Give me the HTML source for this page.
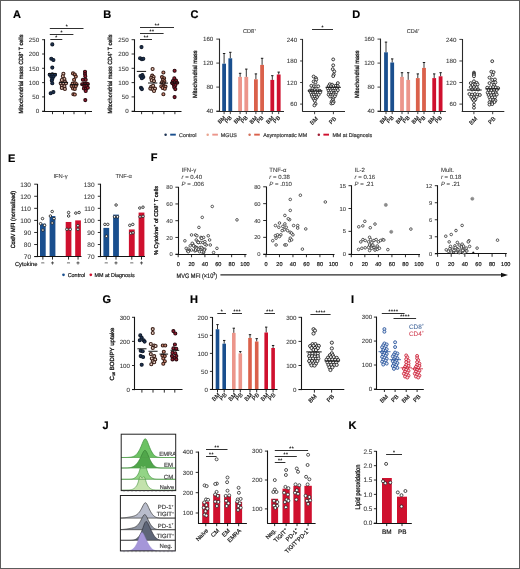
<!DOCTYPE html>
<html><head><meta charset="utf-8"><style>
html,body{margin:0;padding:0;background:#fff;}
svg{display:block;will-change:transform;font-family:"Liberation Sans", sans-serif;}
text{stroke:currentColor;stroke-width:0.18px;text-rendering:geometricPrecision;}
text.t{stroke-width:0.08px;}
text.yl{stroke-width:0.3px;}
</style></head><body>
<svg width="520" height="569" viewBox="0 0 520 569">
<rect width="520" height="569" fill="#fff"/>
<rect x="0.5" y="0.5" width="519" height="568" fill="none" stroke="#5c5c5c" stroke-width="1"/>
<text x="13" y="17.8" font-size="11" fill="#000" color="#000" font-weight="bold" >A</text>
<line x1="44.5" y1="39.3" x2="44.5" y2="111.7" stroke="#141414" stroke-width="1.1" />
<line x1="42.1" y1="111.2" x2="44.9" y2="111.2" stroke="#141414" stroke-width="0.9" />
<text x="39.1" y="113.43" font-size="6.2" fill="#383838" color="#383838" text-anchor="end" class="t">0</text>
<line x1="42.1" y1="96.9" x2="44.9" y2="96.9" stroke="#141414" stroke-width="0.9" />
<text x="39.1" y="99.13" font-size="6.2" fill="#383838" color="#383838" text-anchor="end" class="t">50</text>
<line x1="42.1" y1="82.6" x2="44.9" y2="82.6" stroke="#141414" stroke-width="0.9" />
<text x="39.1" y="84.83" font-size="6.2" fill="#383838" color="#383838" text-anchor="end" class="t">100</text>
<line x1="42.1" y1="68.3" x2="44.9" y2="68.3" stroke="#141414" stroke-width="0.9" />
<text x="39.1" y="70.53" font-size="6.2" fill="#383838" color="#383838" text-anchor="end" class="t">150</text>
<line x1="42.1" y1="54" x2="44.9" y2="54" stroke="#141414" stroke-width="0.9" />
<text x="39.1" y="56.23" font-size="6.2" fill="#383838" color="#383838" text-anchor="end" class="t">200</text>
<line x1="42.1" y1="39.7" x2="44.9" y2="39.7" stroke="#141414" stroke-width="0.9" />
<text x="39.1" y="41.93" font-size="6.2" fill="#383838" color="#383838" text-anchor="end" class="t">250</text>
<line x1="42.3" y1="111.5" x2="92" y2="111.5" stroke="#141414" stroke-width="1.1" />
<line x1="52.5" y1="111.2" x2="52.5" y2="114.2" stroke="#141414" stroke-width="0.9" />
<line x1="63.5" y1="111.2" x2="63.5" y2="114.2" stroke="#141414" stroke-width="0.9" />
<line x1="74" y1="111.2" x2="74" y2="114.2" stroke="#141414" stroke-width="0.9" />
<line x1="85.3" y1="111.2" x2="85.3" y2="114.2" stroke="#141414" stroke-width="0.9" />
<text x="22.9" y="74" font-size="6" fill="#141414" color="#141414" text-anchor="middle" textLength="79" lengthAdjust="spacingAndGlyphs" transform="rotate(-90 22.9 74)" class="yl">Mitochondrial mass CD8<tspan font-size="3.72" dy="-2.28">+</tspan><tspan dy="2.28"> T cells</tspan></text>
<line x1="49.8" y1="28.5" x2="83.5" y2="28.5" stroke="#303030" stroke-width="1.0" />
<text x="66.9" y="28" font-size="5" fill="#141414" color="#141414" text-anchor="middle" letter-spacing="0.5">*</text>
<line x1="49.8" y1="34.5" x2="73.4" y2="34.5" stroke="#303030" stroke-width="1.0" />
<text x="61.85" y="34" font-size="5" fill="#141414" color="#141414" text-anchor="middle" letter-spacing="0.5">*</text>
<line x1="50.3" y1="39.5" x2="62.3" y2="39.5" stroke="#303030" stroke-width="1.0" />
<text x="56.55" y="39" font-size="5" fill="#141414" color="#141414" text-anchor="middle" letter-spacing="0.5">*</text>
<circle cx="52.3" cy="44.4" r="1.5" fill="#1d3354" stroke="#101a2a" stroke-width="1.1"/>
<circle cx="51.3" cy="58.7" r="1.5" fill="#1d3354" stroke="#101a2a" stroke-width="1.1"/>
<circle cx="53.4" cy="60" r="1.5" fill="#1d3354" stroke="#101a2a" stroke-width="1.1"/>
<circle cx="52.3" cy="67.6" r="1.5" fill="#1d3354" stroke="#101a2a" stroke-width="1.1"/>
<circle cx="49.7" cy="74.7" r="1.5" fill="#1d3354" stroke="#101a2a" stroke-width="1.1"/>
<circle cx="52.3" cy="74.2" r="1.5" fill="#1d3354" stroke="#101a2a" stroke-width="1.1"/>
<circle cx="55" cy="74.7" r="1.5" fill="#1d3354" stroke="#101a2a" stroke-width="1.1"/>
<circle cx="51.3" cy="76.8" r="1.5" fill="#1d3354" stroke="#101a2a" stroke-width="1.1"/>
<circle cx="53.4" cy="76.8" r="1.5" fill="#1d3354" stroke="#101a2a" stroke-width="1.1"/>
<circle cx="52.3" cy="79" r="1.5" fill="#1d3354" stroke="#101a2a" stroke-width="1.1"/>
<circle cx="51.8" cy="80.5" r="1.5" fill="#1d3354" stroke="#101a2a" stroke-width="1.1"/>
<circle cx="52.3" cy="83.2" r="1.5" fill="#1d3354" stroke="#101a2a" stroke-width="1.1"/>
<circle cx="50.7" cy="93.2" r="1.5" fill="#1d3354" stroke="#101a2a" stroke-width="1.1"/>
<circle cx="53.4" cy="92.1" r="1.5" fill="#1d3354" stroke="#101a2a" stroke-width="1.1"/>
<line x1="48.1" y1="73.5" x2="56.5" y2="73.5" stroke="#111" stroke-width="1.0" />
<circle cx="63.4" cy="73.7" r="1.5" fill="#e6c4b2" stroke="#3a1f18" stroke-width="1.1"/>
<circle cx="62.8" cy="76.3" r="1.5" fill="#e6c4b2" stroke="#3a1f18" stroke-width="1.1"/>
<circle cx="64.4" cy="79" r="1.5" fill="#e6c4b2" stroke="#3a1f18" stroke-width="1.1"/>
<circle cx="61.8" cy="80" r="1.5" fill="#e6c4b2" stroke="#3a1f18" stroke-width="1.1"/>
<circle cx="64.9" cy="81.6" r="1.5" fill="#e6c4b2" stroke="#3a1f18" stroke-width="1.1"/>
<circle cx="60.7" cy="83.2" r="1.5" fill="#e6c4b2" stroke="#3a1f18" stroke-width="1.1"/>
<circle cx="63.4" cy="83.2" r="1.5" fill="#e6c4b2" stroke="#3a1f18" stroke-width="1.1"/>
<circle cx="66" cy="83.2" r="1.5" fill="#e6c4b2" stroke="#3a1f18" stroke-width="1.1"/>
<circle cx="61.8" cy="85.8" r="1.5" fill="#e6c4b2" stroke="#3a1f18" stroke-width="1.1"/>
<circle cx="64.4" cy="86.3" r="1.5" fill="#e6c4b2" stroke="#3a1f18" stroke-width="1.1"/>
<circle cx="61.8" cy="87.9" r="1.5" fill="#e6c4b2" stroke="#3a1f18" stroke-width="1.1"/>
<circle cx="64.9" cy="88.9" r="1.5" fill="#e6c4b2" stroke="#3a1f18" stroke-width="1.1"/>
<line x1="59.2" y1="82.6" x2="68.1" y2="82.6" stroke="#111" stroke-width="1.0" />
<circle cx="73" cy="73.4" r="1.5" fill="#cf8c78" stroke="#3a1f18" stroke-width="1.1"/>
<circle cx="74.8" cy="74.5" r="1.5" fill="#cf8c78" stroke="#3a1f18" stroke-width="1.1"/>
<circle cx="75.8" cy="76.6" r="1.5" fill="#cf8c78" stroke="#3a1f18" stroke-width="1.1"/>
<circle cx="74.1" cy="79.8" r="1.5" fill="#cf8c78" stroke="#3a1f18" stroke-width="1.1"/>
<circle cx="72.7" cy="83.6" r="1.5" fill="#cf8c78" stroke="#3a1f18" stroke-width="1.1"/>
<circle cx="75.1" cy="83.3" r="1.5" fill="#cf8c78" stroke="#3a1f18" stroke-width="1.1"/>
<circle cx="76.5" cy="84.3" r="1.5" fill="#cf8c78" stroke="#3a1f18" stroke-width="1.1"/>
<circle cx="71.6" cy="86.1" r="1.5" fill="#cf8c78" stroke="#3a1f18" stroke-width="1.1"/>
<circle cx="73.7" cy="86.1" r="1.5" fill="#cf8c78" stroke="#3a1f18" stroke-width="1.1"/>
<circle cx="75.8" cy="86.1" r="1.5" fill="#cf8c78" stroke="#3a1f18" stroke-width="1.1"/>
<circle cx="73" cy="88.5" r="1.5" fill="#cf8c78" stroke="#3a1f18" stroke-width="1.1"/>
<circle cx="74.8" cy="88.9" r="1.5" fill="#cf8c78" stroke="#3a1f18" stroke-width="1.1"/>
<circle cx="73.4" cy="94.2" r="1.5" fill="#cf8c78" stroke="#3a1f18" stroke-width="1.1"/>
<circle cx="74.8" cy="94.5" r="1.5" fill="#cf8c78" stroke="#3a1f18" stroke-width="1.1"/>
<line x1="69.9" y1="84.7" x2="78.3" y2="84.7" stroke="#111" stroke-width="1.0" />
<circle cx="85" cy="71.7" r="1.5" fill="#9e1b30" stroke="#2a0a10" stroke-width="1.1"/>
<circle cx="85" cy="74.1" r="1.5" fill="#9e1b30" stroke="#2a0a10" stroke-width="1.1"/>
<circle cx="85.3" cy="76.2" r="1.5" fill="#9e1b30" stroke="#2a0a10" stroke-width="1.1"/>
<circle cx="82.9" cy="79.8" r="1.5" fill="#9e1b30" stroke="#2a0a10" stroke-width="1.1"/>
<circle cx="85.7" cy="79.8" r="1.5" fill="#9e1b30" stroke="#2a0a10" stroke-width="1.1"/>
<circle cx="84.3" cy="83.6" r="1.5" fill="#9e1b30" stroke="#2a0a10" stroke-width="1.1"/>
<circle cx="82.2" cy="84.3" r="1.5" fill="#9e1b30" stroke="#2a0a10" stroke-width="1.1"/>
<circle cx="86.4" cy="83.6" r="1.5" fill="#9e1b30" stroke="#2a0a10" stroke-width="1.1"/>
<circle cx="87.8" cy="84" r="1.5" fill="#9e1b30" stroke="#2a0a10" stroke-width="1.1"/>
<circle cx="84.3" cy="86.1" r="1.5" fill="#9e1b30" stroke="#2a0a10" stroke-width="1.1"/>
<circle cx="86.4" cy="86.1" r="1.5" fill="#9e1b30" stroke="#2a0a10" stroke-width="1.1"/>
<circle cx="83.9" cy="88.5" r="1.5" fill="#9e1b30" stroke="#2a0a10" stroke-width="1.1"/>
<circle cx="86" cy="88.9" r="1.5" fill="#9e1b30" stroke="#2a0a10" stroke-width="1.1"/>
<circle cx="87.8" cy="87.8" r="1.5" fill="#9e1b30" stroke="#2a0a10" stroke-width="1.1"/>
<circle cx="85.7" cy="91" r="1.5" fill="#9e1b30" stroke="#2a0a10" stroke-width="1.1"/>
<circle cx="85.3" cy="100.1" r="1.5" fill="#9e1b30" stroke="#2a0a10" stroke-width="1.1"/>
<line x1="81.1" y1="84.3" x2="89.2" y2="84.3" stroke="#111" stroke-width="1.0" />
<text x="103.2" y="17.9" font-size="11" fill="#000" color="#000" font-weight="bold" >B</text>
<line x1="134.5" y1="39.3" x2="134.5" y2="111.7" stroke="#141414" stroke-width="1.1" />
<line x1="131.6" y1="111.2" x2="134.4" y2="111.2" stroke="#141414" stroke-width="0.9" />
<text x="128.6" y="113.43" font-size="6.2" fill="#383838" color="#383838" text-anchor="end" class="t">0</text>
<line x1="131.6" y1="96.9" x2="134.4" y2="96.9" stroke="#141414" stroke-width="0.9" />
<text x="128.6" y="99.13" font-size="6.2" fill="#383838" color="#383838" text-anchor="end" class="t">50</text>
<line x1="131.6" y1="82.6" x2="134.4" y2="82.6" stroke="#141414" stroke-width="0.9" />
<text x="128.6" y="84.83" font-size="6.2" fill="#383838" color="#383838" text-anchor="end" class="t">100</text>
<line x1="131.6" y1="68.3" x2="134.4" y2="68.3" stroke="#141414" stroke-width="0.9" />
<text x="128.6" y="70.53" font-size="6.2" fill="#383838" color="#383838" text-anchor="end" class="t">150</text>
<line x1="131.6" y1="54" x2="134.4" y2="54" stroke="#141414" stroke-width="0.9" />
<text x="128.6" y="56.23" font-size="6.2" fill="#383838" color="#383838" text-anchor="end" class="t">200</text>
<line x1="131.6" y1="39.7" x2="134.4" y2="39.7" stroke="#141414" stroke-width="0.9" />
<text x="128.6" y="41.93" font-size="6.2" fill="#383838" color="#383838" text-anchor="end" class="t">250</text>
<line x1="131.8" y1="111.5" x2="181.5" y2="111.5" stroke="#141414" stroke-width="1.1" />
<line x1="141.6" y1="111.2" x2="141.6" y2="114.2" stroke="#141414" stroke-width="0.9" />
<line x1="152.7" y1="111.2" x2="152.7" y2="114.2" stroke="#141414" stroke-width="0.9" />
<line x1="163.9" y1="111.2" x2="163.9" y2="114.2" stroke="#141414" stroke-width="0.9" />
<line x1="174.9" y1="111.2" x2="174.9" y2="114.2" stroke="#141414" stroke-width="0.9" />
<text x="112.3" y="74" font-size="6" fill="#141414" color="#141414" text-anchor="middle" textLength="79" lengthAdjust="spacingAndGlyphs" transform="rotate(-90 112.3 74)" class="yl">Mitochondrial mass CD4<tspan font-size="3.72" dy="-2.28">+</tspan><tspan dy="2.28"> T cells</tspan></text>
<line x1="140" y1="27.5" x2="174" y2="27.5" stroke="#303030" stroke-width="1.0" />
<text x="157.25" y="27" font-size="5" fill="#141414" color="#141414" text-anchor="middle" letter-spacing="0.5">**</text>
<line x1="140" y1="33.5" x2="163.6" y2="33.5" stroke="#303030" stroke-width="1.0" />
<text x="152.05" y="33" font-size="5" fill="#141414" color="#141414" text-anchor="middle" letter-spacing="0.5">**</text>
<line x1="140" y1="39.5" x2="152" y2="39.5" stroke="#303030" stroke-width="1.0" />
<text x="146.25" y="39" font-size="5" fill="#141414" color="#141414" text-anchor="middle" letter-spacing="0.5">**</text>
<circle cx="141.5" cy="47.1" r="1.5" fill="#1d3354" stroke="#101a2a" stroke-width="1.1"/>
<circle cx="140.1" cy="58.3" r="1.5" fill="#1d3354" stroke="#101a2a" stroke-width="1.1"/>
<circle cx="141.9" cy="59.2" r="1.5" fill="#1d3354" stroke="#101a2a" stroke-width="1.1"/>
<circle cx="143.3" cy="58.8" r="1.5" fill="#1d3354" stroke="#101a2a" stroke-width="1.1"/>
<circle cx="140.5" cy="76" r="1.5" fill="#1d3354" stroke="#101a2a" stroke-width="1.1"/>
<circle cx="142.4" cy="75.1" r="1.5" fill="#1d3354" stroke="#101a2a" stroke-width="1.1"/>
<circle cx="143.3" cy="77" r="1.5" fill="#1d3354" stroke="#101a2a" stroke-width="1.1"/>
<circle cx="141.9" cy="78.3" r="1.5" fill="#1d3354" stroke="#101a2a" stroke-width="1.1"/>
<circle cx="141" cy="87.7" r="1.5" fill="#1d3354" stroke="#101a2a" stroke-width="1.1"/>
<circle cx="141.9" cy="89.1" r="1.5" fill="#1d3354" stroke="#101a2a" stroke-width="1.1"/>
<line x1="136.8" y1="71.4" x2="146.1" y2="71.4" stroke="#111" stroke-width="1.0" />
<circle cx="152.6" cy="69" r="1.5" fill="#e6c4b2" stroke="#3a1f18" stroke-width="1.1"/>
<circle cx="152.2" cy="75.6" r="1.5" fill="#e6c4b2" stroke="#3a1f18" stroke-width="1.1"/>
<circle cx="153.6" cy="77" r="1.5" fill="#e6c4b2" stroke="#3a1f18" stroke-width="1.1"/>
<circle cx="151.2" cy="77.9" r="1.5" fill="#e6c4b2" stroke="#3a1f18" stroke-width="1.1"/>
<circle cx="153.1" cy="78.8" r="1.5" fill="#e6c4b2" stroke="#3a1f18" stroke-width="1.1"/>
<circle cx="151.7" cy="80.2" r="1.5" fill="#e6c4b2" stroke="#3a1f18" stroke-width="1.1"/>
<circle cx="154" cy="81.1" r="1.5" fill="#e6c4b2" stroke="#3a1f18" stroke-width="1.1"/>
<circle cx="151.2" cy="86.7" r="1.5" fill="#e6c4b2" stroke="#3a1f18" stroke-width="1.1"/>
<circle cx="153.1" cy="85.8" r="1.5" fill="#e6c4b2" stroke="#3a1f18" stroke-width="1.1"/>
<circle cx="150.3" cy="88.6" r="1.5" fill="#e6c4b2" stroke="#3a1f18" stroke-width="1.1"/>
<circle cx="152.6" cy="89.1" r="1.5" fill="#e6c4b2" stroke="#3a1f18" stroke-width="1.1"/>
<circle cx="155" cy="88.6" r="1.5" fill="#e6c4b2" stroke="#3a1f18" stroke-width="1.1"/>
<circle cx="154" cy="91" r="1.5" fill="#e6c4b2" stroke="#3a1f18" stroke-width="1.1"/>
<line x1="148" y1="83" x2="157.3" y2="83" stroke="#111" stroke-width="1.0" />
<circle cx="163.4" cy="72.5" r="1.5" fill="#cf8c78" stroke="#3a1f18" stroke-width="1.1"/>
<circle cx="162" cy="77.1" r="1.5" fill="#cf8c78" stroke="#3a1f18" stroke-width="1.1"/>
<circle cx="164.1" cy="78.2" r="1.5" fill="#cf8c78" stroke="#3a1f18" stroke-width="1.1"/>
<circle cx="163" cy="79.9" r="1.5" fill="#cf8c78" stroke="#3a1f18" stroke-width="1.1"/>
<circle cx="164.4" cy="81.3" r="1.5" fill="#cf8c78" stroke="#3a1f18" stroke-width="1.1"/>
<circle cx="162" cy="82.4" r="1.5" fill="#cf8c78" stroke="#3a1f18" stroke-width="1.1"/>
<circle cx="163.7" cy="83.1" r="1.5" fill="#cf8c78" stroke="#3a1f18" stroke-width="1.1"/>
<circle cx="161.3" cy="86.2" r="1.5" fill="#cf8c78" stroke="#3a1f18" stroke-width="1.1"/>
<circle cx="163.4" cy="86.6" r="1.5" fill="#cf8c78" stroke="#3a1f18" stroke-width="1.1"/>
<circle cx="165.5" cy="86.6" r="1.5" fill="#cf8c78" stroke="#3a1f18" stroke-width="1.1"/>
<circle cx="162.7" cy="88" r="1.5" fill="#cf8c78" stroke="#3a1f18" stroke-width="1.1"/>
<circle cx="164.8" cy="88.7" r="1.5" fill="#cf8c78" stroke="#3a1f18" stroke-width="1.1"/>
<circle cx="163.4" cy="94.3" r="1.5" fill="#cf8c78" stroke="#3a1f18" stroke-width="1.1"/>
<line x1="159.2" y1="83.1" x2="168" y2="83.1" stroke="#111" stroke-width="1.0" />
<circle cx="174.6" cy="70.8" r="1.5" fill="#9e1b30" stroke="#2a0a10" stroke-width="1.1"/>
<circle cx="174.3" cy="78.2" r="1.5" fill="#9e1b30" stroke="#2a0a10" stroke-width="1.1"/>
<circle cx="172.9" cy="81" r="1.5" fill="#9e1b30" stroke="#2a0a10" stroke-width="1.1"/>
<circle cx="176" cy="80.6" r="1.5" fill="#9e1b30" stroke="#2a0a10" stroke-width="1.1"/>
<circle cx="174.6" cy="82.4" r="1.5" fill="#9e1b30" stroke="#2a0a10" stroke-width="1.1"/>
<circle cx="172.2" cy="83.1" r="1.5" fill="#9e1b30" stroke="#2a0a10" stroke-width="1.1"/>
<circle cx="177.1" cy="82.7" r="1.5" fill="#9e1b30" stroke="#2a0a10" stroke-width="1.1"/>
<circle cx="173.9" cy="85.2" r="1.5" fill="#9e1b30" stroke="#2a0a10" stroke-width="1.1"/>
<circle cx="175.3" cy="85.2" r="1.5" fill="#9e1b30" stroke="#2a0a10" stroke-width="1.1"/>
<circle cx="174.3" cy="87.3" r="1.5" fill="#9e1b30" stroke="#2a0a10" stroke-width="1.1"/>
<circle cx="175.3" cy="89.1" r="1.5" fill="#9e1b30" stroke="#2a0a10" stroke-width="1.1"/>
<circle cx="174.6" cy="97.1" r="1.5" fill="#9e1b30" stroke="#2a0a10" stroke-width="1.1"/>
<line x1="170" y1="82.9" x2="179.2" y2="82.9" stroke="#111" stroke-width="1.0" />
<text x="190.4" y="17.7" font-size="11" fill="#000" color="#000" font-weight="bold" >C</text>
<text x="249.5" y="33" font-size="5.6" fill="#3a3a3a" color="#3a3a3a" text-anchor="middle" class="t">CD8<tspan font-size="3.22" dy="-1.98">+</tspan><tspan dy="1.98"></tspan></text>
<line x1="219.5" y1="38.6" x2="219.5" y2="111.6" stroke="#2a2a2a" stroke-width="1.1" />
<line x1="216.3" y1="111.1" x2="219.1" y2="111.1" stroke="#2a2a2a" stroke-width="0.9" />
<text x="213.3" y="113.33" font-size="6.2" fill="#383838" color="#383838" text-anchor="end" class="t">40</text>
<line x1="216.3" y1="87.1" x2="219.1" y2="87.1" stroke="#2a2a2a" stroke-width="0.9" />
<text x="213.3" y="89.33" font-size="6.2" fill="#383838" color="#383838" text-anchor="end" class="t">80</text>
<line x1="216.3" y1="63.1" x2="219.1" y2="63.1" stroke="#2a2a2a" stroke-width="0.9" />
<text x="213.3" y="65.33" font-size="6.2" fill="#383838" color="#383838" text-anchor="end" class="t">120</text>
<line x1="216.3" y1="39.1" x2="219.1" y2="39.1" stroke="#2a2a2a" stroke-width="0.9" />
<text x="213.3" y="41.33" font-size="6.2" fill="#383838" color="#383838" text-anchor="end" class="t">160</text>
<text x="196.8" y="74.2" font-size="6" fill="#141414" color="#141414" text-anchor="middle" textLength="47.5" lengthAdjust="spacingAndGlyphs" transform="rotate(-90 196.8 74.2)" class="yl">Mitochondrial mass</text>
<line x1="224.1" y1="63.7" x2="224.1" y2="53.5" stroke="#111" stroke-width="0.85" />
<line x1="222.9" y1="53.5" x2="225.3" y2="53.5" stroke="#111" stroke-width="0.95" />
<rect x="222.2" y="63.7" width="3.8" height="47.4" fill="#1a4f8e" />
<line x1="230.3" y1="58.3" x2="230.3" y2="52.3" stroke="#111" stroke-width="0.85" />
<line x1="229.1" y1="52.3" x2="231.5" y2="52.3" stroke="#111" stroke-width="0.95" />
<rect x="228.4" y="58.3" width="3.8" height="52.8" fill="#1a4f8e" />
<line x1="240.1" y1="76.9" x2="240.1" y2="73.3" stroke="#111" stroke-width="0.85" />
<line x1="238.9" y1="73.3" x2="241.3" y2="73.3" stroke="#111" stroke-width="0.95" />
<rect x="238.2" y="76.9" width="3.8" height="34.2" fill="#ec968b" />
<line x1="246.3" y1="76.9" x2="246.3" y2="69.1" stroke="#111" stroke-width="0.85" />
<line x1="245.1" y1="69.1" x2="247.5" y2="69.1" stroke="#111" stroke-width="0.95" />
<rect x="244.4" y="76.9" width="3.8" height="34.2" fill="#ec968b" />
<line x1="255.9" y1="79.3" x2="255.9" y2="73.9" stroke="#111" stroke-width="0.85" />
<line x1="254.7" y1="73.9" x2="257.1" y2="73.9" stroke="#111" stroke-width="0.95" />
<rect x="254" y="79.3" width="3.8" height="31.8" fill="#da614b" />
<line x1="262.1" y1="64.9" x2="262.1" y2="58.3" stroke="#111" stroke-width="0.85" />
<line x1="260.9" y1="58.3" x2="263.3" y2="58.3" stroke="#111" stroke-width="0.95" />
<rect x="260.2" y="64.9" width="3.8" height="46.2" fill="#da614b" />
<line x1="272.3" y1="79.9" x2="272.3" y2="75.7" stroke="#111" stroke-width="0.85" />
<line x1="271.1" y1="75.7" x2="273.5" y2="75.7" stroke="#111" stroke-width="0.95" />
<rect x="270.4" y="79.9" width="3.8" height="31.2" fill="#cf102e" />
<line x1="278.7" y1="74.5" x2="278.7" y2="72.1" stroke="#111" stroke-width="0.85" />
<line x1="277.5" y1="72.1" x2="279.9" y2="72.1" stroke="#111" stroke-width="0.95" />
<rect x="276.8" y="74.5" width="3.8" height="36.6" fill="#cf102e" />
<line x1="216.5" y1="111.5" x2="284" y2="111.5" stroke="#2a2a2a" stroke-width="1.1" />
<line x1="224.1" y1="111.1" x2="224.1" y2="114.1" stroke="#2a2a2a" stroke-width="0.9" />
<line x1="230.3" y1="111.1" x2="230.3" y2="114.1" stroke="#2a2a2a" stroke-width="0.9" />
<line x1="240.1" y1="111.1" x2="240.1" y2="114.1" stroke="#2a2a2a" stroke-width="0.9" />
<line x1="246.3" y1="111.1" x2="246.3" y2="114.1" stroke="#2a2a2a" stroke-width="0.9" />
<line x1="255.9" y1="111.1" x2="255.9" y2="114.1" stroke="#2a2a2a" stroke-width="0.9" />
<line x1="262.1" y1="111.1" x2="262.1" y2="114.1" stroke="#2a2a2a" stroke-width="0.9" />
<line x1="272.3" y1="111.1" x2="272.3" y2="114.1" stroke="#2a2a2a" stroke-width="0.9" />
<line x1="278.7" y1="111.1" x2="278.7" y2="114.1" stroke="#2a2a2a" stroke-width="0.9" />
<text x="226" y="118.2" font-size="5.6" fill="#141414" color="#141414" text-anchor="end" transform="rotate(-45 226 118.2)" >BM</text>
<text x="232.2" y="118.2" font-size="5.6" fill="#141414" color="#141414" text-anchor="end" transform="rotate(-45 232.2 118.2)" >PB</text>
<text x="242" y="118.2" font-size="5.6" fill="#141414" color="#141414" text-anchor="end" transform="rotate(-45 242 118.2)" >BM</text>
<text x="248.2" y="118.2" font-size="5.6" fill="#141414" color="#141414" text-anchor="end" transform="rotate(-45 248.2 118.2)" >PB</text>
<text x="257.8" y="118.2" font-size="5.6" fill="#141414" color="#141414" text-anchor="end" transform="rotate(-45 257.8 118.2)" >BM</text>
<text x="264" y="118.2" font-size="5.6" fill="#141414" color="#141414" text-anchor="end" transform="rotate(-45 264 118.2)" >PB</text>
<text x="274.2" y="118.2" font-size="5.6" fill="#141414" color="#141414" text-anchor="end" transform="rotate(-45 274.2 118.2)" >BM</text>
<text x="280.6" y="118.2" font-size="5.6" fill="#141414" color="#141414" text-anchor="end" transform="rotate(-45 280.6 118.2)" >PB</text>
<line x1="302.5" y1="39" x2="302.5" y2="111.7" stroke="#2a2a2a" stroke-width="1.1" />
<line x1="300.1" y1="104.1" x2="302.9" y2="104.1" stroke="#2a2a2a" stroke-width="0.9" />
<text x="297.1" y="106.33" font-size="6.2" fill="#383838" color="#383838" text-anchor="end" class="t">60</text>
<line x1="300.1" y1="82.53" x2="302.9" y2="82.53" stroke="#2a2a2a" stroke-width="0.9" />
<text x="297.1" y="84.77" font-size="6.2" fill="#383838" color="#383838" text-anchor="end" class="t">120</text>
<line x1="300.1" y1="60.97" x2="302.9" y2="60.97" stroke="#2a2a2a" stroke-width="0.9" />
<text x="297.1" y="63.2" font-size="6.2" fill="#383838" color="#383838" text-anchor="end" class="t">180</text>
<line x1="300.1" y1="39.4" x2="302.9" y2="39.4" stroke="#2a2a2a" stroke-width="0.9" />
<text x="297.1" y="41.63" font-size="6.2" fill="#383838" color="#383838" text-anchor="end" class="t">240</text>
<line x1="302.4" y1="111.5" x2="345" y2="111.5" stroke="#2a2a2a" stroke-width="1.1" />
<line x1="314.6" y1="111.2" x2="314.6" y2="114.2" stroke="#2a2a2a" stroke-width="0.9" />
<line x1="333.4" y1="111.2" x2="333.4" y2="114.2" stroke="#2a2a2a" stroke-width="0.9" />
<text x="318.4" y="119" font-size="5.8" fill="#141414" color="#141414" text-anchor="end" transform="rotate(-45 318.4 119)" >BM</text>
<text x="336.7" y="119" font-size="5.8" fill="#141414" color="#141414" text-anchor="end" transform="rotate(-45 336.7 119)" >PB</text>
<circle cx="313.62" cy="76.54" r="1.45" fill="#f4f4f4" stroke="#141414" stroke-width="0.8"/>
<circle cx="315.92" cy="78.08" r="1.45" fill="#f4f4f4" stroke="#141414" stroke-width="0.8"/>
<circle cx="316.31" cy="79.62" r="1.45" fill="#f4f4f4" stroke="#141414" stroke-width="0.8"/>
<circle cx="313.62" cy="81.54" r="1.45" fill="#f4f4f4" stroke="#141414" stroke-width="0.8"/>
<circle cx="315.54" cy="82.31" r="1.45" fill="#f4f4f4" stroke="#141414" stroke-width="0.8"/>
<circle cx="311.31" cy="85.77" r="1.45" fill="#f4f4f4" stroke="#141414" stroke-width="0.8"/>
<circle cx="314" cy="86.15" r="1.45" fill="#f4f4f4" stroke="#141414" stroke-width="0.8"/>
<circle cx="316.31" cy="86.31" r="1.45" fill="#f4f4f4" stroke="#141414" stroke-width="0.8"/>
<circle cx="318.23" cy="86.31" r="1.45" fill="#f4f4f4" stroke="#141414" stroke-width="0.8"/>
<circle cx="312.46" cy="88.46" r="1.45" fill="#f4f4f4" stroke="#141414" stroke-width="0.8"/>
<circle cx="309.77" cy="90.77" r="1.45" fill="#f4f4f4" stroke="#141414" stroke-width="0.8"/>
<circle cx="312.08" cy="90.62" r="1.45" fill="#f4f4f4" stroke="#141414" stroke-width="0.8"/>
<circle cx="314.77" cy="90.15" r="1.45" fill="#f4f4f4" stroke="#141414" stroke-width="0.8"/>
<circle cx="317.46" cy="90.38" r="1.45" fill="#f4f4f4" stroke="#141414" stroke-width="0.8"/>
<circle cx="319.77" cy="90.77" r="1.45" fill="#f4f4f4" stroke="#141414" stroke-width="0.8"/>
<circle cx="310.92" cy="92.69" r="1.45" fill="#f4f4f4" stroke="#141414" stroke-width="0.8"/>
<circle cx="313.23" cy="93.08" r="1.45" fill="#f4f4f4" stroke="#141414" stroke-width="0.8"/>
<circle cx="315.54" cy="92.31" r="1.45" fill="#f4f4f4" stroke="#141414" stroke-width="0.8"/>
<circle cx="317.85" cy="92.92" r="1.45" fill="#f4f4f4" stroke="#141414" stroke-width="0.8"/>
<circle cx="320.15" cy="92.46" r="1.45" fill="#f4f4f4" stroke="#141414" stroke-width="0.8"/>
<circle cx="311.69" cy="95" r="1.45" fill="#f4f4f4" stroke="#141414" stroke-width="0.8"/>
<circle cx="314" cy="94.62" r="1.45" fill="#f4f4f4" stroke="#141414" stroke-width="0.8"/>
<circle cx="316.31" cy="95" r="1.45" fill="#f4f4f4" stroke="#141414" stroke-width="0.8"/>
<circle cx="318.62" cy="94.77" r="1.45" fill="#f4f4f4" stroke="#141414" stroke-width="0.8"/>
<circle cx="312.46" cy="96.92" r="1.45" fill="#f4f4f4" stroke="#141414" stroke-width="0.8"/>
<circle cx="314.77" cy="96.77" r="1.45" fill="#f4f4f4" stroke="#141414" stroke-width="0.8"/>
<circle cx="317.08" cy="97.08" r="1.45" fill="#f4f4f4" stroke="#141414" stroke-width="0.8"/>
<circle cx="313.62" cy="98.85" r="1.45" fill="#f4f4f4" stroke="#141414" stroke-width="0.8"/>
<circle cx="315.54" cy="99.08" r="1.45" fill="#f4f4f4" stroke="#141414" stroke-width="0.8"/>
<circle cx="314.77" cy="100.77" r="1.45" fill="#f4f4f4" stroke="#141414" stroke-width="0.8"/>
<circle cx="315.54" cy="103.85" r="1.45" fill="#f4f4f4" stroke="#141414" stroke-width="0.8"/>
<circle cx="314.38" cy="105.38" r="1.45" fill="#f4f4f4" stroke="#141414" stroke-width="0.8"/>
<circle cx="337.85" cy="83.08" r="1.45" fill="#f4f4f4" stroke="#141414" stroke-width="0.8"/>
<circle cx="329.77" cy="84.23" r="1.45" fill="#f4f4f4" stroke="#141414" stroke-width="0.8"/>
<circle cx="332.08" cy="84.62" r="1.45" fill="#f4f4f4" stroke="#141414" stroke-width="0.8"/>
<circle cx="328.62" cy="86.15" r="1.45" fill="#f4f4f4" stroke="#141414" stroke-width="0.8"/>
<circle cx="330.92" cy="86.31" r="1.45" fill="#f4f4f4" stroke="#141414" stroke-width="0.8"/>
<circle cx="333.62" cy="86" r="1.45" fill="#f4f4f4" stroke="#141414" stroke-width="0.8"/>
<circle cx="335.92" cy="85.77" r="1.45" fill="#f4f4f4" stroke="#141414" stroke-width="0.8"/>
<circle cx="337.85" cy="86.15" r="1.45" fill="#f4f4f4" stroke="#141414" stroke-width="0.8"/>
<circle cx="327.85" cy="88.46" r="1.45" fill="#f4f4f4" stroke="#141414" stroke-width="0.8"/>
<circle cx="330.15" cy="88.46" r="1.45" fill="#f4f4f4" stroke="#141414" stroke-width="0.8"/>
<circle cx="332.46" cy="88.31" r="1.45" fill="#f4f4f4" stroke="#141414" stroke-width="0.8"/>
<circle cx="334.77" cy="88.46" r="1.45" fill="#f4f4f4" stroke="#141414" stroke-width="0.8"/>
<circle cx="337.08" cy="88.31" r="1.45" fill="#f4f4f4" stroke="#141414" stroke-width="0.8"/>
<circle cx="328.62" cy="90.62" r="1.45" fill="#f4f4f4" stroke="#141414" stroke-width="0.8"/>
<circle cx="330.92" cy="90.38" r="1.45" fill="#f4f4f4" stroke="#141414" stroke-width="0.8"/>
<circle cx="333.23" cy="90.77" r="1.45" fill="#f4f4f4" stroke="#141414" stroke-width="0.8"/>
<circle cx="335.54" cy="90.62" r="1.45" fill="#f4f4f4" stroke="#141414" stroke-width="0.8"/>
<circle cx="337.85" cy="90.15" r="1.45" fill="#f4f4f4" stroke="#141414" stroke-width="0.8"/>
<circle cx="329.38" cy="92.69" r="1.45" fill="#f4f4f4" stroke="#141414" stroke-width="0.8"/>
<circle cx="331.69" cy="92.46" r="1.45" fill="#f4f4f4" stroke="#141414" stroke-width="0.8"/>
<circle cx="334" cy="92.92" r="1.45" fill="#f4f4f4" stroke="#141414" stroke-width="0.8"/>
<circle cx="336.31" cy="92.31" r="1.45" fill="#f4f4f4" stroke="#141414" stroke-width="0.8"/>
<circle cx="328.62" cy="94.62" r="1.45" fill="#f4f4f4" stroke="#141414" stroke-width="0.8"/>
<circle cx="330.92" cy="94.77" r="1.45" fill="#f4f4f4" stroke="#141414" stroke-width="0.8"/>
<circle cx="333.23" cy="94.46" r="1.45" fill="#f4f4f4" stroke="#141414" stroke-width="0.8"/>
<circle cx="335.54" cy="94.62" r="1.45" fill="#f4f4f4" stroke="#141414" stroke-width="0.8"/>
<circle cx="330.15" cy="96.54" r="1.45" fill="#f4f4f4" stroke="#141414" stroke-width="0.8"/>
<circle cx="332.46" cy="96.54" r="1.45" fill="#f4f4f4" stroke="#141414" stroke-width="0.8"/>
<circle cx="334.77" cy="96.31" r="1.45" fill="#f4f4f4" stroke="#141414" stroke-width="0.8"/>
<circle cx="333.23" cy="98.31" r="1.45" fill="#f4f4f4" stroke="#141414" stroke-width="0.8"/>
<circle cx="332.85" cy="100" r="1.45" fill="#f4f4f4" stroke="#141414" stroke-width="0.8"/>
<circle cx="331.69" cy="101.54" r="1.45" fill="#f4f4f4" stroke="#141414" stroke-width="0.8"/>
<circle cx="333.62" cy="101.92" r="1.45" fill="#f4f4f4" stroke="#141414" stroke-width="0.8"/>
<circle cx="331.31" cy="103.46" r="1.45" fill="#f4f4f4" stroke="#141414" stroke-width="0.8"/>
<circle cx="332.85" cy="103.23" r="1.45" fill="#f4f4f4" stroke="#141414" stroke-width="0.8"/>
<circle cx="333.2" cy="59.4" r="1.45" fill="#f4f4f4" stroke="#141414" stroke-width="0.8"/>
<circle cx="333.2" cy="65.3" r="1.45" fill="#f4f4f4" stroke="#141414" stroke-width="0.8"/>
<circle cx="332.7" cy="69.2" r="1.45" fill="#f4f4f4" stroke="#141414" stroke-width="0.8"/>
<circle cx="334.3" cy="71.4" r="1.45" fill="#f4f4f4" stroke="#141414" stroke-width="0.8"/>
<circle cx="333.8" cy="74.5" r="1.45" fill="#f4f4f4" stroke="#141414" stroke-width="0.8"/>
<circle cx="333.2" cy="76.1" r="1.45" fill="#f4f4f4" stroke="#141414" stroke-width="0.8"/>
<line x1="307.8" y1="90.9" x2="322.5" y2="90.9" stroke="#111" stroke-width="1.0" />
<line x1="325.5" y1="87.3" x2="340.9" y2="87.3" stroke="#111" stroke-width="1.0" />
<line x1="312" y1="29.5" x2="333" y2="29.5" stroke="#303030" stroke-width="1.0" />
<text x="322.75" y="29" font-size="5" fill="#141414" color="#141414" text-anchor="middle" letter-spacing="0.5">*</text>
<text x="352.3" y="17.7" font-size="11" fill="#000" color="#000" font-weight="bold" >D</text>
<text x="413.18" y="33" font-size="5.6" fill="#3a3a3a" color="#3a3a3a" text-anchor="middle" class="t">CD4<tspan font-size="3.22" dy="-1.98">+</tspan><tspan dy="1.98"></tspan></text>
<line x1="380.5" y1="38.6" x2="380.5" y2="111.6" stroke="#2a2a2a" stroke-width="1.1" />
<line x1="377.5" y1="111.1" x2="380.3" y2="111.1" stroke="#2a2a2a" stroke-width="0.9" />
<text x="374.5" y="113.33" font-size="6.2" fill="#383838" color="#383838" text-anchor="end" class="t">40</text>
<line x1="377.5" y1="87.1" x2="380.3" y2="87.1" stroke="#2a2a2a" stroke-width="0.9" />
<text x="374.5" y="89.33" font-size="6.2" fill="#383838" color="#383838" text-anchor="end" class="t">80</text>
<line x1="377.5" y1="63.1" x2="380.3" y2="63.1" stroke="#2a2a2a" stroke-width="0.9" />
<text x="374.5" y="65.33" font-size="6.2" fill="#383838" color="#383838" text-anchor="end" class="t">120</text>
<line x1="377.5" y1="39.1" x2="380.3" y2="39.1" stroke="#2a2a2a" stroke-width="0.9" />
<text x="374.5" y="41.33" font-size="6.2" fill="#383838" color="#383838" text-anchor="end" class="t">160</text>
<text x="358.7" y="74.2" font-size="6" fill="#141414" color="#141414" text-anchor="middle" textLength="47.5" lengthAdjust="spacingAndGlyphs" transform="rotate(-90 358.7 74.2)" class="yl">Mitochondrial mass</text>
<line x1="386" y1="52.3" x2="386" y2="42.1" stroke="#111" stroke-width="0.85" />
<line x1="384.8" y1="42.1" x2="387.2" y2="42.1" stroke="#111" stroke-width="0.95" />
<rect x="384.1" y="52.3" width="3.8" height="58.8" fill="#1a4f8e" />
<line x1="392.2" y1="62.5" x2="392.2" y2="58.9" stroke="#111" stroke-width="0.85" />
<line x1="391" y1="58.9" x2="393.4" y2="58.9" stroke="#111" stroke-width="0.95" />
<rect x="390.3" y="62.5" width="3.8" height="48.6" fill="#1a4f8e" />
<line x1="402" y1="76.9" x2="402" y2="72.7" stroke="#111" stroke-width="0.85" />
<line x1="400.8" y1="72.7" x2="403.2" y2="72.7" stroke="#111" stroke-width="0.95" />
<rect x="400.1" y="76.9" width="3.8" height="34.2" fill="#ec968b" />
<line x1="408.2" y1="79.9" x2="408.2" y2="72.7" stroke="#111" stroke-width="0.85" />
<line x1="407" y1="72.7" x2="409.4" y2="72.7" stroke="#111" stroke-width="0.95" />
<rect x="406.3" y="79.9" width="3.8" height="31.2" fill="#ec968b" />
<line x1="417.8" y1="78.1" x2="417.8" y2="73.9" stroke="#111" stroke-width="0.85" />
<line x1="416.6" y1="73.9" x2="419" y2="73.9" stroke="#111" stroke-width="0.95" />
<rect x="415.9" y="78.1" width="3.8" height="33" fill="#da614b" />
<line x1="424" y1="67.9" x2="424" y2="62.5" stroke="#111" stroke-width="0.85" />
<line x1="422.8" y1="62.5" x2="425.2" y2="62.5" stroke="#111" stroke-width="0.95" />
<rect x="422.1" y="67.9" width="3.8" height="43.2" fill="#da614b" />
<line x1="434.2" y1="78.1" x2="434.2" y2="73.9" stroke="#111" stroke-width="0.85" />
<line x1="433" y1="73.9" x2="435.4" y2="73.9" stroke="#111" stroke-width="0.95" />
<rect x="432.3" y="78.1" width="3.8" height="33" fill="#cf102e" />
<line x1="440.6" y1="76.3" x2="440.6" y2="72.7" stroke="#111" stroke-width="0.85" />
<line x1="439.4" y1="72.7" x2="441.8" y2="72.7" stroke="#111" stroke-width="0.95" />
<rect x="438.7" y="76.3" width="3.8" height="34.8" fill="#cf102e" />
<line x1="377.7" y1="111.5" x2="445.9" y2="111.5" stroke="#2a2a2a" stroke-width="1.1" />
<line x1="386" y1="111.1" x2="386" y2="114.1" stroke="#2a2a2a" stroke-width="0.9" />
<line x1="392.2" y1="111.1" x2="392.2" y2="114.1" stroke="#2a2a2a" stroke-width="0.9" />
<line x1="402" y1="111.1" x2="402" y2="114.1" stroke="#2a2a2a" stroke-width="0.9" />
<line x1="408.2" y1="111.1" x2="408.2" y2="114.1" stroke="#2a2a2a" stroke-width="0.9" />
<line x1="417.8" y1="111.1" x2="417.8" y2="114.1" stroke="#2a2a2a" stroke-width="0.9" />
<line x1="424" y1="111.1" x2="424" y2="114.1" stroke="#2a2a2a" stroke-width="0.9" />
<line x1="434.2" y1="111.1" x2="434.2" y2="114.1" stroke="#2a2a2a" stroke-width="0.9" />
<line x1="440.6" y1="111.1" x2="440.6" y2="114.1" stroke="#2a2a2a" stroke-width="0.9" />
<text x="387.9" y="118.2" font-size="5.6" fill="#141414" color="#141414" text-anchor="end" transform="rotate(-45 387.9 118.2)" >BM</text>
<text x="394.1" y="118.2" font-size="5.6" fill="#141414" color="#141414" text-anchor="end" transform="rotate(-45 394.1 118.2)" >PB</text>
<text x="403.9" y="118.2" font-size="5.6" fill="#141414" color="#141414" text-anchor="end" transform="rotate(-45 403.9 118.2)" >BM</text>
<text x="410.1" y="118.2" font-size="5.6" fill="#141414" color="#141414" text-anchor="end" transform="rotate(-45 410.1 118.2)" >PB</text>
<text x="419.7" y="118.2" font-size="5.6" fill="#141414" color="#141414" text-anchor="end" transform="rotate(-45 419.7 118.2)" >BM</text>
<text x="425.9" y="118.2" font-size="5.6" fill="#141414" color="#141414" text-anchor="end" transform="rotate(-45 425.9 118.2)" >PB</text>
<text x="436.1" y="118.2" font-size="5.6" fill="#141414" color="#141414" text-anchor="end" transform="rotate(-45 436.1 118.2)" >BM</text>
<text x="442.5" y="118.2" font-size="5.6" fill="#141414" color="#141414" text-anchor="end" transform="rotate(-45 442.5 118.2)" >PB</text>
<line x1="462.5" y1="39" x2="462.5" y2="111.7" stroke="#2a2a2a" stroke-width="1.1" />
<line x1="459.4" y1="104.1" x2="462.2" y2="104.1" stroke="#2a2a2a" stroke-width="0.9" />
<text x="456.4" y="106.33" font-size="6.2" fill="#383838" color="#383838" text-anchor="end" class="t">60</text>
<line x1="459.4" y1="82.53" x2="462.2" y2="82.53" stroke="#2a2a2a" stroke-width="0.9" />
<text x="456.4" y="84.77" font-size="6.2" fill="#383838" color="#383838" text-anchor="end" class="t">120</text>
<line x1="459.4" y1="60.97" x2="462.2" y2="60.97" stroke="#2a2a2a" stroke-width="0.9" />
<text x="456.4" y="63.2" font-size="6.2" fill="#383838" color="#383838" text-anchor="end" class="t">180</text>
<line x1="459.4" y1="39.4" x2="462.2" y2="39.4" stroke="#2a2a2a" stroke-width="0.9" />
<text x="456.4" y="41.63" font-size="6.2" fill="#383838" color="#383838" text-anchor="end" class="t">240</text>
<line x1="461.7" y1="111.5" x2="504.3" y2="111.5" stroke="#2a2a2a" stroke-width="1.1" />
<line x1="473.9" y1="111.2" x2="473.9" y2="114.2" stroke="#2a2a2a" stroke-width="0.9" />
<line x1="492.7" y1="111.2" x2="492.7" y2="114.2" stroke="#2a2a2a" stroke-width="0.9" />
<text x="477.7" y="119" font-size="5.8" fill="#141414" color="#141414" text-anchor="end" transform="rotate(-45 477.7 119)" >BM</text>
<text x="496" y="119" font-size="5.8" fill="#141414" color="#141414" text-anchor="end" transform="rotate(-45 496 119)" >PB</text>
<circle cx="473.96" cy="72.61" r="1.45" fill="#f4f4f4" stroke="#141414" stroke-width="0.8"/>
<circle cx="473.96" cy="73.71" r="1.45" fill="#f4f4f4" stroke="#141414" stroke-width="0.8"/>
<circle cx="473.96" cy="74.89" r="1.45" fill="#f4f4f4" stroke="#141414" stroke-width="0.8"/>
<circle cx="473.96" cy="76.26" r="1.45" fill="#f4f4f4" stroke="#141414" stroke-width="0.8"/>
<circle cx="473.96" cy="81.29" r="1.45" fill="#f4f4f4" stroke="#141414" stroke-width="0.8"/>
<circle cx="470.76" cy="83.11" r="1.45" fill="#f4f4f4" stroke="#141414" stroke-width="0.8"/>
<circle cx="476.7" cy="82.84" r="1.45" fill="#f4f4f4" stroke="#141414" stroke-width="0.8"/>
<circle cx="472.59" cy="84.94" r="1.45" fill="#f4f4f4" stroke="#141414" stroke-width="0.8"/>
<circle cx="475.33" cy="84.67" r="1.45" fill="#f4f4f4" stroke="#141414" stroke-width="0.8"/>
<circle cx="477.61" cy="84.48" r="1.45" fill="#f4f4f4" stroke="#141414" stroke-width="0.8"/>
<circle cx="470.76" cy="87.22" r="1.45" fill="#f4f4f4" stroke="#141414" stroke-width="0.8"/>
<circle cx="473.96" cy="87.04" r="1.45" fill="#f4f4f4" stroke="#141414" stroke-width="0.8"/>
<circle cx="476.7" cy="87.22" r="1.45" fill="#f4f4f4" stroke="#141414" stroke-width="0.8"/>
<circle cx="472.13" cy="89.51" r="1.45" fill="#f4f4f4" stroke="#141414" stroke-width="0.8"/>
<circle cx="475.33" cy="89.32" r="1.45" fill="#f4f4f4" stroke="#141414" stroke-width="0.8"/>
<circle cx="478.07" cy="89.51" r="1.45" fill="#f4f4f4" stroke="#141414" stroke-width="0.8"/>
<circle cx="469.39" cy="94.07" r="1.45" fill="#f4f4f4" stroke="#141414" stroke-width="0.8"/>
<circle cx="472.13" cy="94.53" r="1.45" fill="#f4f4f4" stroke="#141414" stroke-width="0.8"/>
<circle cx="474.87" cy="94.07" r="1.45" fill="#f4f4f4" stroke="#141414" stroke-width="0.8"/>
<circle cx="477.61" cy="94.53" r="1.45" fill="#f4f4f4" stroke="#141414" stroke-width="0.8"/>
<circle cx="479.89" cy="94.99" r="1.45" fill="#f4f4f4" stroke="#141414" stroke-width="0.8"/>
<circle cx="471.22" cy="96.81" r="1.45" fill="#f4f4f4" stroke="#141414" stroke-width="0.8"/>
<circle cx="473.96" cy="97.27" r="1.45" fill="#f4f4f4" stroke="#141414" stroke-width="0.8"/>
<circle cx="476.7" cy="96.81" r="1.45" fill="#f4f4f4" stroke="#141414" stroke-width="0.8"/>
<circle cx="472.59" cy="99.1" r="1.45" fill="#f4f4f4" stroke="#141414" stroke-width="0.8"/>
<circle cx="475.33" cy="99.55" r="1.45" fill="#f4f4f4" stroke="#141414" stroke-width="0.8"/>
<circle cx="473.96" cy="100.92" r="1.45" fill="#f4f4f4" stroke="#141414" stroke-width="0.8"/>
<circle cx="473.96" cy="104.58" r="1.45" fill="#f4f4f4" stroke="#141414" stroke-width="0.8"/>
<circle cx="473.96" cy="107.77" r="1.45" fill="#f4f4f4" stroke="#141414" stroke-width="0.8"/>
<circle cx="492.22" cy="61.2" r="1.45" fill="#f4f4f4" stroke="#141414" stroke-width="0.8"/>
<circle cx="491.31" cy="71.7" r="1.45" fill="#f4f4f4" stroke="#141414" stroke-width="0.8"/>
<circle cx="493.59" cy="72.16" r="1.45" fill="#f4f4f4" stroke="#141414" stroke-width="0.8"/>
<circle cx="492.68" cy="74.89" r="1.45" fill="#f4f4f4" stroke="#141414" stroke-width="0.8"/>
<circle cx="489.48" cy="77.63" r="1.45" fill="#f4f4f4" stroke="#141414" stroke-width="0.8"/>
<circle cx="492.22" cy="79.92" r="1.45" fill="#f4f4f4" stroke="#141414" stroke-width="0.8"/>
<circle cx="494.96" cy="79.46" r="1.45" fill="#f4f4f4" stroke="#141414" stroke-width="0.8"/>
<circle cx="489.48" cy="83.11" r="1.45" fill="#f4f4f4" stroke="#141414" stroke-width="0.8"/>
<circle cx="493.14" cy="82.66" r="1.45" fill="#f4f4f4" stroke="#141414" stroke-width="0.8"/>
<circle cx="495.42" cy="82.47" r="1.45" fill="#f4f4f4" stroke="#141414" stroke-width="0.8"/>
<circle cx="494.05" cy="84.94" r="1.45" fill="#f4f4f4" stroke="#141414" stroke-width="0.8"/>
<circle cx="487.2" cy="87.68" r="1.45" fill="#f4f4f4" stroke="#141414" stroke-width="0.8"/>
<circle cx="490.4" cy="87.22" r="1.45" fill="#f4f4f4" stroke="#141414" stroke-width="0.8"/>
<circle cx="493.14" cy="87.04" r="1.45" fill="#f4f4f4" stroke="#141414" stroke-width="0.8"/>
<circle cx="495.88" cy="87.41" r="1.45" fill="#f4f4f4" stroke="#141414" stroke-width="0.8"/>
<circle cx="498.16" cy="88.14" r="1.45" fill="#f4f4f4" stroke="#141414" stroke-width="0.8"/>
<circle cx="488.57" cy="89.96" r="1.45" fill="#f4f4f4" stroke="#141414" stroke-width="0.8"/>
<circle cx="491.31" cy="90.15" r="1.45" fill="#f4f4f4" stroke="#141414" stroke-width="0.8"/>
<circle cx="494.05" cy="89.78" r="1.45" fill="#f4f4f4" stroke="#141414" stroke-width="0.8"/>
<circle cx="496.79" cy="89.96" r="1.45" fill="#f4f4f4" stroke="#141414" stroke-width="0.8"/>
<circle cx="487.66" cy="92.7" r="1.45" fill="#f4f4f4" stroke="#141414" stroke-width="0.8"/>
<circle cx="490.4" cy="92.7" r="1.45" fill="#f4f4f4" stroke="#141414" stroke-width="0.8"/>
<circle cx="493.14" cy="92.52" r="1.45" fill="#f4f4f4" stroke="#141414" stroke-width="0.8"/>
<circle cx="495.88" cy="93.16" r="1.45" fill="#f4f4f4" stroke="#141414" stroke-width="0.8"/>
<circle cx="488.57" cy="94.99" r="1.45" fill="#f4f4f4" stroke="#141414" stroke-width="0.8"/>
<circle cx="491.31" cy="95.26" r="1.45" fill="#f4f4f4" stroke="#141414" stroke-width="0.8"/>
<circle cx="494.05" cy="94.99" r="1.45" fill="#f4f4f4" stroke="#141414" stroke-width="0.8"/>
<circle cx="496.79" cy="94.53" r="1.45" fill="#f4f4f4" stroke="#141414" stroke-width="0.8"/>
<circle cx="489.48" cy="97.27" r="1.45" fill="#f4f4f4" stroke="#141414" stroke-width="0.8"/>
<circle cx="492.22" cy="97.45" r="1.45" fill="#f4f4f4" stroke="#141414" stroke-width="0.8"/>
<circle cx="494.96" cy="97.27" r="1.45" fill="#f4f4f4" stroke="#141414" stroke-width="0.8"/>
<circle cx="490.4" cy="99.55" r="1.45" fill="#f4f4f4" stroke="#141414" stroke-width="0.8"/>
<circle cx="493.14" cy="100.01" r="1.45" fill="#f4f4f4" stroke="#141414" stroke-width="0.8"/>
<circle cx="495.42" cy="100.47" r="1.45" fill="#f4f4f4" stroke="#141414" stroke-width="0.8"/>
<circle cx="489.48" cy="102.29" r="1.45" fill="#f4f4f4" stroke="#141414" stroke-width="0.8"/>
<circle cx="492.22" cy="102.75" r="1.45" fill="#f4f4f4" stroke="#141414" stroke-width="0.8"/>
<circle cx="494.51" cy="102.02" r="1.45" fill="#f4f4f4" stroke="#141414" stroke-width="0.8"/>
<circle cx="489.48" cy="104.58" r="1.45" fill="#f4f4f4" stroke="#141414" stroke-width="0.8"/>
<circle cx="492.22" cy="104.12" r="1.45" fill="#f4f4f4" stroke="#141414" stroke-width="0.8"/>
<line x1="467.1" y1="90" x2="481.7" y2="90" stroke="#111" stroke-width="1.0" />
<line x1="485.4" y1="88.9" x2="499.5" y2="88.9" stroke="#111" stroke-width="1.0" />
<circle cx="165.6" cy="134.7" r="1.25" fill="#1d3354"/>
<rect x="170.2" y="133.7" width="5.6" height="1.9" fill="#1a4f8e" />
<text x="179" y="136.5" font-size="5.4" fill="#333" color="#333" textLength="17.5" lengthAdjust="spacingAndGlyphs" >Control</text>
<circle cx="207.7" cy="134.7" r="1.25" fill="#e9a48f"/>
<rect x="212.3" y="133.7" width="5.6" height="1.9" fill="#ec968b" />
<text x="220.8" y="136.5" font-size="5.4" fill="#333" color="#333" textLength="16" lengthAdjust="spacingAndGlyphs" >MGUS</text>
<circle cx="249.6" cy="134.7" r="1.25" fill="#d2705a"/>
<rect x="254.2" y="133.7" width="5.6" height="1.9" fill="#da614b" />
<text x="263.2" y="136.5" font-size="5.4" fill="#333" color="#333" textLength="44" lengthAdjust="spacingAndGlyphs" >Asymptomatic MM</text>
<circle cx="318.8" cy="134.7" r="1.25" fill="#9e1b30"/>
<rect x="323.4" y="133.7" width="5.6" height="1.9" fill="#cf102e" />
<text x="332.4" y="136.5" font-size="5.4" fill="#333" color="#333" textLength="39.8" lengthAdjust="spacingAndGlyphs" >MM at Diagnosis</text>
<text x="8" y="162" font-size="11" fill="#000" color="#000" font-weight="bold" >E</text>
<line x1="37.5" y1="183.8" x2="37.5" y2="257.1" stroke="#141414" stroke-width="1.1" />
<line x1="34.2" y1="256.6" x2="37" y2="256.6" stroke="#141414" stroke-width="0.9" />
<text x="31" y="258.94" font-size="6.5" fill="#383838" color="#383838" text-anchor="end" class="t">70</text>
<line x1="34.2" y1="244.53" x2="37" y2="244.53" stroke="#141414" stroke-width="0.9" />
<text x="31" y="246.87" font-size="6.5" fill="#383838" color="#383838" text-anchor="end" class="t">80</text>
<line x1="34.2" y1="232.47" x2="37" y2="232.47" stroke="#141414" stroke-width="0.9" />
<text x="31" y="234.81" font-size="6.5" fill="#383838" color="#383838" text-anchor="end" class="t">90</text>
<line x1="34.2" y1="220.4" x2="37" y2="220.4" stroke="#141414" stroke-width="0.9" />
<text x="31" y="222.74" font-size="6.5" fill="#383838" color="#383838" text-anchor="end" class="t">100</text>
<line x1="34.2" y1="208.33" x2="37" y2="208.33" stroke="#141414" stroke-width="0.9" />
<text x="31" y="210.67" font-size="6.5" fill="#383838" color="#383838" text-anchor="end" class="t">110</text>
<line x1="34.2" y1="196.27" x2="37" y2="196.27" stroke="#141414" stroke-width="0.9" />
<text x="31" y="198.61" font-size="6.5" fill="#383838" color="#383838" text-anchor="end" class="t">120</text>
<line x1="34.2" y1="184.2" x2="37" y2="184.2" stroke="#141414" stroke-width="0.9" />
<text x="31" y="186.54" font-size="6.5" fill="#383838" color="#383838" text-anchor="end" class="t">130</text>
<text x="60.5" y="177.8" font-size="5.8" fill="#3a3a3a" color="#3a3a3a" text-anchor="middle" class="t">IFN-γ</text>
<rect x="40" y="223.66" width="5.7" height="32.94" fill="#1a4f8e" />
<rect x="49.6" y="216.06" width="5.8" height="40.54" fill="#1a4f8e" />
<rect x="65.7" y="221.97" width="5.7" height="34.63" fill="#cf102e" />
<rect x="75.2" y="220.4" width="5.7" height="36.2" fill="#cf102e" />
<line x1="34.4" y1="256.5" x2="81.5" y2="256.5" stroke="#141414" stroke-width="1.1" />
<line x1="42.85" y1="256.6" x2="42.85" y2="259.6" stroke="#141414" stroke-width="0.9" />
<line x1="52.5" y1="256.6" x2="52.5" y2="259.6" stroke="#141414" stroke-width="0.9" />
<line x1="68.55" y1="256.6" x2="68.55" y2="259.6" stroke="#141414" stroke-width="0.9" />
<line x1="78.05" y1="256.6" x2="78.05" y2="259.6" stroke="#141414" stroke-width="0.9" />
<circle cx="42.5" cy="218.6" r="1.25" fill="#fff" stroke="#151515" stroke-width="0.8"/>
<circle cx="40.6" cy="223.7" r="1.25" fill="#fff" stroke="#151515" stroke-width="0.8"/>
<circle cx="44.6" cy="225.3" r="1.25" fill="#fff" stroke="#151515" stroke-width="0.8"/>
<circle cx="42.9" cy="230.1" r="1.25" fill="#fff" stroke="#151515" stroke-width="0.8"/>
<circle cx="52.2" cy="211.5" r="1.25" fill="#fff" stroke="#151515" stroke-width="0.8"/>
<circle cx="50.4" cy="216" r="1.25" fill="#fff" stroke="#151515" stroke-width="0.8"/>
<circle cx="54" cy="218.6" r="1.25" fill="#fff" stroke="#151515" stroke-width="0.8"/>
<circle cx="52.2" cy="223" r="1.25" fill="#fff" stroke="#151515" stroke-width="0.8"/>
<circle cx="68.6" cy="212.5" r="1.25" fill="#fff" stroke="#151515" stroke-width="0.8"/>
<circle cx="68.6" cy="216" r="1.25" fill="#fff" stroke="#151515" stroke-width="0.8"/>
<circle cx="66.9" cy="229.3" r="1.25" fill="#fff" stroke="#151515" stroke-width="0.8"/>
<circle cx="70.2" cy="229.3" r="1.25" fill="#fff" stroke="#151515" stroke-width="0.8"/>
<circle cx="75.8" cy="213.1" r="1.25" fill="#fff" stroke="#151515" stroke-width="0.8"/>
<circle cx="79.1" cy="212.5" r="1.25" fill="#fff" stroke="#151515" stroke-width="0.8"/>
<circle cx="77.9" cy="225.7" r="1.25" fill="#fff" stroke="#151515" stroke-width="0.8"/>
<circle cx="77.9" cy="229.3" r="1.25" fill="#fff" stroke="#151515" stroke-width="0.8"/>
<text x="42.85" y="265.3" font-size="6" fill="#141414" color="#141414" text-anchor="middle" >−</text>
<text x="52.5" y="265.3" font-size="6" fill="#141414" color="#141414" text-anchor="middle" >+</text>
<text x="68.55" y="265.3" font-size="6" fill="#141414" color="#141414" text-anchor="middle" >−</text>
<text x="78.05" y="265.3" font-size="6" fill="#141414" color="#141414" text-anchor="middle" >+</text>
<line x1="100.5" y1="183.8" x2="100.5" y2="257.1" stroke="#141414" stroke-width="1.1" />
<line x1="97.8" y1="256.6" x2="100.6" y2="256.6" stroke="#141414" stroke-width="0.9" />
<text x="94.6" y="258.94" font-size="6.5" fill="#383838" color="#383838" text-anchor="end" class="t">70</text>
<line x1="97.8" y1="244.53" x2="100.6" y2="244.53" stroke="#141414" stroke-width="0.9" />
<text x="94.6" y="246.87" font-size="6.5" fill="#383838" color="#383838" text-anchor="end" class="t">80</text>
<line x1="97.8" y1="232.47" x2="100.6" y2="232.47" stroke="#141414" stroke-width="0.9" />
<text x="94.6" y="234.81" font-size="6.5" fill="#383838" color="#383838" text-anchor="end" class="t">90</text>
<line x1="97.8" y1="220.4" x2="100.6" y2="220.4" stroke="#141414" stroke-width="0.9" />
<text x="94.6" y="222.74" font-size="6.5" fill="#383838" color="#383838" text-anchor="end" class="t">100</text>
<line x1="97.8" y1="208.33" x2="100.6" y2="208.33" stroke="#141414" stroke-width="0.9" />
<text x="94.6" y="210.67" font-size="6.5" fill="#383838" color="#383838" text-anchor="end" class="t">110</text>
<line x1="97.8" y1="196.27" x2="100.6" y2="196.27" stroke="#141414" stroke-width="0.9" />
<text x="94.6" y="198.61" font-size="6.5" fill="#383838" color="#383838" text-anchor="end" class="t">120</text>
<line x1="97.8" y1="184.2" x2="100.6" y2="184.2" stroke="#141414" stroke-width="0.9" />
<text x="94.6" y="186.54" font-size="6.5" fill="#383838" color="#383838" text-anchor="end" class="t">130</text>
<text x="123.7" y="177.8" font-size="5.8" fill="#3a3a3a" color="#3a3a3a" text-anchor="middle" class="t">TNF-α</text>
<rect x="103.4" y="227.88" width="5.8" height="28.72" fill="#1a4f8e" />
<rect x="113.1" y="214.61" width="5.8" height="41.99" fill="#1a4f8e" />
<rect x="128.9" y="229.45" width="5.8" height="27.15" fill="#cf102e" />
<rect x="138.6" y="212.56" width="5.8" height="44.04" fill="#cf102e" />
<line x1="98" y1="256.5" x2="145" y2="256.5" stroke="#141414" stroke-width="1.1" />
<line x1="106.3" y1="256.6" x2="106.3" y2="259.6" stroke="#141414" stroke-width="0.9" />
<line x1="116" y1="256.6" x2="116" y2="259.6" stroke="#141414" stroke-width="0.9" />
<line x1="131.8" y1="256.6" x2="131.8" y2="259.6" stroke="#141414" stroke-width="0.9" />
<line x1="141.5" y1="256.6" x2="141.5" y2="259.6" stroke="#141414" stroke-width="0.9" />
<circle cx="104.9" cy="224.4" r="1.25" fill="#fff" stroke="#151515" stroke-width="0.8"/>
<circle cx="107.8" cy="224.4" r="1.25" fill="#fff" stroke="#151515" stroke-width="0.8"/>
<circle cx="106.4" cy="236.2" r="1.25" fill="#fff" stroke="#151515" stroke-width="0.8"/>
<circle cx="116.1" cy="205" r="1.25" fill="#fff" stroke="#151515" stroke-width="0.8"/>
<circle cx="114.5" cy="216.8" r="1.25" fill="#fff" stroke="#151515" stroke-width="0.8"/>
<circle cx="117.5" cy="216.8" r="1.25" fill="#fff" stroke="#151515" stroke-width="0.8"/>
<circle cx="129.8" cy="225.3" r="1.25" fill="#fff" stroke="#151515" stroke-width="0.8"/>
<circle cx="132.8" cy="224.4" r="1.25" fill="#fff" stroke="#151515" stroke-width="0.8"/>
<circle cx="130.7" cy="233.2" r="1.25" fill="#fff" stroke="#151515" stroke-width="0.8"/>
<circle cx="133" cy="232.8" r="1.25" fill="#fff" stroke="#151515" stroke-width="0.8"/>
<circle cx="139.8" cy="208" r="1.25" fill="#fff" stroke="#151515" stroke-width="0.8"/>
<circle cx="143" cy="207.2" r="1.25" fill="#fff" stroke="#151515" stroke-width="0.8"/>
<circle cx="140" cy="216.8" r="1.25" fill="#fff" stroke="#151515" stroke-width="0.8"/>
<circle cx="143" cy="216.3" r="1.25" fill="#fff" stroke="#151515" stroke-width="0.8"/>
<text x="106.3" y="265.3" font-size="6" fill="#141414" color="#141414" text-anchor="middle" >−</text>
<text x="116" y="265.3" font-size="6" fill="#141414" color="#141414" text-anchor="middle" >+</text>
<text x="131.8" y="265.3" font-size="6" fill="#141414" color="#141414" text-anchor="middle" >−</text>
<text x="141.5" y="265.3" font-size="6" fill="#141414" color="#141414" text-anchor="middle" >+</text>
<text x="14.7" y="219.6" font-size="6" fill="#141414" color="#141414" text-anchor="middle" textLength="57.5" lengthAdjust="spacingAndGlyphs" transform="rotate(-90 14.7 219.6)" class="yl">CoxIV MFI (normalized)</text>
<text x="37.4" y="265.5" font-size="5.8" fill="#141414" color="#141414" text-anchor="end" textLength="22.5" lengthAdjust="spacingAndGlyphs" >Cytokine</text>
<circle cx="63.5" cy="274.8" r="1.35" fill="#1a4f8e"/>
<text x="67.7" y="276.6" font-size="5.6" fill="#141414" color="#141414" textLength="17.5" lengthAdjust="spacingAndGlyphs" >Control</text>
<circle cx="90.8" cy="274.8" r="1.35" fill="#cf102e"/>
<text x="94.6" y="276.6" font-size="5.6" fill="#141414" color="#141414" textLength="40" lengthAdjust="spacingAndGlyphs" >MM at Diagnosis</text>
<text x="150.7" y="161" font-size="11" fill="#000" color="#000" font-weight="bold" >F</text>
<text x="158" y="220.5" font-size="5.6" fill="#141414" color="#141414" text-anchor="middle" textLength="69" lengthAdjust="spacingAndGlyphs" transform="rotate(-90 158 220.5)" class="yl">% Cytokine<tspan font-size="3.47" dy="-2.13">+</tspan><tspan dy="2.13"> of CD8</tspan><tspan font-size="3.47" dy="-2.13">+</tspan><tspan dy="2.13"> T cells</tspan></text>
<line x1="178.5" y1="186.8" x2="178.5" y2="254.7" stroke="#141414" stroke-width="1.1" />
<line x1="175.4" y1="254.2" x2="178.2" y2="254.2" stroke="#141414" stroke-width="0.9" />
<text x="172.8" y="256.29" font-size="5.8" fill="#383838" color="#383838" text-anchor="end" class="t">0</text>
<line x1="175.4" y1="237.45" x2="178.2" y2="237.45" stroke="#141414" stroke-width="0.9" />
<text x="172.8" y="239.54" font-size="5.8" fill="#383838" color="#383838" text-anchor="end" class="t">20</text>
<line x1="175.4" y1="220.7" x2="178.2" y2="220.7" stroke="#141414" stroke-width="0.9" />
<text x="172.8" y="222.79" font-size="5.8" fill="#383838" color="#383838" text-anchor="end" class="t">40</text>
<line x1="175.4" y1="203.95" x2="178.2" y2="203.95" stroke="#141414" stroke-width="0.9" />
<text x="172.8" y="206.04" font-size="5.8" fill="#383838" color="#383838" text-anchor="end" class="t">60</text>
<line x1="175.4" y1="187.2" x2="178.2" y2="187.2" stroke="#141414" stroke-width="0.9" />
<text x="172.8" y="189.29" font-size="5.8" fill="#383838" color="#383838" text-anchor="end" class="t">80</text>
<line x1="175.6" y1="254.5" x2="246.5" y2="254.5" stroke="#141414" stroke-width="1.1" />
<line x1="178.2" y1="254.2" x2="178.2" y2="257.2" stroke="#141414" stroke-width="0.9" />
<line x1="191.56" y1="254.2" x2="191.56" y2="257.2" stroke="#141414" stroke-width="0.9" />
<line x1="204.92" y1="254.2" x2="204.92" y2="257.2" stroke="#141414" stroke-width="0.9" />
<line x1="218.28" y1="254.2" x2="218.28" y2="257.2" stroke="#141414" stroke-width="0.9" />
<line x1="231.64" y1="254.2" x2="231.64" y2="257.2" stroke="#141414" stroke-width="0.9" />
<line x1="245" y1="254.2" x2="245" y2="257.2" stroke="#141414" stroke-width="0.9" />
<text x="178.2" y="266" font-size="5.6" fill="#141414" color="#141414" text-anchor="middle" >0</text>
<text x="191.56" y="266" font-size="5.6" fill="#141414" color="#141414" text-anchor="middle" >20</text>
<text x="204.92" y="266" font-size="5.6" fill="#141414" color="#141414" text-anchor="middle" >40</text>
<text x="218.28" y="266" font-size="5.6" fill="#141414" color="#141414" text-anchor="middle" >60</text>
<text x="231.64" y="266" font-size="5.6" fill="#141414" color="#141414" text-anchor="middle" >80</text>
<text x="245" y="266" font-size="5.6" fill="#141414" color="#141414" text-anchor="middle" >100</text>
<text x="181.5" y="172.3" font-size="6" fill="#3a3a3a" color="#3a3a3a" class="t">IFN-γ</text>
<text x="181.5" y="179.1" font-size="6" fill="#3a3a3a" color="#3a3a3a" class="t"><tspan font-style="italic">r</tspan> = 0.40</text>
<text x="181.5" y="185.6" font-size="6" fill="#3a3a3a" color="#3a3a3a" class="t"><tspan font-style="italic">P</tspan> = .006</text>
<circle cx="212.27" cy="206.46" r="1.3" fill="#fff" stroke="#1a1a1a" stroke-width="0.7"/>
<circle cx="236.98" cy="219.86" r="1.3" fill="#fff" stroke="#1a1a1a" stroke-width="0.7"/>
<circle cx="202.25" cy="217.35" r="1.3" fill="#fff" stroke="#1a1a1a" stroke-width="0.7"/>
<circle cx="198.91" cy="227.4" r="1.3" fill="#fff" stroke="#1a1a1a" stroke-width="0.7"/>
<circle cx="191.56" cy="234.94" r="1.3" fill="#fff" stroke="#1a1a1a" stroke-width="0.7"/>
<circle cx="195.57" cy="234.94" r="1.3" fill="#fff" stroke="#1a1a1a" stroke-width="0.7"/>
<circle cx="196.9" cy="235.77" r="1.3" fill="#fff" stroke="#1a1a1a" stroke-width="0.7"/>
<circle cx="208.26" cy="235.77" r="1.3" fill="#fff" stroke="#1a1a1a" stroke-width="0.7"/>
<circle cx="184.88" cy="240.8" r="1.3" fill="#fff" stroke="#1a1a1a" stroke-width="0.7"/>
<circle cx="201.58" cy="238.29" r="1.3" fill="#fff" stroke="#1a1a1a" stroke-width="0.7"/>
<circle cx="203.58" cy="237.45" r="1.3" fill="#fff" stroke="#1a1a1a" stroke-width="0.7"/>
<circle cx="209.6" cy="239.96" r="1.3" fill="#fff" stroke="#1a1a1a" stroke-width="0.7"/>
<circle cx="210.26" cy="244.99" r="1.3" fill="#fff" stroke="#1a1a1a" stroke-width="0.7"/>
<circle cx="192.9" cy="244.15" r="1.3" fill="#fff" stroke="#1a1a1a" stroke-width="0.7"/>
<circle cx="198.24" cy="242.47" r="1.3" fill="#fff" stroke="#1a1a1a" stroke-width="0.7"/>
<circle cx="200.24" cy="242.47" r="1.3" fill="#fff" stroke="#1a1a1a" stroke-width="0.7"/>
<circle cx="202.92" cy="242.47" r="1.3" fill="#fff" stroke="#1a1a1a" stroke-width="0.7"/>
<circle cx="204.92" cy="241.64" r="1.3" fill="#fff" stroke="#1a1a1a" stroke-width="0.7"/>
<circle cx="190.22" cy="245.82" r="1.3" fill="#fff" stroke="#1a1a1a" stroke-width="0.7"/>
<circle cx="194.9" cy="246.66" r="1.3" fill="#fff" stroke="#1a1a1a" stroke-width="0.7"/>
<circle cx="196.9" cy="247.5" r="1.3" fill="#fff" stroke="#1a1a1a" stroke-width="0.7"/>
<circle cx="200.24" cy="247.5" r="1.3" fill="#fff" stroke="#1a1a1a" stroke-width="0.7"/>
<circle cx="202.25" cy="248.34" r="1.3" fill="#fff" stroke="#1a1a1a" stroke-width="0.7"/>
<circle cx="204.92" cy="249.17" r="1.3" fill="#fff" stroke="#1a1a1a" stroke-width="0.7"/>
<circle cx="186.22" cy="248.34" r="1.3" fill="#fff" stroke="#1a1a1a" stroke-width="0.7"/>
<circle cx="188.22" cy="249.17" r="1.3" fill="#fff" stroke="#1a1a1a" stroke-width="0.7"/>
<circle cx="188.89" cy="250.85" r="1.3" fill="#fff" stroke="#1a1a1a" stroke-width="0.7"/>
<circle cx="191.56" cy="250.01" r="1.3" fill="#fff" stroke="#1a1a1a" stroke-width="0.7"/>
<circle cx="194.9" cy="250.85" r="1.3" fill="#fff" stroke="#1a1a1a" stroke-width="0.7"/>
<circle cx="196.9" cy="250.01" r="1.3" fill="#fff" stroke="#1a1a1a" stroke-width="0.7"/>
<circle cx="199.58" cy="251.69" r="1.3" fill="#fff" stroke="#1a1a1a" stroke-width="0.7"/>
<circle cx="202.92" cy="251.69" r="1.3" fill="#fff" stroke="#1a1a1a" stroke-width="0.7"/>
<circle cx="203.58" cy="252.52" r="1.3" fill="#fff" stroke="#1a1a1a" stroke-width="0.7"/>
<circle cx="216.94" cy="248.34" r="1.3" fill="#fff" stroke="#1a1a1a" stroke-width="0.7"/>
<circle cx="213.6" cy="252.52" r="1.3" fill="#fff" stroke="#1a1a1a" stroke-width="0.7"/>
<circle cx="206.26" cy="244.99" r="1.3" fill="#fff" stroke="#1a1a1a" stroke-width="0.7"/>
<circle cx="196.24" cy="239.96" r="1.3" fill="#fff" stroke="#1a1a1a" stroke-width="0.7"/>
<circle cx="193.56" cy="245.82" r="1.3" fill="#fff" stroke="#1a1a1a" stroke-width="0.7"/>
<circle cx="198.24" cy="249.17" r="1.3" fill="#fff" stroke="#1a1a1a" stroke-width="0.7"/>
<circle cx="187.55" cy="250.85" r="1.3" fill="#fff" stroke="#1a1a1a" stroke-width="0.7"/>
<circle cx="188.22" cy="251.69" r="1.3" fill="#fff" stroke="#1a1a1a" stroke-width="0.7"/>
<circle cx="195.57" cy="247.5" r="1.3" fill="#fff" stroke="#1a1a1a" stroke-width="0.7"/>
<circle cx="196.24" cy="248.34" r="1.3" fill="#fff" stroke="#1a1a1a" stroke-width="0.7"/>
<circle cx="195.57" cy="250.01" r="1.3" fill="#fff" stroke="#1a1a1a" stroke-width="0.7"/>
<circle cx="201.58" cy="247.5" r="1.3" fill="#fff" stroke="#1a1a1a" stroke-width="0.7"/>
<circle cx="202.25" cy="249.17" r="1.3" fill="#fff" stroke="#1a1a1a" stroke-width="0.7"/>
<circle cx="202.92" cy="250.85" r="1.3" fill="#fff" stroke="#1a1a1a" stroke-width="0.7"/>
<circle cx="203.58" cy="251.69" r="1.3" fill="#fff" stroke="#1a1a1a" stroke-width="0.7"/>
<circle cx="204.25" cy="250.01" r="1.3" fill="#fff" stroke="#1a1a1a" stroke-width="0.7"/>
<circle cx="201.58" cy="251.69" r="1.3" fill="#fff" stroke="#1a1a1a" stroke-width="0.7"/>
<circle cx="200.91" cy="237.45" r="1.3" fill="#fff" stroke="#1a1a1a" stroke-width="0.7"/>
<circle cx="201.58" cy="238.29" r="1.3" fill="#fff" stroke="#1a1a1a" stroke-width="0.7"/>
<circle cx="197.57" cy="241.64" r="1.3" fill="#fff" stroke="#1a1a1a" stroke-width="0.7"/>
<circle cx="198.24" cy="242.47" r="1.3" fill="#fff" stroke="#1a1a1a" stroke-width="0.7"/>
<circle cx="192.23" cy="243.31" r="1.3" fill="#fff" stroke="#1a1a1a" stroke-width="0.7"/>
<circle cx="204.92" cy="244.15" r="1.3" fill="#fff" stroke="#1a1a1a" stroke-width="0.7"/>
<line x1="266.5" y1="186.4" x2="266.5" y2="254.7" stroke="#141414" stroke-width="1.1" />
<line x1="263.2" y1="254.2" x2="266" y2="254.2" stroke="#141414" stroke-width="0.9" />
<text x="260.6" y="256.29" font-size="5.8" fill="#383838" color="#383838" text-anchor="end" class="t">0</text>
<line x1="263.2" y1="237.35" x2="266" y2="237.35" stroke="#141414" stroke-width="0.9" />
<text x="260.6" y="239.44" font-size="5.8" fill="#383838" color="#383838" text-anchor="end" class="t">20</text>
<line x1="263.2" y1="220.5" x2="266" y2="220.5" stroke="#141414" stroke-width="0.9" />
<text x="260.6" y="222.59" font-size="5.8" fill="#383838" color="#383838" text-anchor="end" class="t">40</text>
<line x1="263.2" y1="203.65" x2="266" y2="203.65" stroke="#141414" stroke-width="0.9" />
<text x="260.6" y="205.74" font-size="5.8" fill="#383838" color="#383838" text-anchor="end" class="t">60</text>
<line x1="263.2" y1="186.8" x2="266" y2="186.8" stroke="#141414" stroke-width="0.9" />
<text x="260.6" y="188.89" font-size="5.8" fill="#383838" color="#383838" text-anchor="end" class="t">80</text>
<line x1="263.4" y1="254.5" x2="334.5" y2="254.5" stroke="#141414" stroke-width="1.1" />
<line x1="266" y1="254.2" x2="266" y2="257.2" stroke="#141414" stroke-width="0.9" />
<line x1="279.48" y1="254.2" x2="279.48" y2="257.2" stroke="#141414" stroke-width="0.9" />
<line x1="292.96" y1="254.2" x2="292.96" y2="257.2" stroke="#141414" stroke-width="0.9" />
<line x1="306.44" y1="254.2" x2="306.44" y2="257.2" stroke="#141414" stroke-width="0.9" />
<line x1="319.92" y1="254.2" x2="319.92" y2="257.2" stroke="#141414" stroke-width="0.9" />
<line x1="333.4" y1="254.2" x2="333.4" y2="257.2" stroke="#141414" stroke-width="0.9" />
<text x="266" y="266" font-size="5.6" fill="#141414" color="#141414" text-anchor="middle" >0</text>
<text x="279.48" y="266" font-size="5.6" fill="#141414" color="#141414" text-anchor="middle" >20</text>
<text x="292.96" y="266" font-size="5.6" fill="#141414" color="#141414" text-anchor="middle" >40</text>
<text x="306.44" y="266" font-size="5.6" fill="#141414" color="#141414" text-anchor="middle" >60</text>
<text x="319.92" y="266" font-size="5.6" fill="#141414" color="#141414" text-anchor="middle" >80</text>
<text x="333.4" y="266" font-size="5.6" fill="#141414" color="#141414" text-anchor="middle" >100</text>
<text x="269.3" y="172.3" font-size="6" fill="#3a3a3a" color="#3a3a3a" class="t">TNF-α</text>
<text x="269.3" y="179.1" font-size="6" fill="#3a3a3a" color="#3a3a3a" class="t"><tspan font-style="italic">r</tspan> = 0.38</text>
<text x="269.3" y="185.6" font-size="6" fill="#3a3a3a" color="#3a3a3a" class="t"><tspan font-style="italic">P</tspan> = .010</text>
<circle cx="300.37" cy="195.23" r="1.3" fill="#fff" stroke="#1a1a1a" stroke-width="0.7"/>
<circle cx="325.31" cy="201.97" r="1.3" fill="#fff" stroke="#1a1a1a" stroke-width="0.7"/>
<circle cx="290.26" cy="199.44" r="1.3" fill="#fff" stroke="#1a1a1a" stroke-width="0.7"/>
<circle cx="290.26" cy="210.39" r="1.3" fill="#fff" stroke="#1a1a1a" stroke-width="0.7"/>
<circle cx="284.87" cy="215.44" r="1.3" fill="#fff" stroke="#1a1a1a" stroke-width="0.7"/>
<circle cx="289.59" cy="219.66" r="1.3" fill="#fff" stroke="#1a1a1a" stroke-width="0.7"/>
<circle cx="288.24" cy="218.81" r="1.3" fill="#fff" stroke="#1a1a1a" stroke-width="0.7"/>
<circle cx="279.48" cy="223.03" r="1.3" fill="#fff" stroke="#1a1a1a" stroke-width="0.7"/>
<circle cx="275.44" cy="225.56" r="1.3" fill="#fff" stroke="#1a1a1a" stroke-width="0.7"/>
<circle cx="297.68" cy="225.56" r="1.3" fill="#fff" stroke="#1a1a1a" stroke-width="0.7"/>
<circle cx="293.63" cy="225.56" r="1.3" fill="#fff" stroke="#1a1a1a" stroke-width="0.7"/>
<circle cx="305.77" cy="228.93" r="1.3" fill="#fff" stroke="#1a1a1a" stroke-width="0.7"/>
<circle cx="297.68" cy="228.08" r="1.3" fill="#fff" stroke="#1a1a1a" stroke-width="0.7"/>
<circle cx="278.81" cy="227.24" r="1.3" fill="#fff" stroke="#1a1a1a" stroke-width="0.7"/>
<circle cx="282.85" cy="226.4" r="1.3" fill="#fff" stroke="#1a1a1a" stroke-width="0.7"/>
<circle cx="284.87" cy="223.87" r="1.3" fill="#fff" stroke="#1a1a1a" stroke-width="0.7"/>
<circle cx="286.22" cy="227.24" r="1.3" fill="#fff" stroke="#1a1a1a" stroke-width="0.7"/>
<circle cx="284.2" cy="229.77" r="1.3" fill="#fff" stroke="#1a1a1a" stroke-width="0.7"/>
<circle cx="282.18" cy="230.61" r="1.3" fill="#fff" stroke="#1a1a1a" stroke-width="0.7"/>
<circle cx="287.57" cy="230.61" r="1.3" fill="#fff" stroke="#1a1a1a" stroke-width="0.7"/>
<circle cx="290.26" cy="232.29" r="1.3" fill="#fff" stroke="#1a1a1a" stroke-width="0.7"/>
<circle cx="291.61" cy="233.14" r="1.3" fill="#fff" stroke="#1a1a1a" stroke-width="0.7"/>
<circle cx="292.96" cy="234.82" r="1.3" fill="#fff" stroke="#1a1a1a" stroke-width="0.7"/>
<circle cx="280.83" cy="234.82" r="1.3" fill="#fff" stroke="#1a1a1a" stroke-width="0.7"/>
<circle cx="275.44" cy="235.66" r="1.3" fill="#fff" stroke="#1a1a1a" stroke-width="0.7"/>
<circle cx="277.46" cy="234.82" r="1.3" fill="#fff" stroke="#1a1a1a" stroke-width="0.7"/>
<circle cx="272.74" cy="240.72" r="1.3" fill="#fff" stroke="#1a1a1a" stroke-width="0.7"/>
<circle cx="276.11" cy="238.19" r="1.3" fill="#fff" stroke="#1a1a1a" stroke-width="0.7"/>
<circle cx="279.48" cy="236.51" r="1.3" fill="#fff" stroke="#1a1a1a" stroke-width="0.7"/>
<circle cx="290.26" cy="238.19" r="1.3" fill="#fff" stroke="#1a1a1a" stroke-width="0.7"/>
<circle cx="289.59" cy="240.72" r="1.3" fill="#fff" stroke="#1a1a1a" stroke-width="0.7"/>
<circle cx="291.61" cy="239.88" r="1.3" fill="#fff" stroke="#1a1a1a" stroke-width="0.7"/>
<circle cx="284.87" cy="244.93" r="1.3" fill="#fff" stroke="#1a1a1a" stroke-width="0.7"/>
<circle cx="286.22" cy="244.93" r="1.3" fill="#fff" stroke="#1a1a1a" stroke-width="0.7"/>
<circle cx="276.11" cy="244.93" r="1.3" fill="#fff" stroke="#1a1a1a" stroke-width="0.7"/>
<circle cx="302.4" cy="249.14" r="1.3" fill="#fff" stroke="#1a1a1a" stroke-width="0.7"/>
<line x1="351.5" y1="185.3" x2="351.5" y2="254.7" stroke="#141414" stroke-width="1.1" />
<line x1="348.5" y1="254.2" x2="351.3" y2="254.2" stroke="#141414" stroke-width="0.9" />
<text x="345.9" y="256.29" font-size="5.8" fill="#383838" color="#383838" text-anchor="end" class="t">0</text>
<line x1="348.5" y1="231.37" x2="351.3" y2="231.37" stroke="#141414" stroke-width="0.9" />
<text x="345.9" y="233.45" font-size="5.8" fill="#383838" color="#383838" text-anchor="end" class="t">5</text>
<line x1="348.5" y1="208.53" x2="351.3" y2="208.53" stroke="#141414" stroke-width="0.9" />
<text x="345.9" y="210.62" font-size="5.8" fill="#383838" color="#383838" text-anchor="end" class="t">10</text>
<line x1="348.5" y1="185.7" x2="351.3" y2="185.7" stroke="#141414" stroke-width="0.9" />
<text x="345.9" y="187.79" font-size="5.8" fill="#383838" color="#383838" text-anchor="end" class="t">15</text>
<line x1="348.7" y1="254.5" x2="420" y2="254.5" stroke="#141414" stroke-width="1.1" />
<line x1="351.3" y1="254.2" x2="351.3" y2="257.2" stroke="#141414" stroke-width="0.9" />
<line x1="364.84" y1="254.2" x2="364.84" y2="257.2" stroke="#141414" stroke-width="0.9" />
<line x1="378.38" y1="254.2" x2="378.38" y2="257.2" stroke="#141414" stroke-width="0.9" />
<line x1="391.92" y1="254.2" x2="391.92" y2="257.2" stroke="#141414" stroke-width="0.9" />
<line x1="405.46" y1="254.2" x2="405.46" y2="257.2" stroke="#141414" stroke-width="0.9" />
<line x1="419" y1="254.2" x2="419" y2="257.2" stroke="#141414" stroke-width="0.9" />
<text x="351.3" y="266" font-size="5.6" fill="#141414" color="#141414" text-anchor="middle" >0</text>
<text x="364.84" y="266" font-size="5.6" fill="#141414" color="#141414" text-anchor="middle" >20</text>
<text x="378.38" y="266" font-size="5.6" fill="#141414" color="#141414" text-anchor="middle" >40</text>
<text x="391.92" y="266" font-size="5.6" fill="#141414" color="#141414" text-anchor="middle" >60</text>
<text x="405.46" y="266" font-size="5.6" fill="#141414" color="#141414" text-anchor="middle" >80</text>
<text x="419" y="266" font-size="5.6" fill="#141414" color="#141414" text-anchor="middle" >100</text>
<text x="354.6" y="172.3" font-size="6" fill="#3a3a3a" color="#3a3a3a" class="t">IL-2</text>
<text x="354.6" y="179.1" font-size="6" fill="#3a3a3a" color="#3a3a3a" class="t"><tspan font-style="italic">r</tspan> = 0.16</text>
<text x="354.6" y="185.6" font-size="6" fill="#3a3a3a" color="#3a3a3a" class="t"><tspan font-style="italic">P</tspan> = .21</text>
<circle cx="410.88" cy="229.08" r="1.3" fill="#fff" stroke="#1a1a1a" stroke-width="0.7"/>
<circle cx="364.84" cy="221.32" r="1.3" fill="#fff" stroke="#1a1a1a" stroke-width="0.7"/>
<circle cx="375" cy="224.06" r="1.3" fill="#fff" stroke="#1a1a1a" stroke-width="0.7"/>
<circle cx="358.75" cy="226.8" r="1.3" fill="#fff" stroke="#1a1a1a" stroke-width="0.7"/>
<circle cx="362.81" cy="225.89" r="1.3" fill="#fff" stroke="#1a1a1a" stroke-width="0.7"/>
<circle cx="370.26" cy="227.71" r="1.3" fill="#fff" stroke="#1a1a1a" stroke-width="0.7"/>
<circle cx="387.86" cy="249.63" r="1.3" fill="#fff" stroke="#1a1a1a" stroke-width="0.7"/>
<circle cx="362.94" cy="239.59" r="1.3" fill="#fff" stroke="#1a1a1a" stroke-width="0.7"/>
<circle cx="360.78" cy="241.87" r="1.3" fill="#fff" stroke="#1a1a1a" stroke-width="0.7"/>
<circle cx="365.18" cy="240.5" r="1.3" fill="#fff" stroke="#1a1a1a" stroke-width="0.7"/>
<circle cx="369.58" cy="237.3" r="1.3" fill="#fff" stroke="#1a1a1a" stroke-width="0.7"/>
<circle cx="370.66" cy="239.59" r="1.3" fill="#fff" stroke="#1a1a1a" stroke-width="0.7"/>
<circle cx="368.5" cy="241.87" r="1.3" fill="#fff" stroke="#1a1a1a" stroke-width="0.7"/>
<circle cx="371.75" cy="242.78" r="1.3" fill="#fff" stroke="#1a1a1a" stroke-width="0.7"/>
<circle cx="373.98" cy="240.5" r="1.3" fill="#fff" stroke="#1a1a1a" stroke-width="0.7"/>
<circle cx="376.15" cy="239.59" r="1.3" fill="#fff" stroke="#1a1a1a" stroke-width="0.7"/>
<circle cx="378.38" cy="241.87" r="1.3" fill="#fff" stroke="#1a1a1a" stroke-width="0.7"/>
<circle cx="380.55" cy="240.5" r="1.3" fill="#fff" stroke="#1a1a1a" stroke-width="0.7"/>
<circle cx="382.71" cy="239.59" r="1.3" fill="#fff" stroke="#1a1a1a" stroke-width="0.7"/>
<circle cx="383.8" cy="240.04" r="1.3" fill="#fff" stroke="#1a1a1a" stroke-width="0.7"/>
<circle cx="369.58" cy="245.07" r="1.3" fill="#fff" stroke="#1a1a1a" stroke-width="0.7"/>
<circle cx="371.75" cy="245.98" r="1.3" fill="#fff" stroke="#1a1a1a" stroke-width="0.7"/>
<circle cx="373.98" cy="247.35" r="1.3" fill="#fff" stroke="#1a1a1a" stroke-width="0.7"/>
<circle cx="376.15" cy="248.26" r="1.3" fill="#fff" stroke="#1a1a1a" stroke-width="0.7"/>
<circle cx="377.23" cy="249.41" r="1.3" fill="#fff" stroke="#1a1a1a" stroke-width="0.7"/>
<circle cx="375" cy="250.09" r="1.3" fill="#fff" stroke="#1a1a1a" stroke-width="0.7"/>
<circle cx="369.58" cy="250.55" r="1.3" fill="#fff" stroke="#1a1a1a" stroke-width="0.7"/>
<circle cx="371.75" cy="248.26" r="1.3" fill="#fff" stroke="#1a1a1a" stroke-width="0.7"/>
<circle cx="358.54" cy="249.41" r="1.3" fill="#fff" stroke="#1a1a1a" stroke-width="0.7"/>
<circle cx="361.86" cy="248.26" r="1.3" fill="#fff" stroke="#1a1a1a" stroke-width="0.7"/>
<circle cx="365.18" cy="247.81" r="1.3" fill="#fff" stroke="#1a1a1a" stroke-width="0.7"/>
<circle cx="368.5" cy="247.35" r="1.3" fill="#fff" stroke="#1a1a1a" stroke-width="0.7"/>
<circle cx="372.83" cy="245.07" r="1.3" fill="#fff" stroke="#1a1a1a" stroke-width="0.7"/>
<circle cx="377.23" cy="245.98" r="1.3" fill="#fff" stroke="#1a1a1a" stroke-width="0.7"/>
<circle cx="379.46" cy="248.26" r="1.3" fill="#fff" stroke="#1a1a1a" stroke-width="0.7"/>
<circle cx="385.83" cy="204.88" r="1.6" fill="#8c8c8c" stroke="#7a7a7a" stroke-width="0.5"/>
<circle cx="391.24" cy="231.82" r="1.6" fill="#8c8c8c" stroke="#7a7a7a" stroke-width="0.5"/>
<line x1="437.5" y1="185.3" x2="437.5" y2="254.3" stroke="#141414" stroke-width="1.1" />
<line x1="434.8" y1="253.8" x2="437.6" y2="253.8" stroke="#141414" stroke-width="0.9" />
<text x="432.2" y="255.89" font-size="5.8" fill="#383838" color="#383838" text-anchor="end" class="t">0</text>
<line x1="434.8" y1="236.78" x2="437.6" y2="236.78" stroke="#141414" stroke-width="0.9" />
<text x="432.2" y="238.86" font-size="5.8" fill="#383838" color="#383838" text-anchor="end" class="t">3</text>
<line x1="434.8" y1="219.75" x2="437.6" y2="219.75" stroke="#141414" stroke-width="0.9" />
<text x="432.2" y="221.84" font-size="5.8" fill="#383838" color="#383838" text-anchor="end" class="t">6</text>
<line x1="434.8" y1="202.72" x2="437.6" y2="202.72" stroke="#141414" stroke-width="0.9" />
<text x="432.2" y="204.81" font-size="5.8" fill="#383838" color="#383838" text-anchor="end" class="t">9</text>
<line x1="434.8" y1="185.7" x2="437.6" y2="185.7" stroke="#141414" stroke-width="0.9" />
<text x="432.2" y="187.79" font-size="5.8" fill="#383838" color="#383838" text-anchor="end" class="t">12</text>
<line x1="435" y1="253.5" x2="506.8" y2="253.5" stroke="#141414" stroke-width="1.1" />
<line x1="437.6" y1="253.8" x2="437.6" y2="256.8" stroke="#141414" stroke-width="0.9" />
<line x1="451.22" y1="253.8" x2="451.22" y2="256.8" stroke="#141414" stroke-width="0.9" />
<line x1="464.84" y1="253.8" x2="464.84" y2="256.8" stroke="#141414" stroke-width="0.9" />
<line x1="478.46" y1="253.8" x2="478.46" y2="256.8" stroke="#141414" stroke-width="0.9" />
<line x1="492.08" y1="253.8" x2="492.08" y2="256.8" stroke="#141414" stroke-width="0.9" />
<line x1="505.7" y1="253.8" x2="505.7" y2="256.8" stroke="#141414" stroke-width="0.9" />
<text x="437.6" y="266" font-size="5.6" fill="#141414" color="#141414" text-anchor="middle" >0</text>
<text x="451.22" y="266" font-size="5.6" fill="#141414" color="#141414" text-anchor="middle" >20</text>
<text x="464.84" y="266" font-size="5.6" fill="#141414" color="#141414" text-anchor="middle" >40</text>
<text x="478.46" y="266" font-size="5.6" fill="#141414" color="#141414" text-anchor="middle" >60</text>
<text x="492.08" y="266" font-size="5.6" fill="#141414" color="#141414" text-anchor="middle" >80</text>
<text x="505.7" y="266" font-size="5.6" fill="#141414" color="#141414" text-anchor="middle" >100</text>
<text x="440.9" y="172.3" font-size="6" fill="#3a3a3a" color="#3a3a3a" class="t">Mult.</text>
<text x="440.9" y="179.1" font-size="6" fill="#3a3a3a" color="#3a3a3a" class="t"><tspan font-style="italic">r</tspan> = 0.18</text>
<text x="440.9" y="185.6" font-size="6" fill="#3a3a3a" color="#3a3a3a" class="t"><tspan font-style="italic">P</tspan> = .21</text>
<circle cx="462.12" cy="225.43" r="1.3" fill="#fff" stroke="#1a1a1a" stroke-width="0.7"/>
<circle cx="455.99" cy="230.53" r="1.3" fill="#fff" stroke="#1a1a1a" stroke-width="0.7"/>
<circle cx="451.22" cy="234.5" r="1.3" fill="#fff" stroke="#1a1a1a" stroke-width="0.7"/>
<circle cx="445.77" cy="236.21" r="1.3" fill="#fff" stroke="#1a1a1a" stroke-width="0.7"/>
<circle cx="497.53" cy="240.18" r="1.3" fill="#fff" stroke="#1a1a1a" stroke-width="0.7"/>
<circle cx="468.93" cy="240.75" r="1.3" fill="#fff" stroke="#1a1a1a" stroke-width="0.7"/>
<circle cx="468.25" cy="241.88" r="1.3" fill="#fff" stroke="#1a1a1a" stroke-width="0.7"/>
<circle cx="449.18" cy="241.88" r="1.3" fill="#fff" stroke="#1a1a1a" stroke-width="0.7"/>
<circle cx="457.35" cy="242.45" r="1.3" fill="#fff" stroke="#1a1a1a" stroke-width="0.7"/>
<circle cx="462.12" cy="244.15" r="1.3" fill="#fff" stroke="#1a1a1a" stroke-width="0.7"/>
<circle cx="469.61" cy="246.42" r="1.3" fill="#fff" stroke="#1a1a1a" stroke-width="0.7"/>
<circle cx="477.1" cy="248.12" r="1.3" fill="#fff" stroke="#1a1a1a" stroke-width="0.7"/>
<circle cx="450.47" cy="246.42" r="1.3" fill="#fff" stroke="#1a1a1a" stroke-width="0.7"/>
<circle cx="454.9" cy="245.86" r="1.3" fill="#fff" stroke="#1a1a1a" stroke-width="0.7"/>
<circle cx="459.19" cy="245" r="1.3" fill="#fff" stroke="#1a1a1a" stroke-width="0.7"/>
<circle cx="463.55" cy="246.14" r="1.3" fill="#fff" stroke="#1a1a1a" stroke-width="0.7"/>
<circle cx="452.65" cy="249.26" r="1.3" fill="#fff" stroke="#1a1a1a" stroke-width="0.7"/>
<circle cx="457.08" cy="248.69" r="1.3" fill="#fff" stroke="#1a1a1a" stroke-width="0.7"/>
<circle cx="461.37" cy="248.35" r="1.3" fill="#fff" stroke="#1a1a1a" stroke-width="0.7"/>
<circle cx="464.64" cy="249.26" r="1.3" fill="#fff" stroke="#1a1a1a" stroke-width="0.7"/>
<circle cx="446.25" cy="249.83" r="1.3" fill="#fff" stroke="#1a1a1a" stroke-width="0.7"/>
<circle cx="448.43" cy="251.25" r="1.3" fill="#fff" stroke="#1a1a1a" stroke-width="0.7"/>
<circle cx="453.81" cy="251.81" r="1.3" fill="#fff" stroke="#1a1a1a" stroke-width="0.7"/>
<circle cx="458.17" cy="251.25" r="1.3" fill="#fff" stroke="#1a1a1a" stroke-width="0.7"/>
<circle cx="462.46" cy="251.81" r="1.3" fill="#fff" stroke="#1a1a1a" stroke-width="0.7"/>
<circle cx="465.73" cy="250.11" r="1.3" fill="#fff" stroke="#1a1a1a" stroke-width="0.7"/>
<circle cx="459.19" cy="252.67" r="1.3" fill="#fff" stroke="#1a1a1a" stroke-width="0.7"/>
<circle cx="463.55" cy="252.67" r="1.3" fill="#fff" stroke="#1a1a1a" stroke-width="0.7"/>
<circle cx="451.22" cy="252.1" r="1.3" fill="#fff" stroke="#1a1a1a" stroke-width="0.7"/>
<circle cx="453.94" cy="250.4" r="1.3" fill="#fff" stroke="#1a1a1a" stroke-width="0.7"/>
<circle cx="455.99" cy="252.38" r="1.3" fill="#fff" stroke="#1a1a1a" stroke-width="0.7"/>
<circle cx="458.03" cy="249.83" r="1.3" fill="#fff" stroke="#1a1a1a" stroke-width="0.7"/>
<circle cx="460.07" cy="252.1" r="1.3" fill="#fff" stroke="#1a1a1a" stroke-width="0.7"/>
<circle cx="462.8" cy="250.4" r="1.3" fill="#fff" stroke="#1a1a1a" stroke-width="0.7"/>
<circle cx="464.84" cy="252.38" r="1.3" fill="#fff" stroke="#1a1a1a" stroke-width="0.7"/>
<circle cx="466.88" cy="250.96" r="1.3" fill="#fff" stroke="#1a1a1a" stroke-width="0.7"/>
<circle cx="455.31" cy="247.56" r="1.3" fill="#fff" stroke="#1a1a1a" stroke-width="0.7"/>
<circle cx="461.44" cy="246.99" r="1.3" fill="#fff" stroke="#1a1a1a" stroke-width="0.7"/>
<circle cx="449.86" cy="248.69" r="1.3" fill="#fff" stroke="#1a1a1a" stroke-width="0.7"/>
<circle cx="466.2" cy="248.12" r="1.3" fill="#fff" stroke="#1a1a1a" stroke-width="0.7"/>
<circle cx="472.33" cy="198.75" r="1.6" fill="#8c8c8c" stroke="#7a7a7a" stroke-width="0.5"/>
<circle cx="473.28" cy="252.67" r="0.9" fill="#111" stroke="#111" stroke-width="0.3"/>
<text x="176.6" y="278" font-size="6.6" fill="#141414" color="#141414" textLength="40.5" lengthAdjust="spacingAndGlyphs" >MVG MFI (×10<tspan font-size="4.09" dy="-2.51">3</tspan><tspan dy="2.51">)</tspan></text>
<line x1="220.4" y1="274.9" x2="503" y2="274.9" stroke="#2a2a2a" stroke-width="1.4" />
<path d="M501 272.8 L508 275 L501 277.2 Z" fill="#111"/>
<text x="102.6" y="302.8" font-size="11" fill="#000" color="#000" font-weight="bold" >G</text>
<line x1="134.5" y1="316.9" x2="134.5" y2="390.1" stroke="#141414" stroke-width="1.1" />
<line x1="132" y1="389.6" x2="134.8" y2="389.6" stroke="#141414" stroke-width="0.9" />
<text x="130" y="391.83" font-size="6.2" fill="#383838" color="#383838" text-anchor="end" class="t">0</text>
<line x1="132" y1="365.5" x2="134.8" y2="365.5" stroke="#141414" stroke-width="0.9" />
<text x="130" y="367.73" font-size="6.2" fill="#383838" color="#383838" text-anchor="end" class="t">100</text>
<line x1="132" y1="341.4" x2="134.8" y2="341.4" stroke="#141414" stroke-width="0.9" />
<text x="130" y="343.63" font-size="6.2" fill="#383838" color="#383838" text-anchor="end" class="t">200</text>
<line x1="132" y1="317.3" x2="134.8" y2="317.3" stroke="#141414" stroke-width="0.9" />
<text x="130" y="319.53" font-size="6.2" fill="#383838" color="#383838" text-anchor="end" class="t">300</text>
<line x1="132.2" y1="389.5" x2="182.5" y2="389.5" stroke="#141414" stroke-width="1.1" />
<line x1="141.9" y1="389.6" x2="141.9" y2="392.6" stroke="#141414" stroke-width="0.9" />
<line x1="153" y1="389.6" x2="153" y2="392.6" stroke="#141414" stroke-width="0.9" />
<line x1="164.3" y1="389.6" x2="164.3" y2="392.6" stroke="#141414" stroke-width="0.9" />
<line x1="174.8" y1="389.6" x2="174.8" y2="392.6" stroke="#141414" stroke-width="0.9" />
<text x="113.6" y="354" font-size="6" fill="#141414" color="#141414" text-anchor="middle" textLength="53" lengthAdjust="spacingAndGlyphs" transform="rotate(-90 113.6 354)" class="yl">C<tspan font-size="3.6" dy="1.4">16</tspan><tspan dy="-1.4"> BODIPY uptake</tspan></text>
<circle cx="140.3" cy="335.4" r="1.5" fill="#1d3354" stroke="#101a2a" stroke-width="1.1"/>
<circle cx="141.7" cy="337.8" r="1.5" fill="#1d3354" stroke="#101a2a" stroke-width="1.1"/>
<circle cx="139.8" cy="340.2" r="1.5" fill="#1d3354" stroke="#101a2a" stroke-width="1.1"/>
<circle cx="143.6" cy="340.2" r="1.5" fill="#1d3354" stroke="#101a2a" stroke-width="1.1"/>
<circle cx="144.6" cy="341.6" r="1.5" fill="#1d3354" stroke="#101a2a" stroke-width="1.1"/>
<circle cx="140.7" cy="350.8" r="1.5" fill="#1d3354" stroke="#101a2a" stroke-width="1.1"/>
<circle cx="142.7" cy="351.3" r="1.5" fill="#1d3354" stroke="#101a2a" stroke-width="1.1"/>
<circle cx="140.7" cy="356.1" r="1.5" fill="#1d3354" stroke="#101a2a" stroke-width="1.1"/>
<circle cx="143.1" cy="357" r="1.5" fill="#1d3354" stroke="#101a2a" stroke-width="1.1"/>
<circle cx="141.7" cy="364.7" r="1.5" fill="#1d3354" stroke="#101a2a" stroke-width="1.1"/>
<line x1="137.4" y1="348.8" x2="146.5" y2="348.8" stroke="#111" stroke-width="1.0" />
<circle cx="152.75" cy="329.1" r="1.5" fill="#ecd6ca" stroke="#3a1f18" stroke-width="1.1"/>
<circle cx="152.75" cy="333" r="1.5" fill="#ecd6ca" stroke="#3a1f18" stroke-width="1.1"/>
<circle cx="150.8" cy="344" r="1.5" fill="#ecd6ca" stroke="#3a1f18" stroke-width="1.1"/>
<circle cx="154.2" cy="345.5" r="1.5" fill="#ecd6ca" stroke="#3a1f18" stroke-width="1.1"/>
<circle cx="152.75" cy="347.9" r="1.5" fill="#ecd6ca" stroke="#3a1f18" stroke-width="1.1"/>
<circle cx="155.6" cy="346" r="1.5" fill="#ecd6ca" stroke="#3a1f18" stroke-width="1.1"/>
<circle cx="150.8" cy="354.1" r="1.5" fill="#ecd6ca" stroke="#3a1f18" stroke-width="1.1"/>
<circle cx="154.2" cy="356.1" r="1.5" fill="#ecd6ca" stroke="#3a1f18" stroke-width="1.1"/>
<circle cx="151.8" cy="358.5" r="1.5" fill="#ecd6ca" stroke="#3a1f18" stroke-width="1.1"/>
<circle cx="155.2" cy="359.4" r="1.5" fill="#ecd6ca" stroke="#3a1f18" stroke-width="1.1"/>
<circle cx="152.75" cy="361.3" r="1.5" fill="#ecd6ca" stroke="#3a1f18" stroke-width="1.1"/>
<circle cx="151.3" cy="364.2" r="1.5" fill="#ecd6ca" stroke="#3a1f18" stroke-width="1.1"/>
<circle cx="154.2" cy="362.3" r="1.5" fill="#ecd6ca" stroke="#3a1f18" stroke-width="1.1"/>
<line x1="148.4" y1="351.25" x2="157.6" y2="351.25" stroke="#111" stroke-width="1.0" />
<circle cx="162.8" cy="345.5" r="1.5" fill="#cf8c78" stroke="#3a1f18" stroke-width="1.1"/>
<circle cx="165.25" cy="345.5" r="1.5" fill="#cf8c78" stroke="#3a1f18" stroke-width="1.1"/>
<circle cx="163.8" cy="351.7" r="1.5" fill="#cf8c78" stroke="#3a1f18" stroke-width="1.1"/>
<circle cx="162.4" cy="355.6" r="1.5" fill="#cf8c78" stroke="#3a1f18" stroke-width="1.1"/>
<circle cx="164.8" cy="356.1" r="1.5" fill="#cf8c78" stroke="#3a1f18" stroke-width="1.1"/>
<circle cx="163.3" cy="358.5" r="1.5" fill="#cf8c78" stroke="#3a1f18" stroke-width="1.1"/>
<circle cx="164.8" cy="361.3" r="1.5" fill="#cf8c78" stroke="#3a1f18" stroke-width="1.1"/>
<circle cx="163.3" cy="363.75" r="1.5" fill="#cf8c78" stroke="#3a1f18" stroke-width="1.1"/>
<line x1="159.5" y1="354.1" x2="168.1" y2="354.1" stroke="#111" stroke-width="1.0" />
<circle cx="173.4" cy="331.1" r="1.5" fill="#9e1b30" stroke="#2a0a10" stroke-width="1.1"/>
<circle cx="175.3" cy="333.5" r="1.5" fill="#9e1b30" stroke="#2a0a10" stroke-width="1.1"/>
<circle cx="174.9" cy="344.5" r="1.5" fill="#9e1b30" stroke="#2a0a10" stroke-width="1.1"/>
<circle cx="173.4" cy="348.4" r="1.5" fill="#9e1b30" stroke="#2a0a10" stroke-width="1.1"/>
<circle cx="176.3" cy="348.8" r="1.5" fill="#9e1b30" stroke="#2a0a10" stroke-width="1.1"/>
<circle cx="172.5" cy="352.7" r="1.5" fill="#9e1b30" stroke="#2a0a10" stroke-width="1.1"/>
<circle cx="175.3" cy="353.2" r="1.5" fill="#9e1b30" stroke="#2a0a10" stroke-width="1.1"/>
<circle cx="172" cy="356.1" r="1.5" fill="#9e1b30" stroke="#2a0a10" stroke-width="1.1"/>
<circle cx="176.3" cy="356.1" r="1.5" fill="#9e1b30" stroke="#2a0a10" stroke-width="1.1"/>
<circle cx="174.4" cy="358" r="1.5" fill="#9e1b30" stroke="#2a0a10" stroke-width="1.1"/>
<circle cx="172.5" cy="359.4" r="1.5" fill="#9e1b30" stroke="#2a0a10" stroke-width="1.1"/>
<circle cx="176.3" cy="359.4" r="1.5" fill="#9e1b30" stroke="#2a0a10" stroke-width="1.1"/>
<line x1="170.5" y1="350.3" x2="179.2" y2="350.3" stroke="#111" stroke-width="1.0" />
<text x="190" y="302.7" font-size="11" fill="#000" color="#000" font-weight="bold" >H</text>
<line x1="212.5" y1="317" x2="212.5" y2="389.9" stroke="#141414" stroke-width="1.1" />
<line x1="209.9" y1="389.4" x2="212.7" y2="389.4" stroke="#141414" stroke-width="0.9" />
<text x="207.9" y="391.63" font-size="6.2" fill="#383838" color="#383838" text-anchor="end" class="t">0</text>
<line x1="209.9" y1="371.4" x2="212.7" y2="371.4" stroke="#141414" stroke-width="0.9" />
<text x="207.9" y="373.63" font-size="6.2" fill="#383838" color="#383838" text-anchor="end" class="t">50</text>
<line x1="209.9" y1="353.4" x2="212.7" y2="353.4" stroke="#141414" stroke-width="0.9" />
<text x="207.9" y="355.63" font-size="6.2" fill="#383838" color="#383838" text-anchor="end" class="t">100</text>
<line x1="209.9" y1="335.4" x2="212.7" y2="335.4" stroke="#141414" stroke-width="0.9" />
<text x="207.9" y="337.63" font-size="6.2" fill="#383838" color="#383838" text-anchor="end" class="t">150</text>
<line x1="209.9" y1="317.4" x2="212.7" y2="317.4" stroke="#141414" stroke-width="0.9" />
<text x="207.9" y="319.63" font-size="6.2" fill="#383838" color="#383838" text-anchor="end" class="t">200</text>
<line x1="217.5" y1="329.28" x2="217.5" y2="324.6" stroke="#111" stroke-width="0.85" />
<line x1="216.3" y1="324.6" x2="218.7" y2="324.6" stroke="#111" stroke-width="0.95" />
<rect x="215.7" y="329.28" width="3.6" height="60.12" fill="#1a4f8e" />
<line x1="224.2" y1="343.68" x2="224.2" y2="340.44" stroke="#111" stroke-width="0.85" />
<line x1="223" y1="340.44" x2="225.4" y2="340.44" stroke="#111" stroke-width="0.95" />
<rect x="222.4" y="343.68" width="3.6" height="45.72" fill="#1a4f8e" />
<line x1="233.8" y1="332.88" x2="233.8" y2="328.2" stroke="#111" stroke-width="0.85" />
<line x1="232.6" y1="328.2" x2="235" y2="328.2" stroke="#111" stroke-width="0.95" />
<rect x="232" y="332.88" width="3.6" height="56.52" fill="#ec968b" />
<line x1="240.3" y1="353.4" x2="240.3" y2="351.6" stroke="#111" stroke-width="0.85" />
<line x1="239.1" y1="351.6" x2="241.5" y2="351.6" stroke="#111" stroke-width="0.95" />
<rect x="238.5" y="353.4" width="3.6" height="36" fill="#ec968b" />
<line x1="250" y1="337.92" x2="250" y2="334.68" stroke="#111" stroke-width="0.85" />
<line x1="248.8" y1="334.68" x2="251.2" y2="334.68" stroke="#111" stroke-width="0.95" />
<rect x="248.2" y="337.92" width="3.6" height="51.48" fill="#da614b" />
<line x1="256.7" y1="341.52" x2="256.7" y2="338.64" stroke="#111" stroke-width="0.85" />
<line x1="255.5" y1="338.64" x2="257.9" y2="338.64" stroke="#111" stroke-width="0.95" />
<rect x="254.9" y="341.52" width="3.6" height="47.88" fill="#da614b" />
<line x1="266.2" y1="332.52" x2="266.2" y2="327.12" stroke="#111" stroke-width="0.85" />
<line x1="265" y1="327.12" x2="267.4" y2="327.12" stroke="#111" stroke-width="0.95" />
<rect x="264.4" y="332.52" width="3.6" height="56.88" fill="#cf102e" />
<line x1="273.1" y1="348" x2="273.1" y2="345.48" stroke="#111" stroke-width="0.85" />
<line x1="271.9" y1="345.48" x2="274.3" y2="345.48" stroke="#111" stroke-width="0.95" />
<rect x="271.3" y="348" width="3.6" height="41.4" fill="#cf102e" />
<line x1="210.1" y1="389.5" x2="277.5" y2="389.5" stroke="#141414" stroke-width="1.1" />
<line x1="217.5" y1="389.4" x2="217.5" y2="392.4" stroke="#141414" stroke-width="0.9" />
<line x1="224.2" y1="389.4" x2="224.2" y2="392.4" stroke="#141414" stroke-width="0.9" />
<line x1="233.8" y1="389.4" x2="233.8" y2="392.4" stroke="#141414" stroke-width="0.9" />
<line x1="240.3" y1="389.4" x2="240.3" y2="392.4" stroke="#141414" stroke-width="0.9" />
<line x1="250" y1="389.4" x2="250" y2="392.4" stroke="#141414" stroke-width="0.9" />
<line x1="256.7" y1="389.4" x2="256.7" y2="392.4" stroke="#141414" stroke-width="0.9" />
<line x1="266.2" y1="389.4" x2="266.2" y2="392.4" stroke="#141414" stroke-width="0.9" />
<line x1="273.1" y1="389.4" x2="273.1" y2="392.4" stroke="#141414" stroke-width="0.9" />
<text x="220.5" y="395.3" font-size="5.8" fill="#141414" color="#141414" text-anchor="end" transform="rotate(-45 220.5 395.3)" >BM</text>
<text x="227.2" y="395.3" font-size="5.8" fill="#141414" color="#141414" text-anchor="end" transform="rotate(-45 227.2 395.3)" >PB</text>
<text x="236.8" y="395.3" font-size="5.8" fill="#141414" color="#141414" text-anchor="end" transform="rotate(-45 236.8 395.3)" >BM</text>
<text x="243.3" y="395.3" font-size="5.8" fill="#141414" color="#141414" text-anchor="end" transform="rotate(-45 243.3 395.3)" >PB</text>
<text x="253" y="395.3" font-size="5.8" fill="#141414" color="#141414" text-anchor="end" transform="rotate(-45 253 395.3)" >BM</text>
<text x="259.7" y="395.3" font-size="5.8" fill="#141414" color="#141414" text-anchor="end" transform="rotate(-45 259.7 395.3)" >PB</text>
<text x="269.2" y="395.3" font-size="5.8" fill="#141414" color="#141414" text-anchor="end" transform="rotate(-45 269.2 395.3)" >BM</text>
<text x="276.1" y="395.3" font-size="5.8" fill="#141414" color="#141414" text-anchor="end" transform="rotate(-45 276.1 395.3)" >PB</text>
<line x1="217.3" y1="313.5" x2="226" y2="313.5" stroke="#303030" stroke-width="1.0" />
<text x="221.9" y="313" font-size="5" fill="#141414" color="#141414" text-anchor="middle" letter-spacing="0.5">*</text>
<line x1="232" y1="313.5" x2="242" y2="313.5" stroke="#303030" stroke-width="1.0" />
<text x="237.25" y="313" font-size="5" fill="#141414" color="#141414" text-anchor="middle" letter-spacing="0.5">***</text>
<line x1="264.4" y1="313.5" x2="275" y2="313.5" stroke="#303030" stroke-width="1.0" />
<text x="269.95" y="313" font-size="5" fill="#141414" color="#141414" text-anchor="middle" letter-spacing="0.5">***</text>
<line x1="301.5" y1="316.9" x2="301.5" y2="390.1" stroke="#141414" stroke-width="1.1" />
<line x1="298.5" y1="389.6" x2="301.3" y2="389.6" stroke="#141414" stroke-width="0.9" />
<text x="296.5" y="391.83" font-size="6.2" fill="#383838" color="#383838" text-anchor="end" class="t">0</text>
<line x1="298.5" y1="365.5" x2="301.3" y2="365.5" stroke="#141414" stroke-width="0.9" />
<text x="296.5" y="367.73" font-size="6.2" fill="#383838" color="#383838" text-anchor="end" class="t">100</text>
<line x1="298.5" y1="341.4" x2="301.3" y2="341.4" stroke="#141414" stroke-width="0.9" />
<text x="296.5" y="343.63" font-size="6.2" fill="#383838" color="#383838" text-anchor="end" class="t">200</text>
<line x1="298.5" y1="317.3" x2="301.3" y2="317.3" stroke="#141414" stroke-width="0.9" />
<text x="296.5" y="319.53" font-size="6.2" fill="#383838" color="#383838" text-anchor="end" class="t">300</text>
<line x1="298.7" y1="389.5" x2="344.3" y2="389.5" stroke="#141414" stroke-width="1.1" />
<line x1="314.4" y1="389.6" x2="314.4" y2="392.6" stroke="#141414" stroke-width="0.9" />
<line x1="331.6" y1="389.6" x2="331.6" y2="392.6" stroke="#141414" stroke-width="0.9" />
<text x="317.1" y="396.8" font-size="6" fill="#141414" color="#141414" text-anchor="end" transform="rotate(-45 317.1 396.8)" >BM</text>
<text x="334.6" y="396.8" font-size="6" fill="#141414" color="#141414" text-anchor="end" transform="rotate(-45 334.6 396.8)" >PB</text>
<line x1="310.4" y1="314.5" x2="330.6" y2="314.5" stroke="#303030" stroke-width="1.0" />
<text x="320.75" y="314" font-size="5" fill="#141414" color="#141414" text-anchor="middle" letter-spacing="0.5">****</text>
<circle cx="313.51" cy="329.17" r="1.6" fill="#f0f0f0" stroke="#141414" stroke-width="0.8"/>
<circle cx="314.96" cy="330.62" r="1.6" fill="#f0f0f0" stroke="#141414" stroke-width="0.8"/>
<circle cx="313.51" cy="333.51" r="1.6" fill="#f0f0f0" stroke="#141414" stroke-width="0.8"/>
<circle cx="312.55" cy="344.13" r="1.6" fill="#f0f0f0" stroke="#141414" stroke-width="0.8"/>
<circle cx="315.44" cy="344.13" r="1.6" fill="#f0f0f0" stroke="#141414" stroke-width="0.8"/>
<circle cx="310.14" cy="346.06" r="1.6" fill="#f0f0f0" stroke="#141414" stroke-width="0.8"/>
<circle cx="313.51" cy="345.87" r="1.6" fill="#f0f0f0" stroke="#141414" stroke-width="0.8"/>
<circle cx="316.89" cy="346.25" r="1.6" fill="#f0f0f0" stroke="#141414" stroke-width="0.8"/>
<circle cx="318.82" cy="345.87" r="1.6" fill="#f0f0f0" stroke="#141414" stroke-width="0.8"/>
<circle cx="311.58" cy="347.99" r="1.6" fill="#f0f0f0" stroke="#141414" stroke-width="0.8"/>
<circle cx="314.96" cy="347.99" r="1.6" fill="#f0f0f0" stroke="#141414" stroke-width="0.8"/>
<circle cx="317.86" cy="348.19" r="1.6" fill="#f0f0f0" stroke="#141414" stroke-width="0.8"/>
<circle cx="313.51" cy="349.92" r="1.6" fill="#f0f0f0" stroke="#141414" stroke-width="0.8"/>
<circle cx="315.93" cy="350.12" r="1.6" fill="#f0f0f0" stroke="#141414" stroke-width="0.8"/>
<circle cx="309.65" cy="353.78" r="1.6" fill="#f0f0f0" stroke="#141414" stroke-width="0.8"/>
<circle cx="312.55" cy="353.59" r="1.6" fill="#f0f0f0" stroke="#141414" stroke-width="0.8"/>
<circle cx="315.44" cy="353.98" r="1.6" fill="#f0f0f0" stroke="#141414" stroke-width="0.8"/>
<circle cx="317.86" cy="353.59" r="1.6" fill="#f0f0f0" stroke="#141414" stroke-width="0.8"/>
<circle cx="309.17" cy="356.2" r="1.6" fill="#f0f0f0" stroke="#141414" stroke-width="0.8"/>
<circle cx="312.07" cy="356.2" r="1.6" fill="#f0f0f0" stroke="#141414" stroke-width="0.8"/>
<circle cx="314.96" cy="356.49" r="1.6" fill="#f0f0f0" stroke="#141414" stroke-width="0.8"/>
<circle cx="317.86" cy="356.2" r="1.6" fill="#f0f0f0" stroke="#141414" stroke-width="0.8"/>
<circle cx="310.14" cy="358.61" r="1.6" fill="#f0f0f0" stroke="#141414" stroke-width="0.8"/>
<circle cx="313.03" cy="358.61" r="1.6" fill="#f0f0f0" stroke="#141414" stroke-width="0.8"/>
<circle cx="315.93" cy="358.8" r="1.6" fill="#f0f0f0" stroke="#141414" stroke-width="0.8"/>
<circle cx="318.34" cy="358.61" r="1.6" fill="#f0f0f0" stroke="#141414" stroke-width="0.8"/>
<circle cx="309.17" cy="361.02" r="1.6" fill="#f0f0f0" stroke="#141414" stroke-width="0.8"/>
<circle cx="312.07" cy="361.02" r="1.6" fill="#f0f0f0" stroke="#141414" stroke-width="0.8"/>
<circle cx="314.96" cy="361.31" r="1.6" fill="#f0f0f0" stroke="#141414" stroke-width="0.8"/>
<circle cx="317.37" cy="361.02" r="1.6" fill="#f0f0f0" stroke="#141414" stroke-width="0.8"/>
<circle cx="310.62" cy="363.44" r="1.6" fill="#f0f0f0" stroke="#141414" stroke-width="0.8"/>
<circle cx="313.51" cy="363.44" r="1.6" fill="#f0f0f0" stroke="#141414" stroke-width="0.8"/>
<circle cx="315.93" cy="363.63" r="1.6" fill="#f0f0f0" stroke="#141414" stroke-width="0.8"/>
<circle cx="311.58" cy="365.37" r="1.6" fill="#f0f0f0" stroke="#141414" stroke-width="0.8"/>
<circle cx="314.48" cy="365.56" r="1.6" fill="#f0f0f0" stroke="#141414" stroke-width="0.8"/>
<circle cx="331.85" cy="342.68" r="1.6" fill="#f0f0f0" stroke="#141414" stroke-width="0.8"/>
<circle cx="331.85" cy="348.47" r="1.6" fill="#f0f0f0" stroke="#141414" stroke-width="0.8"/>
<circle cx="331.85" cy="353.3" r="1.6" fill="#f0f0f0" stroke="#141414" stroke-width="0.8"/>
<circle cx="329.92" cy="355.23" r="1.6" fill="#f0f0f0" stroke="#141414" stroke-width="0.8"/>
<circle cx="332.82" cy="355.23" r="1.6" fill="#f0f0f0" stroke="#141414" stroke-width="0.8"/>
<circle cx="327.99" cy="357.64" r="1.6" fill="#f0f0f0" stroke="#141414" stroke-width="0.8"/>
<circle cx="330.89" cy="357.16" r="1.6" fill="#f0f0f0" stroke="#141414" stroke-width="0.8"/>
<circle cx="333.78" cy="357.16" r="1.6" fill="#f0f0f0" stroke="#141414" stroke-width="0.8"/>
<circle cx="336.68" cy="357.84" r="1.6" fill="#f0f0f0" stroke="#141414" stroke-width="0.8"/>
<circle cx="326.54" cy="359.77" r="1.6" fill="#f0f0f0" stroke="#141414" stroke-width="0.8"/>
<circle cx="329.44" cy="359.58" r="1.6" fill="#f0f0f0" stroke="#141414" stroke-width="0.8"/>
<circle cx="332.34" cy="359.58" r="1.6" fill="#f0f0f0" stroke="#141414" stroke-width="0.8"/>
<circle cx="335.23" cy="359.77" r="1.6" fill="#f0f0f0" stroke="#141414" stroke-width="0.8"/>
<circle cx="338.13" cy="360.06" r="1.6" fill="#f0f0f0" stroke="#141414" stroke-width="0.8"/>
<circle cx="327.51" cy="362.47" r="1.6" fill="#f0f0f0" stroke="#141414" stroke-width="0.8"/>
<circle cx="330.41" cy="362.47" r="1.6" fill="#f0f0f0" stroke="#141414" stroke-width="0.8"/>
<circle cx="333.3" cy="362.47" r="1.6" fill="#f0f0f0" stroke="#141414" stroke-width="0.8"/>
<circle cx="336.2" cy="362.47" r="1.6" fill="#f0f0f0" stroke="#141414" stroke-width="0.8"/>
<circle cx="328.47" cy="364.88" r="1.6" fill="#f0f0f0" stroke="#141414" stroke-width="0.8"/>
<circle cx="331.37" cy="364.88" r="1.6" fill="#f0f0f0" stroke="#141414" stroke-width="0.8"/>
<circle cx="334.27" cy="364.88" r="1.6" fill="#f0f0f0" stroke="#141414" stroke-width="0.8"/>
<circle cx="336.68" cy="364.88" r="1.6" fill="#f0f0f0" stroke="#141414" stroke-width="0.8"/>
<circle cx="329.44" cy="367.3" r="1.6" fill="#f0f0f0" stroke="#141414" stroke-width="0.8"/>
<circle cx="332.34" cy="367.3" r="1.6" fill="#f0f0f0" stroke="#141414" stroke-width="0.8"/>
<circle cx="330.41" cy="370" r="1.6" fill="#f0f0f0" stroke="#141414" stroke-width="0.8"/>
<line x1="306.3" y1="351.9" x2="321.7" y2="351.9" stroke="#111" stroke-width="1.0" />
<line x1="324.6" y1="361" x2="339.6" y2="361" stroke="#111" stroke-width="1.0" />
<text x="351.1" y="302.8" font-size="11" fill="#000" color="#000" font-weight="bold" >I</text>
<line x1="376.5" y1="316.7" x2="376.5" y2="389.5" stroke="#141414" stroke-width="1.1" />
<line x1="373.9" y1="389" x2="376.7" y2="389" stroke="#141414" stroke-width="0.9" />
<text x="372.1" y="391.23" font-size="6.2" fill="#383838" color="#383838" text-anchor="end" class="t">0</text>
<line x1="373.9" y1="365.03" x2="376.7" y2="365.03" stroke="#141414" stroke-width="0.9" />
<text x="372.1" y="367.27" font-size="6.2" fill="#383838" color="#383838" text-anchor="end" class="t">100</text>
<line x1="373.9" y1="341.07" x2="376.7" y2="341.07" stroke="#141414" stroke-width="0.9" />
<text x="372.1" y="343.3" font-size="6.2" fill="#383838" color="#383838" text-anchor="end" class="t">200</text>
<line x1="373.9" y1="317.1" x2="376.7" y2="317.1" stroke="#141414" stroke-width="0.9" />
<text x="372.1" y="319.33" font-size="6.2" fill="#383838" color="#383838" text-anchor="end" class="t">300</text>
<line x1="374.1" y1="389.5" x2="423.8" y2="389.5" stroke="#141414" stroke-width="1.1" />
<line x1="384.4" y1="389" x2="384.4" y2="392" stroke="#141414" stroke-width="0.9" />
<line x1="395.1" y1="389" x2="395.1" y2="392" stroke="#141414" stroke-width="0.9" />
<line x1="406.2" y1="389" x2="406.2" y2="392" stroke="#141414" stroke-width="0.9" />
<line x1="417.1" y1="389" x2="417.1" y2="392" stroke="#141414" stroke-width="0.9" />
<text x="388.4" y="397" font-size="5.9" fill="#141414" color="#141414" text-anchor="end" transform="rotate(-45 388.4 397)" >BM</text>
<text x="399.1" y="397" font-size="5.9" fill="#141414" color="#141414" text-anchor="end" transform="rotate(-45 399.1 397)" >PB</text>
<text x="410.2" y="397" font-size="5.9" fill="#141414" color="#141414" text-anchor="end" transform="rotate(-45 410.2 397)" >BM</text>
<text x="421.1" y="397" font-size="5.9" fill="#141414" color="#141414" text-anchor="end" transform="rotate(-45 421.1 397)" >PB</text>
<line x1="381.8" y1="313.5" x2="404.6" y2="313.5" stroke="#303030" stroke-width="1.0" />
<text x="393.45" y="313" font-size="5" fill="#141414" color="#141414" text-anchor="middle" letter-spacing="0.5">****</text>
<line x1="393.5" y1="318.5" x2="416.1" y2="318.5" stroke="#303030" stroke-width="1.0" />
<text x="405.05" y="318" font-size="5" fill="#141414" color="#141414" text-anchor="middle" letter-spacing="0.5">****</text>
<text x="409" y="328.7" font-size="6.4" fill="#4a6c9e" color="#4a6c9e" class="t">CD8<tspan font-size="3.97" dy="-2.43">+</tspan><tspan dy="2.43"></tspan></text>
<text x="409" y="335.8" font-size="6.4" fill="#d24658" color="#d24658" class="t">CD4<tspan font-size="3.97" dy="-2.43">+</tspan><tspan dy="2.43"></tspan></text>
<circle cx="384.4" cy="329.08" r="1.5" fill="#e2e8f3" stroke="#24509a" stroke-width="0.85"/>
<circle cx="384.4" cy="331.72" r="1.5" fill="#e2e8f3" stroke="#24509a" stroke-width="0.85"/>
<circle cx="384.4" cy="343.46" r="1.5" fill="#e2e8f3" stroke="#24509a" stroke-width="0.85"/>
<circle cx="386.7" cy="344.42" r="1.5" fill="#e2e8f3" stroke="#24509a" stroke-width="0.85"/>
<circle cx="383.25" cy="345.38" r="1.5" fill="#e2e8f3" stroke="#24509a" stroke-width="0.85"/>
<circle cx="385.55" cy="346.34" r="1.5" fill="#e2e8f3" stroke="#24509a" stroke-width="0.85"/>
<circle cx="382.1" cy="347.3" r="1.5" fill="#e2e8f3" stroke="#24509a" stroke-width="0.85"/>
<circle cx="384.4" cy="348.26" r="1.5" fill="#e2e8f3" stroke="#24509a" stroke-width="0.85"/>
<circle cx="386.7" cy="349.22" r="1.5" fill="#e2e8f3" stroke="#24509a" stroke-width="0.85"/>
<circle cx="383.25" cy="350.17" r="1.5" fill="#e2e8f3" stroke="#24509a" stroke-width="0.85"/>
<circle cx="385.55" cy="351.13" r="1.5" fill="#e2e8f3" stroke="#24509a" stroke-width="0.85"/>
<circle cx="382.1" cy="352.09" r="1.5" fill="#e2e8f3" stroke="#24509a" stroke-width="0.85"/>
<circle cx="384.4" cy="353.05" r="1.5" fill="#e2e8f3" stroke="#24509a" stroke-width="0.85"/>
<circle cx="386.7" cy="354.01" r="1.5" fill="#e2e8f3" stroke="#24509a" stroke-width="0.85"/>
<circle cx="383.25" cy="354.97" r="1.5" fill="#e2e8f3" stroke="#24509a" stroke-width="0.85"/>
<circle cx="385.55" cy="355.93" r="1.5" fill="#e2e8f3" stroke="#24509a" stroke-width="0.85"/>
<circle cx="382.1" cy="356.88" r="1.5" fill="#e2e8f3" stroke="#24509a" stroke-width="0.85"/>
<circle cx="384.4" cy="357.84" r="1.5" fill="#e2e8f3" stroke="#24509a" stroke-width="0.85"/>
<circle cx="386.7" cy="358.8" r="1.5" fill="#e2e8f3" stroke="#24509a" stroke-width="0.85"/>
<circle cx="383.25" cy="359.76" r="1.5" fill="#e2e8f3" stroke="#24509a" stroke-width="0.85"/>
<circle cx="385.55" cy="360.72" r="1.5" fill="#e2e8f3" stroke="#24509a" stroke-width="0.85"/>
<circle cx="382.1" cy="361.68" r="1.5" fill="#e2e8f3" stroke="#24509a" stroke-width="0.85"/>
<circle cx="384.4" cy="362.64" r="1.5" fill="#e2e8f3" stroke="#24509a" stroke-width="0.85"/>
<circle cx="386.7" cy="363.6" r="1.5" fill="#e2e8f3" stroke="#24509a" stroke-width="0.85"/>
<circle cx="383.25" cy="364.55" r="1.5" fill="#e2e8f3" stroke="#24509a" stroke-width="0.85"/>
<circle cx="395.1" cy="342.26" r="1.5" fill="#e2e8f3" stroke="#24509a" stroke-width="0.85"/>
<circle cx="395.1" cy="347.06" r="1.5" fill="#e2e8f3" stroke="#24509a" stroke-width="0.85"/>
<circle cx="395.1" cy="352.57" r="1.5" fill="#e2e8f3" stroke="#24509a" stroke-width="0.85"/>
<circle cx="397.4" cy="353.53" r="1.5" fill="#e2e8f3" stroke="#24509a" stroke-width="0.85"/>
<circle cx="393.95" cy="354.49" r="1.5" fill="#e2e8f3" stroke="#24509a" stroke-width="0.85"/>
<circle cx="396.25" cy="355.45" r="1.5" fill="#e2e8f3" stroke="#24509a" stroke-width="0.85"/>
<circle cx="392.8" cy="356.41" r="1.5" fill="#e2e8f3" stroke="#24509a" stroke-width="0.85"/>
<circle cx="395.1" cy="357.36" r="1.5" fill="#e2e8f3" stroke="#24509a" stroke-width="0.85"/>
<circle cx="397.4" cy="358.32" r="1.5" fill="#e2e8f3" stroke="#24509a" stroke-width="0.85"/>
<circle cx="393.95" cy="359.28" r="1.5" fill="#e2e8f3" stroke="#24509a" stroke-width="0.85"/>
<circle cx="396.25" cy="360.24" r="1.5" fill="#e2e8f3" stroke="#24509a" stroke-width="0.85"/>
<circle cx="392.8" cy="361.2" r="1.5" fill="#e2e8f3" stroke="#24509a" stroke-width="0.85"/>
<circle cx="395.1" cy="362.16" r="1.5" fill="#e2e8f3" stroke="#24509a" stroke-width="0.85"/>
<circle cx="397.4" cy="363.12" r="1.5" fill="#e2e8f3" stroke="#24509a" stroke-width="0.85"/>
<circle cx="393.95" cy="364.07" r="1.5" fill="#e2e8f3" stroke="#24509a" stroke-width="0.85"/>
<circle cx="396.25" cy="365.03" r="1.5" fill="#e2e8f3" stroke="#24509a" stroke-width="0.85"/>
<circle cx="392.8" cy="365.99" r="1.5" fill="#e2e8f3" stroke="#24509a" stroke-width="0.85"/>
<circle cx="395.1" cy="366.95" r="1.5" fill="#e2e8f3" stroke="#24509a" stroke-width="0.85"/>
<circle cx="397.4" cy="367.91" r="1.5" fill="#e2e8f3" stroke="#24509a" stroke-width="0.85"/>
<circle cx="393.95" cy="368.87" r="1.5" fill="#e2e8f3" stroke="#24509a" stroke-width="0.85"/>
<circle cx="406.2" cy="355.45" r="1.5" fill="#f7dde0" stroke="#cc1f36" stroke-width="0.85"/>
<circle cx="407.35" cy="357.36" r="1.5" fill="#f7dde0" stroke="#cc1f36" stroke-width="0.85"/>
<circle cx="406.2" cy="359.28" r="1.5" fill="#f7dde0" stroke="#cc1f36" stroke-width="0.85"/>
<circle cx="408.5" cy="360.72" r="1.5" fill="#f7dde0" stroke="#cc1f36" stroke-width="0.85"/>
<circle cx="406.2" cy="362.16" r="1.5" fill="#f7dde0" stroke="#cc1f36" stroke-width="0.85"/>
<circle cx="408.5" cy="363.6" r="1.5" fill="#f7dde0" stroke="#cc1f36" stroke-width="0.85"/>
<circle cx="406.2" cy="365.03" r="1.5" fill="#f7dde0" stroke="#cc1f36" stroke-width="0.85"/>
<circle cx="408.5" cy="365.99" r="1.5" fill="#f7dde0" stroke="#cc1f36" stroke-width="0.85"/>
<circle cx="405.05" cy="366.95" r="1.5" fill="#f7dde0" stroke="#cc1f36" stroke-width="0.85"/>
<circle cx="407.35" cy="367.91" r="1.5" fill="#f7dde0" stroke="#cc1f36" stroke-width="0.85"/>
<circle cx="403.9" cy="368.87" r="1.5" fill="#f7dde0" stroke="#cc1f36" stroke-width="0.85"/>
<circle cx="406.2" cy="369.83" r="1.5" fill="#f7dde0" stroke="#cc1f36" stroke-width="0.85"/>
<circle cx="408.5" cy="370.79" r="1.5" fill="#f7dde0" stroke="#cc1f36" stroke-width="0.85"/>
<circle cx="405.05" cy="371.74" r="1.5" fill="#f7dde0" stroke="#cc1f36" stroke-width="0.85"/>
<circle cx="407.35" cy="372.7" r="1.5" fill="#f7dde0" stroke="#cc1f36" stroke-width="0.85"/>
<circle cx="403.9" cy="373.66" r="1.5" fill="#f7dde0" stroke="#cc1f36" stroke-width="0.85"/>
<circle cx="406.2" cy="374.62" r="1.5" fill="#f7dde0" stroke="#cc1f36" stroke-width="0.85"/>
<circle cx="408.5" cy="375.58" r="1.5" fill="#f7dde0" stroke="#cc1f36" stroke-width="0.85"/>
<circle cx="405.05" cy="376.54" r="1.5" fill="#f7dde0" stroke="#cc1f36" stroke-width="0.85"/>
<circle cx="407.35" cy="377.5" r="1.5" fill="#f7dde0" stroke="#cc1f36" stroke-width="0.85"/>
<circle cx="417.1" cy="355.93" r="1.5" fill="#f7dde0" stroke="#cc1f36" stroke-width="0.85"/>
<circle cx="417.1" cy="358.32" r="1.5" fill="#f7dde0" stroke="#cc1f36" stroke-width="0.85"/>
<circle cx="418.25" cy="360.24" r="1.5" fill="#f7dde0" stroke="#cc1f36" stroke-width="0.85"/>
<circle cx="417.1" cy="362.16" r="1.5" fill="#f7dde0" stroke="#cc1f36" stroke-width="0.85"/>
<circle cx="419.4" cy="363.6" r="1.5" fill="#f7dde0" stroke="#cc1f36" stroke-width="0.85"/>
<circle cx="417.1" cy="365.03" r="1.5" fill="#f7dde0" stroke="#cc1f36" stroke-width="0.85"/>
<circle cx="419.4" cy="365.99" r="1.5" fill="#f7dde0" stroke="#cc1f36" stroke-width="0.85"/>
<circle cx="415.95" cy="366.95" r="1.5" fill="#f7dde0" stroke="#cc1f36" stroke-width="0.85"/>
<circle cx="418.25" cy="367.91" r="1.5" fill="#f7dde0" stroke="#cc1f36" stroke-width="0.85"/>
<circle cx="414.8" cy="368.87" r="1.5" fill="#f7dde0" stroke="#cc1f36" stroke-width="0.85"/>
<circle cx="417.1" cy="369.83" r="1.5" fill="#f7dde0" stroke="#cc1f36" stroke-width="0.85"/>
<circle cx="419.4" cy="370.79" r="1.5" fill="#f7dde0" stroke="#cc1f36" stroke-width="0.85"/>
<circle cx="415.95" cy="371.74" r="1.5" fill="#f7dde0" stroke="#cc1f36" stroke-width="0.85"/>
<circle cx="418.25" cy="372.7" r="1.5" fill="#f7dde0" stroke="#cc1f36" stroke-width="0.85"/>
<circle cx="414.8" cy="373.66" r="1.5" fill="#f7dde0" stroke="#cc1f36" stroke-width="0.85"/>
<circle cx="417.1" cy="374.62" r="1.5" fill="#f7dde0" stroke="#cc1f36" stroke-width="0.85"/>
<circle cx="419.4" cy="375.58" r="1.5" fill="#f7dde0" stroke="#cc1f36" stroke-width="0.85"/>
<circle cx="415.95" cy="376.54" r="1.5" fill="#f7dde0" stroke="#cc1f36" stroke-width="0.85"/>
<circle cx="418.25" cy="377.5" r="1.5" fill="#f7dde0" stroke="#cc1f36" stroke-width="0.85"/>
<line x1="378.5" y1="351.7" x2="390.5" y2="351.7" stroke="#24509a" stroke-width="0.8" />
<line x1="389.5" y1="359.7" x2="401" y2="359.7" stroke="#24509a" stroke-width="0.8" />
<line x1="400.5" y1="367.8" x2="412" y2="367.8" stroke="#cc1f36" stroke-width="0.8" />
<line x1="411.5" y1="368.8" x2="423" y2="368.8" stroke="#cc1f36" stroke-width="0.8" />
<text x="102.6" y="428.5" font-size="11" fill="#000" color="#000" font-weight="bold" >J</text>
<path d="M121.2 457.5 L121.88 457.5 L122.56 457.49 L123.24 457.49 L123.92 457.48 L124.61 457.48 L125.29 457.47 L125.97 457.45 L126.65 457.44 L127.33 457.41 L128.01 457.38 L128.69 457.34 L129.38 457.28 L130.06 457.21 L130.74 457.12 L131.42 457.01 L132.1 456.86 L132.78 456.67 L133.46 456.42 L134.14 456.11 L134.82 455.72 L135.51 455.24 L136.19 454.64 L136.87 453.92 L137.55 453.07 L138.23 452.07 L138.91 450.94 L139.59 449.67 L140.28 448.26 L140.96 446.73 L141.64 445.09 L142.32 443.39 L143 441.75 L143.68 440.31 L144.36 439.26 L145.04 438.75 L145.72 438.89 L146.41 439.65 L147.09 440.92 L147.77 442.53 L148.45 444.29 L149.13 446.06 L149.81 447.75 L150.49 449.32 L151.18 450.74 L151.86 452.01 L152.54 453.12 L153.22 454.08 L153.9 454.88 L154.58 455.54 L155.26 456.06 L155.94 456.47 L156.62 456.77 L157.31 457 L157.99 457.17 L158.67 457.28 L159.35 457.36 L160.03 457.41 L160.71 457.45 L161.39 457.47 L162.07 457.48 L162.76 457.49 L163.44 457.49 L164.12 457.5 L164.8 457.5 L165.48 457.5 L166.16 457.5 L166.84 457.5 L167.52 457.5 L168.21 457.5 L168.89 457.5 L169.57 457.5 L170.25 457.5 L170.93 457.5 L171.61 457.5 L172.29 457.5 L172.97 457.5 L173.66 457.5 L174.34 457.5 L175.02 457.5 L175.7 457.5 L175.7 457.5 L121.2 457.5 Z" fill="#6cc263" fill-opacity="1" stroke="none"/>
<path d="M121.2 457.5 L121.88 457.5 L122.56 457.49 L123.24 457.49 L123.92 457.48 L124.61 457.48 L125.29 457.47 L125.97 457.45 L126.65 457.44 L127.33 457.41 L128.01 457.38 L128.69 457.34 L129.38 457.28 L130.06 457.21 L130.74 457.12 L131.42 457.01 L132.1 456.86 L132.78 456.67 L133.46 456.42 L134.14 456.11 L134.82 455.72 L135.51 455.24 L136.19 454.64 L136.87 453.92 L137.55 453.07 L138.23 452.07 L138.91 450.94 L139.59 449.67 L140.28 448.26 L140.96 446.73 L141.64 445.09 L142.32 443.39 L143 441.75 L143.68 440.31 L144.36 439.26 L145.04 438.75 L145.72 438.89 L146.41 439.65 L147.09 440.92 L147.77 442.53 L148.45 444.29 L149.13 446.06 L149.81 447.75 L150.49 449.32 L151.18 450.74 L151.86 452.01 L152.54 453.12 L153.22 454.08 L153.9 454.88 L154.58 455.54 L155.26 456.06 L155.94 456.47 L156.62 456.77 L157.31 457 L157.99 457.17 L158.67 457.28 L159.35 457.36 L160.03 457.41 L160.71 457.45 L161.39 457.47 L162.07 457.48 L162.76 457.49 L163.44 457.49 L164.12 457.5 L164.8 457.5 L165.48 457.5 L166.16 457.5 L166.84 457.5 L167.52 457.5 L168.21 457.5 L168.89 457.5 L169.57 457.5 L170.25 457.5 L170.93 457.5 L171.61 457.5 L172.29 457.5 L172.97 457.5 L173.66 457.5 L174.34 457.5 L175.02 457.5 L175.7 457.5" fill="none" stroke="#3b8f3b" stroke-width="0.7"/>
<path d="M121.2 468 L121.88 468 L122.56 468 L123.24 468 L123.92 467.99 L124.61 467.99 L125.29 467.98 L125.97 467.97 L126.65 467.95 L127.33 467.92 L128.01 467.88 L128.69 467.83 L129.38 467.75 L130.06 467.64 L130.74 467.5 L131.42 467.32 L132.1 467.1 L132.78 466.82 L133.46 466.48 L134.14 466.06 L134.82 465.57 L135.51 465 L136.19 464.32 L136.87 463.55 L137.55 462.67 L138.23 461.69 L138.91 460.6 L139.59 459.4 L140.28 458.09 L140.96 456.7 L141.64 455.23 L142.32 453.75 L143 452.38 L143.68 451.26 L144.36 450.54 L145.04 450.34 L145.72 450.72 L146.41 451.61 L147.09 452.9 L147.77 454.42 L148.45 456.03 L149.13 457.62 L149.81 459.13 L150.49 460.54 L151.18 461.82 L151.86 462.97 L152.54 463.98 L153.22 464.85 L153.9 465.59 L154.58 466.18 L155.26 466.66 L155.94 467.04 L156.62 467.32 L157.31 467.53 L157.99 467.68 L158.67 467.79 L159.35 467.86 L160.03 467.91 L160.71 467.95 L161.39 467.97 L162.07 467.98 L162.76 467.99 L163.44 467.99 L164.12 468 L164.8 468 L165.48 468 L166.16 468 L166.84 468 L167.52 468 L168.21 468 L168.89 468 L169.57 468 L170.25 468 L170.93 468 L171.61 468 L172.29 468 L172.97 468 L173.66 468 L174.34 468 L175.02 468 L175.7 468 L175.7 468 L121.2 468 Z" fill="#50a64a" fill-opacity="1" stroke="none"/>
<path d="M121.2 468 L121.88 468 L122.56 468 L123.24 468 L123.92 467.99 L124.61 467.99 L125.29 467.98 L125.97 467.97 L126.65 467.95 L127.33 467.92 L128.01 467.88 L128.69 467.83 L129.38 467.75 L130.06 467.64 L130.74 467.5 L131.42 467.32 L132.1 467.1 L132.78 466.82 L133.46 466.48 L134.14 466.06 L134.82 465.57 L135.51 465 L136.19 464.32 L136.87 463.55 L137.55 462.67 L138.23 461.69 L138.91 460.6 L139.59 459.4 L140.28 458.09 L140.96 456.7 L141.64 455.23 L142.32 453.75 L143 452.38 L143.68 451.26 L144.36 450.54 L145.04 450.34 L145.72 450.72 L146.41 451.61 L147.09 452.9 L147.77 454.42 L148.45 456.03 L149.13 457.62 L149.81 459.13 L150.49 460.54 L151.18 461.82 L151.86 462.97 L152.54 463.98 L153.22 464.85 L153.9 465.59 L154.58 466.18 L155.26 466.66 L155.94 467.04 L156.62 467.32 L157.31 467.53 L157.99 467.68 L158.67 467.79 L159.35 467.86 L160.03 467.91 L160.71 467.95 L161.39 467.97 L162.07 467.98 L162.76 467.99 L163.44 467.99 L164.12 468 L164.8 468 L165.48 468 L166.16 468 L166.84 468 L167.52 468 L168.21 468 L168.89 468 L169.57 468 L170.25 468 L170.93 468 L171.61 468 L172.29 468 L172.97 468 L173.66 468 L174.34 468 L175.02 468 L175.7 468" fill="none" stroke="#367f33" stroke-width="0.7"/>
<path d="M121.2 479.3 L121.88 479.3 L122.56 479.3 L123.24 479.3 L123.92 479.3 L124.61 479.3 L125.29 479.3 L125.97 479.3 L126.65 479.29 L127.33 479.29 L128.01 479.28 L128.69 479.27 L129.38 479.25 L130.06 479.21 L130.74 479.16 L131.42 479.08 L132.1 478.96 L132.78 478.8 L133.46 478.57 L134.14 478.26 L134.82 477.87 L135.51 477.36 L136.19 476.75 L136.87 476.01 L137.55 475.12 L138.23 473.98 L138.91 472.4 L139.59 470.3 L140.28 468 L140.96 466.25 L141.64 465.7 L142.32 466.18 L143 466.78 L143.68 466.73 L144.36 466.09 L145.04 465.7 L145.72 466.4 L146.41 468.26 L147.09 470.58 L147.77 472.62 L148.45 474.13 L149.13 475.24 L149.81 476.11 L150.49 476.83 L151.18 477.43 L151.86 477.92 L152.54 478.3 L153.22 478.6 L153.9 478.82 L154.58 478.98 L155.26 479.09 L155.94 479.17 L156.62 479.22 L157.31 479.25 L157.99 479.27 L158.67 479.28 L159.35 479.29 L160.03 479.29 L160.71 479.3 L161.39 479.3 L162.07 479.3 L162.76 479.3 L163.44 479.3 L164.12 479.3 L164.8 479.3 L165.48 479.3 L166.16 479.3 L166.84 479.3 L167.52 479.3 L168.21 479.3 L168.89 479.3 L169.57 479.3 L170.25 479.3 L170.93 479.3 L171.61 479.3 L172.29 479.3 L172.97 479.3 L173.66 479.3 L174.34 479.3 L175.02 479.3 L175.7 479.3 L175.7 479.3 L121.2 479.3 Z" fill="#93d486" fill-opacity="1" stroke="none"/>
<path d="M121.2 479.3 L121.88 479.3 L122.56 479.3 L123.24 479.3 L123.92 479.3 L124.61 479.3 L125.29 479.3 L125.97 479.3 L126.65 479.29 L127.33 479.29 L128.01 479.28 L128.69 479.27 L129.38 479.25 L130.06 479.21 L130.74 479.16 L131.42 479.08 L132.1 478.96 L132.78 478.8 L133.46 478.57 L134.14 478.26 L134.82 477.87 L135.51 477.36 L136.19 476.75 L136.87 476.01 L137.55 475.12 L138.23 473.98 L138.91 472.4 L139.59 470.3 L140.28 468 L140.96 466.25 L141.64 465.7 L142.32 466.18 L143 466.78 L143.68 466.73 L144.36 466.09 L145.04 465.7 L145.72 466.4 L146.41 468.26 L147.09 470.58 L147.77 472.62 L148.45 474.13 L149.13 475.24 L149.81 476.11 L150.49 476.83 L151.18 477.43 L151.86 477.92 L152.54 478.3 L153.22 478.6 L153.9 478.82 L154.58 478.98 L155.26 479.09 L155.94 479.17 L156.62 479.22 L157.31 479.25 L157.99 479.27 L158.67 479.28 L159.35 479.29 L160.03 479.29 L160.71 479.3 L161.39 479.3 L162.07 479.3 L162.76 479.3 L163.44 479.3 L164.12 479.3 L164.8 479.3 L165.48 479.3 L166.16 479.3 L166.84 479.3 L167.52 479.3 L168.21 479.3 L168.89 479.3 L169.57 479.3 L170.25 479.3 L170.93 479.3 L171.61 479.3 L172.29 479.3 L172.97 479.3 L173.66 479.3 L174.34 479.3 L175.02 479.3 L175.7 479.3" fill="none" stroke="#4a9a44" stroke-width="0.7"/>
<path d="M121.2 490 L121.88 490 L122.56 490 L123.24 490 L123.92 490 L124.61 490 L125.29 490 L125.97 489.99 L126.65 489.99 L127.33 489.98 L128.01 489.97 L128.69 489.94 L129.38 489.91 L130.06 489.85 L130.74 489.76 L131.42 489.63 L132.1 489.45 L132.78 489.19 L133.46 488.85 L134.14 488.41 L134.82 487.86 L135.51 487.19 L136.19 486.38 L136.87 485.37 L137.55 483.98 L138.23 481.98 L138.91 479.45 L139.59 477.21 L140.28 476.29 L140.96 476.78 L141.64 477.67 L142.32 477.92 L143 477.36 L143.68 476.72 L144.36 476.94 L145.04 478.4 L145.72 480.61 L146.41 482.79 L147.09 484.49 L147.77 485.73 L148.45 486.67 L149.13 487.43 L149.81 488.06 L150.49 488.58 L151.18 488.98 L151.86 489.29 L152.54 489.52 L153.22 489.68 L153.9 489.79 L154.58 489.87 L155.26 489.92 L155.94 489.95 L156.62 489.97 L157.31 489.98 L157.99 489.99 L158.67 490 L159.35 490 L160.03 490 L160.71 490 L161.39 490 L162.07 490 L162.76 490 L163.44 490 L164.12 490 L164.8 490 L165.48 490 L166.16 490 L166.84 490 L167.52 490 L168.21 490 L168.89 490 L169.57 490 L170.25 490 L170.93 490 L171.61 490 L172.29 490 L172.97 490 L173.66 490 L174.34 490 L175.02 490 L175.7 490 L175.7 490 L121.2 490 Z" fill="#c3e2ac" fill-opacity="1" stroke="none"/>
<path d="M121.2 490 L121.88 490 L122.56 490 L123.24 490 L123.92 490 L124.61 490 L125.29 490 L125.97 489.99 L126.65 489.99 L127.33 489.98 L128.01 489.97 L128.69 489.94 L129.38 489.91 L130.06 489.85 L130.74 489.76 L131.42 489.63 L132.1 489.45 L132.78 489.19 L133.46 488.85 L134.14 488.41 L134.82 487.86 L135.51 487.19 L136.19 486.38 L136.87 485.37 L137.55 483.98 L138.23 481.98 L138.91 479.45 L139.59 477.21 L140.28 476.29 L140.96 476.78 L141.64 477.67 L142.32 477.92 L143 477.36 L143.68 476.72 L144.36 476.94 L145.04 478.4 L145.72 480.61 L146.41 482.79 L147.09 484.49 L147.77 485.73 L148.45 486.67 L149.13 487.43 L149.81 488.06 L150.49 488.58 L151.18 488.98 L151.86 489.29 L152.54 489.52 L153.22 489.68 L153.9 489.79 L154.58 489.87 L155.26 489.92 L155.94 489.95 L156.62 489.97 L157.31 489.98 L157.99 489.99 L158.67 490 L159.35 490 L160.03 490 L160.71 490 L161.39 490 L162.07 490 L162.76 490 L163.44 490 L164.12 490 L164.8 490 L165.48 490 L166.16 490 L166.84 490 L167.52 490 L168.21 490 L168.89 490 L169.57 490 L170.25 490 L170.93 490 L171.61 490 L172.29 490 L172.97 490 L173.66 490 L174.34 490 L175.02 490 L175.7 490" fill="none" stroke="#5aa050" stroke-width="0.7"/>
<line x1="121.2" y1="457.5" x2="175.7" y2="457.5" stroke="#4f9f48" stroke-width="0.7" />
<line x1="121.2" y1="468" x2="175.7" y2="468" stroke="#4f9f48" stroke-width="0.7" />
<line x1="121.2" y1="479.3" x2="175.7" y2="479.3" stroke="#4f9f48" stroke-width="0.7" />
<rect x="121.2" y="434.2" width="54.5" height="56.4" fill="none" stroke="#222" stroke-width="1"/>
<line x1="124" y1="490.6" x2="124" y2="491.8" stroke="#555" stroke-width="0.5" />
<line x1="128" y1="490.6" x2="128" y2="491.8" stroke="#555" stroke-width="0.5" />
<line x1="132" y1="490.6" x2="132" y2="491.8" stroke="#555" stroke-width="0.5" />
<line x1="136" y1="490.6" x2="136" y2="491.8" stroke="#555" stroke-width="0.5" />
<line x1="140" y1="490.6" x2="140" y2="491.8" stroke="#555" stroke-width="0.5" />
<line x1="144" y1="490.6" x2="144" y2="491.8" stroke="#555" stroke-width="0.5" />
<line x1="148" y1="490.6" x2="148" y2="491.8" stroke="#555" stroke-width="0.5" />
<line x1="152" y1="490.6" x2="152" y2="491.8" stroke="#555" stroke-width="0.5" />
<line x1="156" y1="490.6" x2="156" y2="491.8" stroke="#555" stroke-width="0.5" />
<line x1="160" y1="490.6" x2="160" y2="491.8" stroke="#555" stroke-width="0.5" />
<line x1="164" y1="490.6" x2="164" y2="491.8" stroke="#555" stroke-width="0.5" />
<line x1="168" y1="490.6" x2="168" y2="491.8" stroke="#555" stroke-width="0.5" />
<line x1="172" y1="490.6" x2="172" y2="491.8" stroke="#555" stroke-width="0.5" />
<text x="176" y="456.3" font-size="6" fill="#444" color="#444" text-anchor="end" textLength="16.7" lengthAdjust="spacingAndGlyphs" >EMRA</text>
<text x="173" y="467.1" font-size="6" fill="#444" color="#444" text-anchor="end" >EM</text>
<text x="173.2" y="478.6" font-size="6" fill="#444" color="#444" text-anchor="end" >CM</text>
<text x="174" y="489" font-size="5.6" fill="#444" color="#444" text-anchor="end" >Naive</text>
<path d="M120.4 518.02 L121.09 517.99 L121.77 517.96 L122.46 517.92 L123.15 517.87 L123.83 517.82 L124.52 517.75 L125.2 517.68 L125.89 517.59 L126.58 517.5 L127.26 517.4 L127.95 517.29 L128.64 517.17 L129.32 517.05 L130.01 516.93 L130.69 516.8 L131.38 516.66 L132.07 516.52 L132.75 516.36 L133.44 516.18 L134.12 515.98 L134.81 515.73 L135.5 515.42 L136.18 515.05 L136.87 514.6 L137.56 514.04 L138.24 513.39 L138.93 512.62 L139.62 511.74 L140.3 510.73 L140.99 509.59 L141.67 508.33 L142.36 506.97 L143.05 505.59 L143.73 504.33 L144.42 503.34 L145.11 502.81 L145.79 502.84 L146.48 503.43 L147.16 504.49 L147.85 505.87 L148.54 507.38 L149.22 508.88 L149.91 510.29 L150.59 511.58 L151.28 512.73 L151.97 513.74 L152.65 514.63 L153.34 515.39 L154.03 516.02 L154.71 516.54 L155.4 516.96 L156.09 517.28 L156.77 517.53 L157.46 517.71 L158.14 517.84 L158.83 517.93 L159.52 517.99 L160.2 518.03 L160.89 518.06 L161.58 518.07 L162.26 518.08 L162.95 518.09 L163.63 518.1 L164.32 518.1 L165.01 518.1 L165.69 518.1 L166.38 518.1 L167.06 518.1 L167.75 518.1 L168.44 518.1 L169.12 518.1 L169.81 518.1 L170.5 518.1 L171.18 518.1 L171.87 518.1 L172.56 518.1 L173.24 518.1 L173.93 518.1 L174.61 518.1 L175.3 518.1 L175.3 518.1 L120.4 518.1 Z" fill="#b9bdcc" fill-opacity="1" stroke="none"/>
<path d="M120.4 518.02 L121.09 517.99 L121.77 517.96 L122.46 517.92 L123.15 517.87 L123.83 517.82 L124.52 517.75 L125.2 517.68 L125.89 517.59 L126.58 517.5 L127.26 517.4 L127.95 517.29 L128.64 517.17 L129.32 517.05 L130.01 516.93 L130.69 516.8 L131.38 516.66 L132.07 516.52 L132.75 516.36 L133.44 516.18 L134.12 515.98 L134.81 515.73 L135.5 515.42 L136.18 515.05 L136.87 514.6 L137.56 514.04 L138.24 513.39 L138.93 512.62 L139.62 511.74 L140.3 510.73 L140.99 509.59 L141.67 508.33 L142.36 506.97 L143.05 505.59 L143.73 504.33 L144.42 503.34 L145.11 502.81 L145.79 502.84 L146.48 503.43 L147.16 504.49 L147.85 505.87 L148.54 507.38 L149.22 508.88 L149.91 510.29 L150.59 511.58 L151.28 512.73 L151.97 513.74 L152.65 514.63 L153.34 515.39 L154.03 516.02 L154.71 516.54 L155.4 516.96 L156.09 517.28 L156.77 517.53 L157.46 517.71 L158.14 517.84 L158.83 517.93 L159.52 517.99 L160.2 518.03 L160.89 518.06 L161.58 518.07 L162.26 518.08 L162.95 518.09 L163.63 518.1 L164.32 518.1 L165.01 518.1 L165.69 518.1 L166.38 518.1 L167.06 518.1 L167.75 518.1 L168.44 518.1 L169.12 518.1 L169.81 518.1 L170.5 518.1 L171.18 518.1 L171.87 518.1 L172.56 518.1 L173.24 518.1 L173.93 518.1 L174.61 518.1 L175.3 518.1" fill="none" stroke="#3a3a3a" stroke-width="0.7"/>
<line x1="120.4" y1="518.1" x2="175.3" y2="518.1" stroke="#3a3a3a" stroke-width="0.7" />
<path d="M120.4 529.59 L121.09 529.55 L121.77 529.51 L122.46 529.46 L123.15 529.41 L123.83 529.34 L124.52 529.27 L125.2 529.19 L125.89 529.1 L126.58 529 L127.26 528.89 L127.95 528.78 L128.64 528.67 L129.32 528.55 L130.01 528.43 L130.69 528.31 L131.38 528.18 L132.07 528.03 L132.75 527.87 L133.44 527.67 L134.12 527.44 L134.81 527.14 L135.5 526.78 L136.18 526.34 L136.87 525.8 L137.56 525.16 L138.24 524.4 L138.93 523.53 L139.62 522.53 L140.3 521.4 L140.99 520.14 L141.67 518.79 L142.36 517.42 L143.05 516.16 L143.73 515.19 L144.42 514.66 L145.11 514.69 L145.79 515.28 L146.48 516.34 L147.16 517.7 L147.85 519.19 L148.54 520.67 L149.22 522.06 L149.91 523.32 L150.59 524.45 L151.28 525.44 L151.97 526.31 L152.65 527.05 L153.34 527.67 L154.03 528.18 L154.71 528.59 L155.4 528.9 L156.09 529.14 L156.77 529.32 L157.46 529.44 L158.14 529.53 L158.83 529.59 L159.52 529.63 L160.2 529.66 L160.89 529.68 L161.58 529.69 L162.26 529.69 L162.95 529.7 L163.63 529.7 L164.32 529.7 L165.01 529.7 L165.69 529.7 L166.38 529.7 L167.06 529.7 L167.75 529.7 L168.44 529.7 L169.12 529.7 L169.81 529.7 L170.5 529.7 L171.18 529.7 L171.87 529.7 L172.56 529.7 L173.24 529.7 L173.93 529.7 L174.61 529.7 L175.3 529.7 L175.3 529.7 L120.4 529.7 Z" fill="#8d93a2" fill-opacity="1" stroke="none"/>
<path d="M120.4 529.59 L121.09 529.55 L121.77 529.51 L122.46 529.46 L123.15 529.41 L123.83 529.34 L124.52 529.27 L125.2 529.19 L125.89 529.1 L126.58 529 L127.26 528.89 L127.95 528.78 L128.64 528.67 L129.32 528.55 L130.01 528.43 L130.69 528.31 L131.38 528.18 L132.07 528.03 L132.75 527.87 L133.44 527.67 L134.12 527.44 L134.81 527.14 L135.5 526.78 L136.18 526.34 L136.87 525.8 L137.56 525.16 L138.24 524.4 L138.93 523.53 L139.62 522.53 L140.3 521.4 L140.99 520.14 L141.67 518.79 L142.36 517.42 L143.05 516.16 L143.73 515.19 L144.42 514.66 L145.11 514.69 L145.79 515.28 L146.48 516.34 L147.16 517.7 L147.85 519.19 L148.54 520.67 L149.22 522.06 L149.91 523.32 L150.59 524.45 L151.28 525.44 L151.97 526.31 L152.65 527.05 L153.34 527.67 L154.03 528.18 L154.71 528.59 L155.4 528.9 L156.09 529.14 L156.77 529.32 L157.46 529.44 L158.14 529.53 L158.83 529.59 L159.52 529.63 L160.2 529.66 L160.89 529.68 L161.58 529.69 L162.26 529.69 L162.95 529.7 L163.63 529.7 L164.32 529.7 L165.01 529.7 L165.69 529.7 L166.38 529.7 L167.06 529.7 L167.75 529.7 L168.44 529.7 L169.12 529.7 L169.81 529.7 L170.5 529.7 L171.18 529.7 L171.87 529.7 L172.56 529.7 L173.24 529.7 L173.93 529.7 L174.61 529.7 L175.3 529.7" fill="none" stroke="#363636" stroke-width="0.7"/>
<line x1="120.4" y1="529.7" x2="175.3" y2="529.7" stroke="#3a3a3a" stroke-width="0.7" />
<path d="M120.4 540.3 L121.09 540.3 L121.77 540.3 L122.46 540.3 L123.15 540.3 L123.83 540.3 L124.52 540.3 L125.2 540.3 L125.89 540.3 L126.58 540.3 L127.26 540.3 L127.95 540.29 L128.64 540.29 L129.32 540.28 L130.01 540.27 L130.69 540.25 L131.38 540.21 L132.07 540.17 L132.75 540.09 L133.44 539.99 L134.12 539.84 L134.81 539.64 L135.5 539.36 L136.18 539 L136.87 538.53 L137.56 537.95 L138.24 537.23 L138.93 536.38 L139.62 535.37 L140.3 534.2 L140.99 532.85 L141.67 531.29 L142.36 529.53 L143.05 527.59 L143.73 525.6 L144.42 523.78 L145.11 522.38 L145.79 521.63 L146.48 521.62 L147.16 522.28 L147.85 523.41 L148.54 524.79 L149.22 526.25 L149.91 527.7 L150.59 529.13 L151.28 530.52 L151.97 531.87 L152.65 533.16 L153.34 534.37 L154.03 535.47 L154.71 536.44 L155.4 537.29 L156.09 537.99 L156.77 538.57 L157.46 539.02 L158.14 539.38 L158.83 539.65 L159.52 539.85 L160.2 540 L160.89 540.1 L161.58 540.17 L162.26 540.22 L162.95 540.25 L163.63 540.27 L164.32 540.28 L165.01 540.29 L165.69 540.29 L166.38 540.3 L167.06 540.3 L167.75 540.3 L168.44 540.3 L169.12 540.3 L169.81 540.3 L170.5 540.3 L171.18 540.3 L171.87 540.3 L172.56 540.3 L173.24 540.3 L173.93 540.3 L174.61 540.3 L175.3 540.3 L175.3 540.3 L120.4 540.3 Z" fill="#5d6577" fill-opacity="1" stroke="none"/>
<path d="M120.4 540.3 L121.09 540.3 L121.77 540.3 L122.46 540.3 L123.15 540.3 L123.83 540.3 L124.52 540.3 L125.2 540.3 L125.89 540.3 L126.58 540.3 L127.26 540.3 L127.95 540.29 L128.64 540.29 L129.32 540.28 L130.01 540.27 L130.69 540.25 L131.38 540.21 L132.07 540.17 L132.75 540.09 L133.44 539.99 L134.12 539.84 L134.81 539.64 L135.5 539.36 L136.18 539 L136.87 538.53 L137.56 537.95 L138.24 537.23 L138.93 536.38 L139.62 535.37 L140.3 534.2 L140.99 532.85 L141.67 531.29 L142.36 529.53 L143.05 527.59 L143.73 525.6 L144.42 523.78 L145.11 522.38 L145.79 521.63 L146.48 521.62 L147.16 522.28 L147.85 523.41 L148.54 524.79 L149.22 526.25 L149.91 527.7 L150.59 529.13 L151.28 530.52 L151.97 531.87 L152.65 533.16 L153.34 534.37 L154.03 535.47 L154.71 536.44 L155.4 537.29 L156.09 537.99 L156.77 538.57 L157.46 539.02 L158.14 539.38 L158.83 539.65 L159.52 539.85 L160.2 540 L160.89 540.1 L161.58 540.17 L162.26 540.22 L162.95 540.25 L163.63 540.27 L164.32 540.28 L165.01 540.29 L165.69 540.29 L166.38 540.3 L167.06 540.3 L167.75 540.3 L168.44 540.3 L169.12 540.3 L169.81 540.3 L170.5 540.3 L171.18 540.3 L171.87 540.3 L172.56 540.3 L173.24 540.3 L173.93 540.3 L174.61 540.3 L175.3 540.3" fill="none" stroke="#2e2e38" stroke-width="0.7"/>
<line x1="120.4" y1="540.3" x2="175.3" y2="540.3" stroke="#3a3a3a" stroke-width="0.7" />
<path d="M120.4 550.9 L121.09 550.9 L121.77 550.9 L122.46 550.9 L123.15 550.9 L123.83 550.89 L124.52 550.89 L125.2 550.88 L125.89 550.87 L126.58 550.84 L127.26 550.81 L127.95 550.76 L128.64 550.69 L129.32 550.58 L130.01 550.43 L130.69 550.22 L131.38 549.94 L132.07 549.58 L132.75 549.11 L133.44 548.52 L134.12 547.8 L134.81 546.95 L135.5 545.94 L136.18 544.78 L136.87 543.45 L137.56 541.92 L138.24 540.19 L138.93 538.29 L139.62 536.34 L140.3 534.55 L140.99 533.19 L141.67 532.47 L142.36 532.5 L143.05 533.18 L143.73 534.34 L144.42 535.74 L145.11 537.21 L145.79 538.67 L146.48 540.09 L147.16 541.46 L147.85 542.79 L148.54 544.05 L149.22 545.22 L149.91 546.29 L150.59 547.23 L151.28 548.04 L151.97 548.71 L152.65 549.26 L153.34 549.7 L154.03 550.04 L154.71 550.29 L155.4 550.48 L156.09 550.62 L156.77 550.71 L157.46 550.78 L158.14 550.82 L158.83 550.85 L159.52 550.87 L160.2 550.88 L160.89 550.89 L161.58 550.89 L162.26 550.9 L162.95 550.9 L163.63 550.9 L164.32 550.9 L165.01 550.9 L165.69 550.9 L166.38 550.9 L167.06 550.9 L167.75 550.9 L168.44 550.9 L169.12 550.9 L169.81 550.9 L170.5 550.9 L171.18 550.9 L171.87 550.9 L172.56 550.9 L173.24 550.9 L173.93 550.9 L174.61 550.9 L175.3 550.9 L175.3 550.9 L120.4 550.9 Z" fill="#a596d9" fill-opacity="1" stroke="none"/>
<path d="M120.4 550.9 L121.09 550.9 L121.77 550.9 L122.46 550.9 L123.15 550.9 L123.83 550.89 L124.52 550.89 L125.2 550.88 L125.89 550.87 L126.58 550.84 L127.26 550.81 L127.95 550.76 L128.64 550.69 L129.32 550.58 L130.01 550.43 L130.69 550.22 L131.38 549.94 L132.07 549.58 L132.75 549.11 L133.44 548.52 L134.12 547.8 L134.81 546.95 L135.5 545.94 L136.18 544.78 L136.87 543.45 L137.56 541.92 L138.24 540.19 L138.93 538.29 L139.62 536.34 L140.3 534.55 L140.99 533.19 L141.67 532.47 L142.36 532.5 L143.05 533.18 L143.73 534.34 L144.42 535.74 L145.11 537.21 L145.79 538.67 L146.48 540.09 L147.16 541.46 L147.85 542.79 L148.54 544.05 L149.22 545.22 L149.91 546.29 L150.59 547.23 L151.28 548.04 L151.97 548.71 L152.65 549.26 L153.34 549.7 L154.03 550.04 L154.71 550.29 L155.4 550.48 L156.09 550.62 L156.77 550.71 L157.46 550.78 L158.14 550.82 L158.83 550.85 L159.52 550.87 L160.2 550.88 L160.89 550.89 L161.58 550.89 L162.26 550.9 L162.95 550.9 L163.63 550.9 L164.32 550.9 L165.01 550.9 L165.69 550.9 L166.38 550.9 L167.06 550.9 L167.75 550.9 L168.44 550.9 L169.12 550.9 L169.81 550.9 L170.5 550.9 L171.18 550.9 L171.87 550.9 L172.56 550.9 L173.24 550.9 L173.93 550.9 L174.61 550.9 L175.3 550.9" fill="none" stroke="#9384cf" stroke-width="0.4"/>
<rect x="120.4" y="495.5" width="54.9" height="55.4" fill="none" stroke="#222" stroke-width="1"/>
<line x1="124" y1="550.9" x2="124" y2="552.2" stroke="#555" stroke-width="0.5" />
<line x1="128" y1="550.9" x2="128" y2="552.2" stroke="#555" stroke-width="0.5" />
<line x1="132" y1="550.9" x2="132" y2="552.2" stroke="#555" stroke-width="0.5" />
<line x1="136" y1="550.9" x2="136" y2="552.2" stroke="#555" stroke-width="0.5" />
<line x1="140" y1="550.9" x2="140" y2="552.2" stroke="#555" stroke-width="0.5" />
<line x1="144" y1="550.9" x2="144" y2="552.2" stroke="#555" stroke-width="0.5" />
<line x1="148" y1="550.9" x2="148" y2="552.2" stroke="#555" stroke-width="0.5" />
<line x1="152" y1="550.9" x2="152" y2="552.2" stroke="#555" stroke-width="0.5" />
<line x1="156" y1="550.9" x2="156" y2="552.2" stroke="#555" stroke-width="0.5" />
<line x1="160" y1="550.9" x2="160" y2="552.2" stroke="#555" stroke-width="0.5" />
<line x1="164" y1="550.9" x2="164" y2="552.2" stroke="#555" stroke-width="0.5" />
<line x1="168" y1="550.9" x2="168" y2="552.2" stroke="#555" stroke-width="0.5" />
<line x1="172" y1="550.9" x2="172" y2="552.2" stroke="#555" stroke-width="0.5" />
<text x="173.5" y="509.1" font-size="6" fill="#444" color="#444" text-anchor="end" >PD-1<tspan font-size="3.47" dy="-2.13">+</tspan><tspan dy="2.13"></tspan></text>
<text x="174" y="516.1" font-size="6" fill="#444" color="#444" text-anchor="end" >TIGIT<tspan font-size="3.47" dy="-2.13">+</tspan><tspan dy="2.13"></tspan></text>
<text x="173.5" y="527.6" font-size="6" fill="#444" color="#444" text-anchor="end" >PD-1<tspan font-size="3.47" dy="-2.13">+</tspan><tspan dy="2.13"></tspan></text>
<text x="174" y="538.2" font-size="6" fill="#444" color="#444" text-anchor="end" >TIGIT<tspan font-size="3.47" dy="-2.13">+</tspan><tspan dy="2.13"></tspan></text>
<text x="172.3" y="548.2" font-size="6" fill="#444" color="#444" text-anchor="end" >Neg.</text>
<line x1="198.5" y1="451.6" x2="198.5" y2="523.7" stroke="#141414" stroke-width="1.1" />
<line x1="195.7" y1="513" x2="198.5" y2="513" stroke="#141414" stroke-width="0.9" />
<text x="193.2" y="515.23" font-size="6.2" fill="#383838" color="#383838" text-anchor="end" class="t">100</text>
<line x1="195.7" y1="492.7" x2="198.5" y2="492.7" stroke="#141414" stroke-width="0.9" />
<text x="193.2" y="494.93" font-size="6.2" fill="#383838" color="#383838" text-anchor="end" class="t">200</text>
<line x1="195.7" y1="472.4" x2="198.5" y2="472.4" stroke="#141414" stroke-width="0.9" />
<text x="193.2" y="474.63" font-size="6.2" fill="#383838" color="#383838" text-anchor="end" class="t">300</text>
<line x1="195.7" y1="452.1" x2="198.5" y2="452.1" stroke="#141414" stroke-width="0.9" />
<text x="193.2" y="454.33" font-size="6.2" fill="#383838" color="#383838" text-anchor="end" class="t">400</text>
<rect x="202.2" y="501.83" width="7.1" height="21.37" fill="#cf102e" />
<rect x="213.2" y="494.12" width="7" height="29.08" fill="#cf102e" />
<rect x="224.1" y="495.75" width="6.9" height="27.46" fill="#cf102e" />
<rect x="235.2" y="501.83" width="6.9" height="21.37" fill="#cf102e" />
<line x1="198" y1="523.5" x2="246.9" y2="523.5" stroke="#141414" stroke-width="1.1" />
<line x1="205.75" y1="523.2" x2="205.75" y2="526.2" stroke="#141414" stroke-width="0.9" />
<line x1="216.7" y1="523.2" x2="216.7" y2="526.2" stroke="#141414" stroke-width="0.9" />
<line x1="227.55" y1="523.2" x2="227.55" y2="526.2" stroke="#141414" stroke-width="0.9" />
<line x1="238.65" y1="523.2" x2="238.65" y2="526.2" stroke="#141414" stroke-width="0.9" />
<line x1="206" y1="449.5" x2="227.5" y2="449.5" stroke="#303030" stroke-width="1.0" />
<text x="217" y="449" font-size="5" fill="#141414" color="#141414" text-anchor="middle" letter-spacing="0.5">**</text>
<line x1="206" y1="456.5" x2="216.6" y2="456.5" stroke="#303030" stroke-width="1.0" />
<text x="211.55" y="456" font-size="5" fill="#141414" color="#141414" text-anchor="middle" letter-spacing="0.5">**</text>
<circle cx="204.6" cy="485.4" r="1.5" fill="#fff" stroke="#222" stroke-width="0.75"/>
<circle cx="206.7" cy="486.1" r="1.5" fill="#fff" stroke="#222" stroke-width="0.75"/>
<circle cx="206" cy="499.4" r="1.5" fill="#fff" stroke="#222" stroke-width="0.75"/>
<circle cx="208.1" cy="499.8" r="1.5" fill="#fff" stroke="#222" stroke-width="0.75"/>
<circle cx="204.3" cy="502.4" r="1.5" fill="#fff" stroke="#222" stroke-width="0.75"/>
<circle cx="206.4" cy="505.1" r="1.5" fill="#fff" stroke="#222" stroke-width="0.75"/>
<circle cx="203.7" cy="507.7" r="1.5" fill="#fff" stroke="#222" stroke-width="0.75"/>
<circle cx="207.3" cy="508.6" r="1.5" fill="#fff" stroke="#222" stroke-width="0.75"/>
<circle cx="205.5" cy="511.2" r="1.5" fill="#fff" stroke="#222" stroke-width="0.75"/>
<circle cx="204.6" cy="514.7" r="1.5" fill="#fff" stroke="#222" stroke-width="0.75"/>
<circle cx="206.4" cy="515.6" r="1.5" fill="#fff" stroke="#222" stroke-width="0.75"/>
<circle cx="216.6" cy="459.3" r="1.5" fill="#fff" stroke="#222" stroke-width="0.75"/>
<circle cx="216.9" cy="483.6" r="1.5" fill="#fff" stroke="#222" stroke-width="0.75"/>
<circle cx="215.2" cy="484" r="1.5" fill="#fff" stroke="#222" stroke-width="0.75"/>
<circle cx="216.6" cy="491.9" r="1.5" fill="#fff" stroke="#222" stroke-width="0.75"/>
<circle cx="215.2" cy="494.5" r="1.5" fill="#fff" stroke="#222" stroke-width="0.75"/>
<circle cx="217.8" cy="495.9" r="1.5" fill="#fff" stroke="#222" stroke-width="0.75"/>
<circle cx="215.2" cy="501.6" r="1.5" fill="#fff" stroke="#222" stroke-width="0.75"/>
<circle cx="218.3" cy="501.9" r="1.5" fill="#fff" stroke="#222" stroke-width="0.75"/>
<circle cx="216.9" cy="506" r="1.5" fill="#fff" stroke="#222" stroke-width="0.75"/>
<circle cx="227.5" cy="477.5" r="1.5" fill="#fff" stroke="#222" stroke-width="0.75"/>
<circle cx="227.1" cy="482.2" r="1.5" fill="#fff" stroke="#222" stroke-width="0.75"/>
<circle cx="227.5" cy="490.7" r="1.5" fill="#fff" stroke="#222" stroke-width="0.75"/>
<circle cx="225.7" cy="495.9" r="1.5" fill="#fff" stroke="#222" stroke-width="0.75"/>
<circle cx="229.2" cy="495.4" r="1.5" fill="#fff" stroke="#222" stroke-width="0.75"/>
<circle cx="226.1" cy="500.7" r="1.5" fill="#fff" stroke="#222" stroke-width="0.75"/>
<circle cx="228.4" cy="503.3" r="1.5" fill="#fff" stroke="#222" stroke-width="0.75"/>
<circle cx="226.6" cy="506" r="1.5" fill="#fff" stroke="#222" stroke-width="0.75"/>
<circle cx="238.6" cy="487.8" r="1.5" fill="#fff" stroke="#222" stroke-width="0.75"/>
<circle cx="238.9" cy="492.8" r="1.5" fill="#fff" stroke="#222" stroke-width="0.75"/>
<circle cx="237.7" cy="499.4" r="1.5" fill="#fff" stroke="#222" stroke-width="0.75"/>
<circle cx="240.7" cy="498.9" r="1.5" fill="#fff" stroke="#222" stroke-width="0.75"/>
<circle cx="237.2" cy="501.6" r="1.5" fill="#fff" stroke="#222" stroke-width="0.75"/>
<circle cx="239.8" cy="503.3" r="1.5" fill="#fff" stroke="#222" stroke-width="0.75"/>
<circle cx="238.4" cy="506" r="1.5" fill="#fff" stroke="#222" stroke-width="0.75"/>
<circle cx="240.7" cy="507.7" r="1.5" fill="#fff" stroke="#222" stroke-width="0.75"/>
<circle cx="238" cy="510" r="1.5" fill="#fff" stroke="#222" stroke-width="0.75"/>
<text x="208.65" y="531" font-size="5.8" fill="#141414" color="#141414" text-anchor="end" transform="rotate(-45 208.65 531)" >Naive</text>
<text x="219.6" y="531" font-size="5.8" fill="#141414" color="#141414" text-anchor="end" transform="rotate(-45 219.6 531)" >CM</text>
<text x="230.45" y="531" font-size="5.8" fill="#141414" color="#141414" text-anchor="end" transform="rotate(-45 230.45 531)" >EM</text>
<text x="241.55" y="531" font-size="5.8" fill="#141414" color="#141414" text-anchor="end" transform="rotate(-45 241.55 531)" >EMRA</text>
<line x1="267.5" y1="450.6" x2="267.5" y2="523.6" stroke="#141414" stroke-width="1.1" />
<line x1="264.9" y1="508.9" x2="267.7" y2="508.9" stroke="#141414" stroke-width="0.9" />
<text x="262.4" y="511.13" font-size="6.2" fill="#383838" color="#383838" text-anchor="end" class="t">100</text>
<line x1="264.9" y1="480" x2="267.7" y2="480" stroke="#141414" stroke-width="0.9" />
<text x="262.4" y="482.23" font-size="6.2" fill="#383838" color="#383838" text-anchor="end" class="t">200</text>
<line x1="264.9" y1="451.1" x2="267.7" y2="451.1" stroke="#141414" stroke-width="0.9" />
<text x="262.4" y="453.33" font-size="6.2" fill="#383838" color="#383838" text-anchor="end" class="t">300</text>
<rect x="271.2" y="498.78" width="6.9" height="24.32" fill="#cf102e" />
<rect x="282.5" y="488.67" width="7.2" height="34.43" fill="#cf102e" />
<rect x="293.4" y="485.78" width="7.2" height="37.32" fill="#cf102e" />
<rect x="304.4" y="485.78" width="7.4" height="37.32" fill="#cf102e" />
<line x1="267.2" y1="523.5" x2="315.6" y2="523.5" stroke="#141414" stroke-width="1.1" />
<line x1="274.65" y1="523.1" x2="274.65" y2="526.1" stroke="#141414" stroke-width="0.9" />
<line x1="286.1" y1="523.1" x2="286.1" y2="526.1" stroke="#141414" stroke-width="0.9" />
<line x1="297" y1="523.1" x2="297" y2="526.1" stroke="#141414" stroke-width="0.9" />
<line x1="308.1" y1="523.1" x2="308.1" y2="526.1" stroke="#141414" stroke-width="0.9" />
<line x1="274.8" y1="450.5" x2="308.1" y2="450.5" stroke="#303030" stroke-width="1.0" />
<text x="291.7" y="450" font-size="5" fill="#141414" color="#141414" text-anchor="middle" letter-spacing="0.5">**</text>
<line x1="274.8" y1="456.5" x2="296.8" y2="456.5" stroke="#303030" stroke-width="1.0" />
<text x="286.05" y="456" font-size="5" fill="#141414" color="#141414" text-anchor="middle" letter-spacing="0.5">**</text>
<line x1="274.8" y1="462.5" x2="285.4" y2="462.5" stroke="#303030" stroke-width="1.0" />
<text x="280.35" y="462" font-size="5" fill="#141414" color="#141414" text-anchor="middle" letter-spacing="0.5">**</text>
<circle cx="274.8" cy="480.1" r="1.5" fill="#fff" stroke="#222" stroke-width="0.75"/>
<circle cx="274.8" cy="489.5" r="1.5" fill="#fff" stroke="#222" stroke-width="0.75"/>
<circle cx="273.3" cy="492" r="1.5" fill="#fff" stroke="#222" stroke-width="0.75"/>
<circle cx="276.5" cy="492" r="1.5" fill="#fff" stroke="#222" stroke-width="0.75"/>
<circle cx="274" cy="500.8" r="1.5" fill="#fff" stroke="#222" stroke-width="0.75"/>
<circle cx="277.3" cy="502.1" r="1.5" fill="#fff" stroke="#222" stroke-width="0.75"/>
<circle cx="274" cy="505.4" r="1.5" fill="#fff" stroke="#222" stroke-width="0.75"/>
<circle cx="277.3" cy="505.9" r="1.5" fill="#fff" stroke="#222" stroke-width="0.75"/>
<circle cx="275.3" cy="507.9" r="1.5" fill="#fff" stroke="#222" stroke-width="0.75"/>
<circle cx="286.1" cy="470" r="1.5" fill="#fff" stroke="#222" stroke-width="0.75"/>
<circle cx="285.9" cy="475" r="1.5" fill="#fff" stroke="#222" stroke-width="0.75"/>
<circle cx="285.4" cy="486.9" r="1.5" fill="#fff" stroke="#222" stroke-width="0.75"/>
<circle cx="288.4" cy="488.2" r="1.5" fill="#fff" stroke="#222" stroke-width="0.75"/>
<circle cx="284.1" cy="492.7" r="1.5" fill="#fff" stroke="#222" stroke-width="0.75"/>
<circle cx="287.9" cy="494.5" r="1.5" fill="#fff" stroke="#222" stroke-width="0.75"/>
<circle cx="286.7" cy="499.6" r="1.5" fill="#fff" stroke="#222" stroke-width="0.75"/>
<circle cx="284.9" cy="502.1" r="1.5" fill="#fff" stroke="#222" stroke-width="0.75"/>
<circle cx="288.4" cy="500.8" r="1.5" fill="#fff" stroke="#222" stroke-width="0.75"/>
<circle cx="285.9" cy="507.2" r="1.5" fill="#fff" stroke="#222" stroke-width="0.75"/>
<circle cx="296.8" cy="468.5" r="1.5" fill="#fff" stroke="#222" stroke-width="0.75"/>
<circle cx="298" cy="471.8" r="1.5" fill="#fff" stroke="#222" stroke-width="0.75"/>
<circle cx="295.5" cy="484.4" r="1.5" fill="#fff" stroke="#222" stroke-width="0.75"/>
<circle cx="299.3" cy="485.2" r="1.5" fill="#fff" stroke="#222" stroke-width="0.75"/>
<circle cx="296.8" cy="490.2" r="1.5" fill="#fff" stroke="#222" stroke-width="0.75"/>
<circle cx="295" cy="492.7" r="1.5" fill="#fff" stroke="#222" stroke-width="0.75"/>
<circle cx="298" cy="493.8" r="1.5" fill="#fff" stroke="#222" stroke-width="0.75"/>
<circle cx="296.3" cy="499.6" r="1.5" fill="#fff" stroke="#222" stroke-width="0.75"/>
<circle cx="308.1" cy="454.8" r="1.5" fill="#fff" stroke="#222" stroke-width="0.75"/>
<circle cx="307.6" cy="465" r="1.5" fill="#fff" stroke="#222" stroke-width="0.75"/>
<circle cx="306.1" cy="476.8" r="1.5" fill="#fff" stroke="#222" stroke-width="0.75"/>
<circle cx="309.4" cy="479.3" r="1.5" fill="#fff" stroke="#222" stroke-width="0.75"/>
<circle cx="307.6" cy="484.4" r="1.5" fill="#fff" stroke="#222" stroke-width="0.75"/>
<circle cx="305.6" cy="495.8" r="1.5" fill="#fff" stroke="#222" stroke-width="0.75"/>
<circle cx="309.4" cy="497" r="1.5" fill="#fff" stroke="#222" stroke-width="0.75"/>
<circle cx="306.9" cy="500.8" r="1.5" fill="#fff" stroke="#222" stroke-width="0.75"/>
<circle cx="310.2" cy="500.3" r="1.5" fill="#fff" stroke="#222" stroke-width="0.75"/>
<circle cx="308.1" cy="503.9" r="1.5" fill="#fff" stroke="#222" stroke-width="0.75"/>
<text x="276.55" y="530.9" font-size="5.8" fill="#141414" color="#141414" text-anchor="end" transform="rotate(-45 276.55 530.9)" >Neg.</text>
<text x="288" y="530.9" font-size="5.8" fill="#141414" color="#141414" text-anchor="end" transform="rotate(-45 288 530.9)" >TIGIT<tspan font-size="3.6" dy="-2.2">+</tspan><tspan dy="2.2"></tspan></text>
<text x="298.9" y="530.9" font-size="5.8" fill="#141414" color="#141414" text-anchor="end" transform="rotate(-45 298.9 530.9)" >PD-1<tspan font-size="3.6" dy="-2.2">+</tspan><tspan dy="2.2"></tspan></text>
<text x="310" y="530.9" font-size="5.8" fill="#141414" color="#141414" text-anchor="end" transform="rotate(-45 310 530.9)" >TIGIT<tspan font-size="3.6" dy="-2.2">+</tspan><tspan dy="2.2">PD-1</tspan><tspan font-size="3.6" dy="-2.2">+</tspan><tspan dy="2.2"></tspan></text>
<text x="348.6" y="428.6" font-size="11" fill="#000" color="#000" font-weight="bold" >K</text>
<line x1="376.5" y1="450.9" x2="376.5" y2="523.6" stroke="#141414" stroke-width="1.1" />
<line x1="373.9" y1="523.1" x2="376.3" y2="523.1" stroke="#141414" stroke-width="0.9" />
<text x="372.3" y="525.4" font-size="6.4" fill="#383838" color="#383838" text-anchor="end" class="t">0.0</text>
<line x1="373.9" y1="508.74" x2="376.3" y2="508.74" stroke="#141414" stroke-width="0.9" />
<text x="372.3" y="511.04" font-size="6.4" fill="#383838" color="#383838" text-anchor="end" class="t">0.5</text>
<line x1="373.9" y1="494.38" x2="376.3" y2="494.38" stroke="#141414" stroke-width="0.9" />
<text x="372.3" y="496.68" font-size="6.4" fill="#383838" color="#383838" text-anchor="end" class="t">1.0</text>
<line x1="373.9" y1="480.02" x2="376.3" y2="480.02" stroke="#141414" stroke-width="0.9" />
<text x="372.3" y="482.32" font-size="6.4" fill="#383838" color="#383838" text-anchor="end" class="t">1.5</text>
<line x1="373.9" y1="465.66" x2="376.3" y2="465.66" stroke="#141414" stroke-width="0.9" />
<text x="372.3" y="467.96" font-size="6.4" fill="#383838" color="#383838" text-anchor="end" class="t">2.0</text>
<line x1="373.9" y1="451.3" x2="376.3" y2="451.3" stroke="#141414" stroke-width="0.9" />
<text x="372.3" y="453.6" font-size="6.4" fill="#383838" color="#383838" text-anchor="end" class="t">2.5</text>
<rect x="382" y="478.01" width="9.8" height="45.09" fill="#cf102e" />
<rect x="397" y="496.68" width="10" height="26.42" fill="#cf102e" />
<line x1="373.7" y1="523.5" x2="411.8" y2="523.5" stroke="#141414" stroke-width="1.1" />
<line x1="386.7" y1="523.1" x2="386.7" y2="526.1" stroke="#141414" stroke-width="0.9" />
<line x1="402" y1="523.1" x2="402" y2="526.1" stroke="#141414" stroke-width="0.9" />
<line x1="386.1" y1="454.5" x2="402" y2="454.5" stroke="#303030" stroke-width="1.0" />
<text x="394.3" y="454" font-size="5" fill="#141414" color="#141414" text-anchor="middle" letter-spacing="0.5">*</text>
<circle cx="386.1" cy="463.9" r="1.5" fill="#fff" stroke="#222" stroke-width="0.8"/>
<circle cx="383" cy="481.2" r="1.5" fill="#fff" stroke="#222" stroke-width="0.8"/>
<circle cx="385.3" cy="483.2" r="1.5" fill="#fff" stroke="#222" stroke-width="0.8"/>
<circle cx="390.3" cy="482.6" r="1.5" fill="#fff" stroke="#222" stroke-width="0.8"/>
<circle cx="397.8" cy="492.4" r="1.5" fill="#fff" stroke="#222" stroke-width="0.8"/>
<circle cx="405.4" cy="491" r="1.5" fill="#fff" stroke="#222" stroke-width="0.8"/>
<circle cx="401.5" cy="495.2" r="1.5" fill="#fff" stroke="#222" stroke-width="0.8"/>
<circle cx="401.5" cy="506.4" r="1.5" fill="#fff" stroke="#222" stroke-width="0.8"/>
<text x="386.9" y="534.3" font-size="6.4" fill="#141414" color="#141414" text-anchor="middle" >BM</text>
<text x="402.2" y="534.3" font-size="6.4" fill="#141414" color="#141414" text-anchor="middle" >PB</text>
<text x="360" y="487" font-size="6.6" fill="#141414" color="#141414" text-anchor="middle" textLength="45" lengthAdjust="spacingAndGlyphs" transform="rotate(-90 360 487)" class="yl">Lipid peroxidation</text>
</svg></body></html>
